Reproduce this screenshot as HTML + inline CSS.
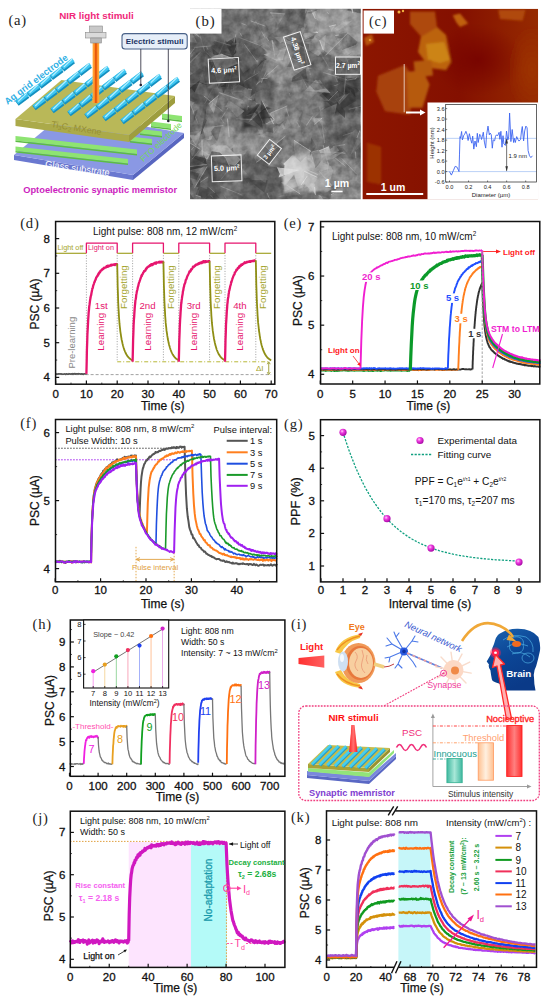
<!DOCTYPE html>
<html><head><meta charset="utf-8"><style>
html,body{margin:0;padding:0;background:#fff;width:550px;height:1004px;overflow:hidden}
svg{display:block}

</style></head><body>
<svg width="550" height="1004" viewBox="0 0 550 1004">
<defs>
<radialGradient id="ball" cx="0.38" cy="0.35" r="0.7"><stop offset="0" stop-color="#ffd0ff"/><stop offset="0.35" stop-color="#f040e0"/><stop offset="1" stop-color="#a000a0"/></radialGradient>
<linearGradient id="beam" x1="0" x2="1"><stop offset="0" stop-color="#ffb040"/><stop offset="0.5" stop-color="#ff7010"/><stop offset="1" stop-color="#ffb040"/></linearGradient>
<linearGradient id="redbeam" x1="0" x2="1"><stop offset="0" stop-color="#ff3030"/><stop offset="1" stop-color="#ff6060"/></linearGradient>
<linearGradient id="spike" x1="0" x2="1"><stop offset="0" stop-color="#ff2020"/><stop offset="0.5" stop-color="#ff7070"/><stop offset="1" stop-color="#ff2020"/></linearGradient>
<linearGradient id="teal" x1="0" x2="1"><stop offset="0" stop-color="#40b8a0"/><stop offset="0.5" stop-color="#a8e8d8"/><stop offset="1" stop-color="#40b8a0"/></linearGradient>
<linearGradient id="peach" x1="0" x2="1"><stop offset="0" stop-color="#ffc090"/><stop offset="0.5" stop-color="#fff0e0"/><stop offset="1" stop-color="#ffc090"/></linearGradient>
<linearGradient id="redbar" x1="0" x2="1"><stop offset="0" stop-color="#ff3030"/><stop offset="0.5" stop-color="#ff8080"/><stop offset="1" stop-color="#ff3030"/></linearGradient>
<linearGradient id="afmbg" x1="0" y1="0" x2="1" y2="0"><stop offset="0" stop-color="#8c1600"/><stop offset="0.55" stop-color="#841000"/><stop offset="1" stop-color="#962a00"/></linearGradient>
<radialGradient id="afmdark"><stop offset="0" stop-color="#740400" stop-opacity="0.8"/><stop offset="1" stop-color="#740400" stop-opacity="0"/></radialGradient>
<radialGradient id="afmlight"><stop offset="0" stop-color="#9e3400" stop-opacity="0.9"/><stop offset="1" stop-color="#9e3400" stop-opacity="0"/></radialGradient>
<filter id="noise" x="0" y="0" width="1" height="1" color-interpolation-filters="sRGB"><feTurbulence type="fractalNoise" baseFrequency="0.12" numOctaves="3" seed="4"/><feColorMatrix type="matrix" values="1 0 0 0 0  1 0 0 0 0  1 0 0 0 0  0 0 0 0 1"/></filter>
<linearGradient id="headg" x1="0" y1="0" x2="0.4" y2="1"><stop offset="0" stop-color="#1a64b0"/><stop offset="0.5" stop-color="#0c4696"/><stop offset="1" stop-color="#0a3a88"/></linearGradient>
<filter id="blur1" x="-0.1" y="-0.1" width="1.2" height="1.2"><feGaussianBlur stdDeviation="1.2"/></filter>
</defs>
<rect width="550" height="1004" fill="#fff"/>
<text x="8.4" y="24.8" font-size="14.6" fill="#222" text-anchor="start" font-weight="normal" font-family="'Liberation Serif', serif" letter-spacing="0.8">(a)</text>
<text x="96.5" y="19" font-size="9.8" fill="#f0287a" text-anchor="middle" font-weight="bold" font-family="'Liberation Sans', sans-serif" >NIR light stimuli</text>
<polygon points="14.0,155.0 133.0,175.0 133.0,180.0 14.0,160.0" fill="#6a78d0" />
<polygon points="133.0,175.0 184.0,133.0 184.0,138.0 133.0,180.0" fill="#5866c0" />
<polygon points="14.0,155.0 65.0,113.0 184.0,133.0 133.0,175.0" fill="#8a98e4" />
<text x="0" y="0" font-size="9.4" fill="#ffffff" text-anchor="middle" font-weight="normal" font-family="'Liberation Sans', sans-serif" transform="translate(77,171.5) rotate(8)">Glass substrate</text>
<polygon points="15.5,136.0 137.0,149.5 137.0,154.0 15.5,140.5" fill="#8ee472" />
<polygon points="15.5,140.5 137.0,154.0 137.0,155.5 15.5,142.0" fill="#5cbc44" />
<polygon points="15.5,146.5 128.0,159.0 128.0,163.5 15.5,151.0" fill="#8ee472" />
<polygon points="15.5,151.0 128.0,163.5 128.0,165.0 15.5,152.5" fill="#5cbc44" />
<polygon points="130.0,136.5 152.0,139.1 152.0,143.6 130.0,141.0" fill="#8ee472" />
<polygon points="130.0,141.0 152.0,143.6 152.0,145.1 130.0,142.5" fill="#5cbc44" />
<polygon points="140.0,129.0 162.0,131.6 162.0,136.1 140.0,133.5" fill="#8ee472" />
<polygon points="140.0,133.5 162.0,136.1 162.0,137.6 140.0,135.0" fill="#5cbc44" />
<polygon points="151.0,121.5 171.0,123.9 171.0,128.4 151.0,126.0" fill="#8ee472" />
<polygon points="151.0,126.0 171.0,128.4 171.0,129.9 151.0,127.5" fill="#5cbc44" />
<polygon points="162.0,113.5 182.0,115.9 182.0,120.4 162.0,118.0" fill="#8ee472" />
<polygon points="162.0,118.0 182.0,120.4 182.0,121.9 162.0,119.5" fill="#5cbc44" />
<polygon points="15.5,119.0 129.0,135.0 129.0,142.0 15.5,126.0" fill="#abaa4a" />
<polygon points="129.0,135.0 175.0,96.0 175.0,103.0 129.0,142.0" fill="#9e9d3e" />
<polygon points="15.5,119.0 61.5,80.0 175.0,96.0 129.0,135.0" fill="#b9b858" />
<text x="0" y="0" font-size="8.8" fill="#968f34" text-anchor="middle" font-weight="normal" font-family="'Liberation Sans', sans-serif" transform="translate(76,131) rotate(9)">Ti<tspan font-size="6" dy="1.5">3</tspan><tspan dy="-1.5">C</tspan><tspan font-size="6" dy="1.5">2</tspan><tspan dy="-1.5"> MXene</tspan></text>
<text x="0" y="0" font-size="8.4" fill="#74d858" text-anchor="middle" font-weight="normal" font-family="'Liberation Sans', sans-serif" transform="translate(163,144) rotate(-43)">FTO electrode</text>
<line x1="17.0" y1="103.6" x2="27.7" y2="95.5" stroke="#1590c0" stroke-width="5.6" stroke-linecap="butt"/>
<line x1="17.0" y1="102.3" x2="27.7" y2="94.2" stroke="#3ec6f2" stroke-width="4.032" stroke-linecap="butt"/>
<line x1="18.2" y1="101.5" x2="26.5" y2="93.4" stroke="#b4f0ff" stroke-width="1.232" stroke-linecap="butt"/>
<line x1="28.4" y1="95.0" x2="39.1" y2="86.9" stroke="#1590c0" stroke-width="5.6" stroke-linecap="butt"/>
<line x1="28.4" y1="93.7" x2="39.1" y2="85.6" stroke="#3ec6f2" stroke-width="4.032" stroke-linecap="butt"/>
<line x1="29.6" y1="92.9" x2="37.9" y2="84.8" stroke="#b4f0ff" stroke-width="1.232" stroke-linecap="butt"/>
<line x1="39.8" y1="86.4" x2="50.5" y2="78.3" stroke="#1590c0" stroke-width="5.6" stroke-linecap="butt"/>
<line x1="39.8" y1="85.1" x2="50.5" y2="77.0" stroke="#3ec6f2" stroke-width="4.032" stroke-linecap="butt"/>
<line x1="41.0" y1="84.3" x2="49.3" y2="76.2" stroke="#b4f0ff" stroke-width="1.232" stroke-linecap="butt"/>
<line x1="51.2" y1="77.8" x2="61.9" y2="69.7" stroke="#1590c0" stroke-width="5.6" stroke-linecap="butt"/>
<line x1="51.2" y1="76.5" x2="61.9" y2="68.4" stroke="#3ec6f2" stroke-width="4.032" stroke-linecap="butt"/>
<line x1="52.4" y1="75.7" x2="60.7" y2="67.6" stroke="#b4f0ff" stroke-width="1.232" stroke-linecap="butt"/>
<line x1="62.6" y1="69.2" x2="73.3" y2="61.1" stroke="#1590c0" stroke-width="5.6" stroke-linecap="butt"/>
<line x1="62.6" y1="67.9" x2="73.3" y2="59.8" stroke="#3ec6f2" stroke-width="4.032" stroke-linecap="butt"/>
<line x1="63.8" y1="67.1" x2="72.1" y2="59.0" stroke="#b4f0ff" stroke-width="1.232" stroke-linecap="butt"/>
<line x1="34.0" y1="108.1" x2="44.7" y2="100.0" stroke="#1590c0" stroke-width="5.6" stroke-linecap="butt"/>
<line x1="34.0" y1="106.8" x2="44.7" y2="98.7" stroke="#3ec6f2" stroke-width="4.032" stroke-linecap="butt"/>
<line x1="35.2" y1="106.0" x2="43.5" y2="97.9" stroke="#b4f0ff" stroke-width="1.232" stroke-linecap="butt"/>
<line x1="45.4" y1="99.5" x2="56.1" y2="91.4" stroke="#1590c0" stroke-width="5.6" stroke-linecap="butt"/>
<line x1="45.4" y1="98.2" x2="56.1" y2="90.1" stroke="#3ec6f2" stroke-width="4.032" stroke-linecap="butt"/>
<line x1="46.6" y1="97.4" x2="54.9" y2="89.3" stroke="#b4f0ff" stroke-width="1.232" stroke-linecap="butt"/>
<line x1="56.8" y1="90.9" x2="67.5" y2="82.8" stroke="#1590c0" stroke-width="5.6" stroke-linecap="butt"/>
<line x1="56.8" y1="89.6" x2="67.5" y2="81.5" stroke="#3ec6f2" stroke-width="4.032" stroke-linecap="butt"/>
<line x1="58.0" y1="88.8" x2="66.3" y2="80.7" stroke="#b4f0ff" stroke-width="1.232" stroke-linecap="butt"/>
<line x1="68.2" y1="82.3" x2="78.9" y2="74.2" stroke="#1590c0" stroke-width="5.6" stroke-linecap="butt"/>
<line x1="68.2" y1="81.0" x2="78.9" y2="72.9" stroke="#3ec6f2" stroke-width="4.032" stroke-linecap="butt"/>
<line x1="69.4" y1="80.2" x2="77.7" y2="72.1" stroke="#b4f0ff" stroke-width="1.232" stroke-linecap="butt"/>
<line x1="79.6" y1="73.7" x2="90.3" y2="65.6" stroke="#1590c0" stroke-width="5.6" stroke-linecap="butt"/>
<line x1="79.6" y1="72.4" x2="90.3" y2="64.3" stroke="#3ec6f2" stroke-width="4.032" stroke-linecap="butt"/>
<line x1="80.8" y1="71.6" x2="89.1" y2="63.5" stroke="#b4f0ff" stroke-width="1.232" stroke-linecap="butt"/>
<line x1="52.0" y1="111.1" x2="62.7" y2="103.0" stroke="#1590c0" stroke-width="5.6" stroke-linecap="butt"/>
<line x1="52.0" y1="109.8" x2="62.7" y2="101.7" stroke="#3ec6f2" stroke-width="4.032" stroke-linecap="butt"/>
<line x1="53.2" y1="109.0" x2="61.5" y2="100.9" stroke="#b4f0ff" stroke-width="1.232" stroke-linecap="butt"/>
<line x1="63.4" y1="102.5" x2="74.1" y2="94.4" stroke="#1590c0" stroke-width="5.6" stroke-linecap="butt"/>
<line x1="63.4" y1="101.2" x2="74.1" y2="93.1" stroke="#3ec6f2" stroke-width="4.032" stroke-linecap="butt"/>
<line x1="64.6" y1="100.4" x2="72.9" y2="92.3" stroke="#b4f0ff" stroke-width="1.232" stroke-linecap="butt"/>
<line x1="74.8" y1="93.9" x2="85.5" y2="85.8" stroke="#1590c0" stroke-width="5.6" stroke-linecap="butt"/>
<line x1="74.8" y1="92.6" x2="85.5" y2="84.5" stroke="#3ec6f2" stroke-width="4.032" stroke-linecap="butt"/>
<line x1="76.0" y1="91.8" x2="84.3" y2="83.7" stroke="#b4f0ff" stroke-width="1.232" stroke-linecap="butt"/>
<line x1="86.2" y1="85.3" x2="96.9" y2="77.2" stroke="#1590c0" stroke-width="5.6" stroke-linecap="butt"/>
<line x1="86.2" y1="84.0" x2="96.9" y2="75.9" stroke="#3ec6f2" stroke-width="4.032" stroke-linecap="butt"/>
<line x1="87.4" y1="83.2" x2="95.7" y2="75.1" stroke="#b4f0ff" stroke-width="1.232" stroke-linecap="butt"/>
<line x1="97.6" y1="76.7" x2="108.3" y2="68.6" stroke="#1590c0" stroke-width="5.6" stroke-linecap="butt"/>
<line x1="97.6" y1="75.4" x2="108.3" y2="67.3" stroke="#3ec6f2" stroke-width="4.032" stroke-linecap="butt"/>
<line x1="98.8" y1="74.6" x2="107.1" y2="66.5" stroke="#b4f0ff" stroke-width="1.232" stroke-linecap="butt"/>
<line x1="69.0" y1="114.1" x2="79.7" y2="106.0" stroke="#1590c0" stroke-width="5.6" stroke-linecap="butt"/>
<line x1="69.0" y1="112.8" x2="79.7" y2="104.7" stroke="#3ec6f2" stroke-width="4.032" stroke-linecap="butt"/>
<line x1="70.2" y1="112.0" x2="78.5" y2="103.9" stroke="#b4f0ff" stroke-width="1.232" stroke-linecap="butt"/>
<line x1="80.4" y1="105.5" x2="91.1" y2="97.4" stroke="#1590c0" stroke-width="5.6" stroke-linecap="butt"/>
<line x1="80.4" y1="104.2" x2="91.1" y2="96.1" stroke="#3ec6f2" stroke-width="4.032" stroke-linecap="butt"/>
<line x1="81.6" y1="103.4" x2="89.9" y2="95.3" stroke="#b4f0ff" stroke-width="1.232" stroke-linecap="butt"/>
<line x1="91.8" y1="96.9" x2="102.5" y2="88.8" stroke="#1590c0" stroke-width="5.6" stroke-linecap="butt"/>
<line x1="91.8" y1="95.6" x2="102.5" y2="87.5" stroke="#3ec6f2" stroke-width="4.032" stroke-linecap="butt"/>
<line x1="93.0" y1="94.8" x2="101.3" y2="86.7" stroke="#b4f0ff" stroke-width="1.232" stroke-linecap="butt"/>
<line x1="103.2" y1="88.3" x2="113.9" y2="80.2" stroke="#1590c0" stroke-width="5.6" stroke-linecap="butt"/>
<line x1="103.2" y1="87.0" x2="113.9" y2="78.9" stroke="#3ec6f2" stroke-width="4.032" stroke-linecap="butt"/>
<line x1="104.4" y1="86.2" x2="112.7" y2="78.1" stroke="#b4f0ff" stroke-width="1.232" stroke-linecap="butt"/>
<line x1="114.6" y1="79.7" x2="125.3" y2="71.6" stroke="#1590c0" stroke-width="5.6" stroke-linecap="butt"/>
<line x1="114.6" y1="78.4" x2="125.3" y2="70.3" stroke="#3ec6f2" stroke-width="4.032" stroke-linecap="butt"/>
<line x1="115.8" y1="77.6" x2="124.1" y2="69.5" stroke="#b4f0ff" stroke-width="1.232" stroke-linecap="butt"/>
<line x1="86.0" y1="116.6" x2="96.7" y2="108.5" stroke="#1590c0" stroke-width="5.6" stroke-linecap="butt"/>
<line x1="86.0" y1="115.3" x2="96.7" y2="107.2" stroke="#3ec6f2" stroke-width="4.032" stroke-linecap="butt"/>
<line x1="87.2" y1="114.5" x2="95.5" y2="106.4" stroke="#b4f0ff" stroke-width="1.232" stroke-linecap="butt"/>
<line x1="97.4" y1="108.0" x2="108.1" y2="99.9" stroke="#1590c0" stroke-width="5.6" stroke-linecap="butt"/>
<line x1="97.4" y1="106.7" x2="108.1" y2="98.6" stroke="#3ec6f2" stroke-width="4.032" stroke-linecap="butt"/>
<line x1="98.6" y1="105.9" x2="106.9" y2="97.8" stroke="#b4f0ff" stroke-width="1.232" stroke-linecap="butt"/>
<line x1="108.8" y1="99.4" x2="119.5" y2="91.3" stroke="#1590c0" stroke-width="5.6" stroke-linecap="butt"/>
<line x1="108.8" y1="98.1" x2="119.5" y2="90.0" stroke="#3ec6f2" stroke-width="4.032" stroke-linecap="butt"/>
<line x1="110.0" y1="97.3" x2="118.3" y2="89.2" stroke="#b4f0ff" stroke-width="1.232" stroke-linecap="butt"/>
<line x1="120.2" y1="90.8" x2="130.9" y2="82.7" stroke="#1590c0" stroke-width="5.6" stroke-linecap="butt"/>
<line x1="120.2" y1="89.5" x2="130.9" y2="81.4" stroke="#3ec6f2" stroke-width="4.032" stroke-linecap="butt"/>
<line x1="121.4" y1="88.7" x2="129.7" y2="80.6" stroke="#b4f0ff" stroke-width="1.232" stroke-linecap="butt"/>
<line x1="131.6" y1="82.2" x2="142.3" y2="74.1" stroke="#1590c0" stroke-width="5.6" stroke-linecap="butt"/>
<line x1="131.6" y1="80.9" x2="142.3" y2="72.8" stroke="#3ec6f2" stroke-width="4.032" stroke-linecap="butt"/>
<line x1="132.8" y1="80.1" x2="141.1" y2="72.0" stroke="#b4f0ff" stroke-width="1.232" stroke-linecap="butt"/>
<line x1="104.0" y1="119.1" x2="114.7" y2="111.0" stroke="#1590c0" stroke-width="5.6" stroke-linecap="butt"/>
<line x1="104.0" y1="117.8" x2="114.7" y2="109.7" stroke="#3ec6f2" stroke-width="4.032" stroke-linecap="butt"/>
<line x1="105.2" y1="117.0" x2="113.5" y2="108.9" stroke="#b4f0ff" stroke-width="1.232" stroke-linecap="butt"/>
<line x1="115.4" y1="110.5" x2="126.1" y2="102.4" stroke="#1590c0" stroke-width="5.6" stroke-linecap="butt"/>
<line x1="115.4" y1="109.2" x2="126.1" y2="101.1" stroke="#3ec6f2" stroke-width="4.032" stroke-linecap="butt"/>
<line x1="116.6" y1="108.4" x2="124.9" y2="100.3" stroke="#b4f0ff" stroke-width="1.232" stroke-linecap="butt"/>
<line x1="126.8" y1="101.9" x2="137.5" y2="93.8" stroke="#1590c0" stroke-width="5.6" stroke-linecap="butt"/>
<line x1="126.8" y1="100.6" x2="137.5" y2="92.5" stroke="#3ec6f2" stroke-width="4.032" stroke-linecap="butt"/>
<line x1="128.0" y1="99.8" x2="136.3" y2="91.7" stroke="#b4f0ff" stroke-width="1.232" stroke-linecap="butt"/>
<line x1="138.2" y1="93.3" x2="148.9" y2="85.2" stroke="#1590c0" stroke-width="5.6" stroke-linecap="butt"/>
<line x1="138.2" y1="92.0" x2="148.9" y2="83.9" stroke="#3ec6f2" stroke-width="4.032" stroke-linecap="butt"/>
<line x1="139.4" y1="91.2" x2="147.7" y2="83.1" stroke="#b4f0ff" stroke-width="1.232" stroke-linecap="butt"/>
<line x1="149.6" y1="84.7" x2="160.3" y2="76.6" stroke="#1590c0" stroke-width="5.6" stroke-linecap="butt"/>
<line x1="149.6" y1="83.4" x2="160.3" y2="75.3" stroke="#3ec6f2" stroke-width="4.032" stroke-linecap="butt"/>
<line x1="150.8" y1="82.6" x2="159.1" y2="74.5" stroke="#b4f0ff" stroke-width="1.232" stroke-linecap="butt"/>
<line x1="122.0" y1="122.1" x2="132.7" y2="114.0" stroke="#1590c0" stroke-width="5.6" stroke-linecap="butt"/>
<line x1="122.0" y1="120.8" x2="132.7" y2="112.7" stroke="#3ec6f2" stroke-width="4.032" stroke-linecap="butt"/>
<line x1="123.2" y1="120.0" x2="131.5" y2="111.9" stroke="#b4f0ff" stroke-width="1.232" stroke-linecap="butt"/>
<line x1="133.4" y1="113.5" x2="144.1" y2="105.4" stroke="#1590c0" stroke-width="5.6" stroke-linecap="butt"/>
<line x1="133.4" y1="112.2" x2="144.1" y2="104.1" stroke="#3ec6f2" stroke-width="4.032" stroke-linecap="butt"/>
<line x1="134.6" y1="111.4" x2="142.9" y2="103.3" stroke="#b4f0ff" stroke-width="1.232" stroke-linecap="butt"/>
<line x1="144.8" y1="104.9" x2="155.5" y2="96.8" stroke="#1590c0" stroke-width="5.6" stroke-linecap="butt"/>
<line x1="144.8" y1="103.6" x2="155.5" y2="95.5" stroke="#3ec6f2" stroke-width="4.032" stroke-linecap="butt"/>
<line x1="146.0" y1="102.8" x2="154.3" y2="94.7" stroke="#b4f0ff" stroke-width="1.232" stroke-linecap="butt"/>
<line x1="156.2" y1="96.3" x2="166.9" y2="88.2" stroke="#1590c0" stroke-width="5.6" stroke-linecap="butt"/>
<line x1="156.2" y1="95.0" x2="166.9" y2="86.9" stroke="#3ec6f2" stroke-width="4.032" stroke-linecap="butt"/>
<line x1="157.4" y1="94.2" x2="165.7" y2="86.1" stroke="#b4f0ff" stroke-width="1.232" stroke-linecap="butt"/>
<line x1="167.6" y1="87.7" x2="178.3" y2="79.6" stroke="#1590c0" stroke-width="5.6" stroke-linecap="butt"/>
<line x1="167.6" y1="86.4" x2="178.3" y2="78.3" stroke="#3ec6f2" stroke-width="4.032" stroke-linecap="butt"/>
<line x1="168.8" y1="85.6" x2="177.1" y2="77.5" stroke="#b4f0ff" stroke-width="1.232" stroke-linecap="butt"/>
<rect x="92.6" y="43" width="6.6" height="60" fill="url(#beam)" stroke="none" stroke-width="1" />
<line x1="95.9" y1="43" x2="95.9" y2="103" stroke="#e0500a" stroke-width="1.4" />
<rect x="89.5" y="26" width="13" height="6.5" fill="#c8c8c8" stroke="#8a8a8a" stroke-width="0.6"/>
<rect x="85.5" y="32.5" width="20.5" height="5.5" fill="#dadada" stroke="#8a8a8a" stroke-width="0.6"/>
<rect x="90.7" y="38" width="10.7" height="5" fill="#b8b8b8" stroke="#8a8a8a" stroke-width="0.6"/>
<rect x="122" y="33.6" width="65.2" height="15.4" fill="#e6eef8" stroke="#4a6288" stroke-width="1.1" rx="3"/>
<text x="154.6" y="44.2" font-size="8.1" fill="#1a3464" text-anchor="middle" font-weight="bold" font-family="'Liberation Sans', sans-serif" >Electric stimuli</text>
<line x1="140.8" y1="49" x2="140.8" y2="85" stroke="#223" stroke-width="0.8" />
<line x1="168.3" y1="49" x2="168.3" y2="121" stroke="#223" stroke-width="0.8" />
<circle cx="140.8" cy="85" r="1.3" fill="#223"/><circle cx="168.3" cy="121" r="1.3" fill="#223"/>
<text x="0" y="0" font-size="9.3" fill="#2fb0e4" text-anchor="middle" font-weight="bold" font-family="'Liberation Sans', sans-serif" transform="translate(38,82) rotate(-37)">Ag grid electrode</text>
<text x="100.2" y="192.6" font-size="9.3" fill="#cc1ebe" text-anchor="middle" font-weight="bold" font-family="'Liberation Sans', sans-serif" >Optoelectronic synaptic memristor</text>
<clipPath id="cb"><rect x="190" y="8.7" width="170.8" height="190.60000000000002"/></clipPath>
<g clip-path="url(#cb)">
<rect x="190" y="8.7" width="170.8" height="190.60000000000002" fill="#6c6c6c" stroke="none" stroke-width="1" />
<g filter="url(#blur1)">
<polygon points="190.0,8.0 363.0,8.0 363.0,20.6 284.4,36.3 221.5,33.2 190.0,26.9" fill="#6e6e6e" />
<polygon points="190.0,26.9 221.5,33.2 218.3,102.4 190.0,102.4" fill="#5f5f5f" />
<polygon points="218.3,26.9 265.5,20.6 293.8,26.9 284.4,52.0 265.5,45.7 237.2,39.5" fill="#707070" />
<polygon points="265.5,36.3 290.7,33.2 293.8,80.3 281.2,86.6 265.5,70.9" fill="#8c8c8c" />
<polygon points="303.2,8.0 363.0,8.0 363.0,55.2 334.7,58.3 312.7,45.7" fill="#959595" />
<polygon points="208.9,55.2 240.3,52.0 265.5,61.5 268.6,89.8 237.2,92.9 208.9,86.6" fill="#4b4b4b" />
<polygon points="237.2,39.5 265.5,45.7 268.6,89.8 252.9,80.3" fill="#5a5a5a" />
<polygon points="190.0,64.6 208.9,61.5 212.0,102.4 190.0,105.5" fill="#555555" />
<polygon points="319.0,77.2 359.9,77.2 363.0,111.8 325.3,115.0 315.8,99.2" fill="#4b4b4b" />
<polygon points="274.9,86.6 322.1,83.5 325.3,140.1 284.4,143.3 271.8,121.2" fill="#7d7d7d" />
<polygon points="240.3,108.7 265.5,105.5 265.5,127.5 243.5,127.5" fill="#3c3c3c" />
<polygon points="196.3,127.5 234.0,124.4 237.2,155.8 199.4,155.8" fill="#9b9b9b" />
<polygon points="234.0,133.8 271.8,130.7 271.8,152.7 237.2,155.8" fill="#8c8c8c" />
<polygon points="278.1,155.8 331.6,152.7 334.7,190.4 284.4,193.6" fill="#aaaaaa" />
<polygon points="281.2,159.0 306.4,155.8 309.5,184.2 284.4,184.2" fill="#cccccc" />
<polygon points="190.0,159.0 215.2,155.8 218.3,199.9 190.0,199.9" fill="#555555" />
<polygon points="243.5,155.8 281.2,159.0 284.4,199.9 243.5,199.9" fill="#5f5f5f" />
<polygon points="334.7,127.5 363.0,124.4 363.0,159.0 337.8,155.8" fill="#5a5a5a" />
<polygon points="328.4,159.0 363.0,159.0 363.0,199.9 331.6,199.9" fill="#828282" />
<polygon points="208.9,96.1 237.2,96.1 243.5,127.5 215.2,127.5" fill="#737373" />
<polygon points="293.8,55.2 334.7,55.2 337.8,80.3 297.0,83.5" fill="#6e6e6e" />
</g>
<polygon points="335.7,168.8 338.9,167.9 324.9,173.0 321.9,171.2" fill="rgb(128,128,128)" opacity="0.62"/>
<polygon points="213.3,118.9 198.4,124.4 189.6,102.4 203.9,105.8 210.3,107.3" fill="rgb(112,112,112)" opacity="0.69"/>
<line x1="198.4" y1="124.4" x2="189.6" y2="102.4" stroke="rgb(182,182,182)" stroke-width="1.0" opacity="0.45"/>
<polygon points="330.2,69.2 319.8,50.2 316.9,50.1" fill="rgb(141,141,141)" opacity="0.78"/>
<polygon points="230.0,166.5 215.0,155.0 218.7,144.9" fill="rgb(151,151,151)" opacity="0.73"/>
<line x1="218.7" y1="144.9" x2="230.0" y2="166.5" stroke="rgb(221,221,221)" stroke-width="1.0" opacity="0.45"/>
<polygon points="324.6,143.1 311.5,110.1 319.7,106.5" fill="rgb(98,98,98)" opacity="0.59"/>
<line x1="319.7" y1="106.5" x2="324.6" y2="143.1" stroke="rgb(168,168,168)" stroke-width="1.0" opacity="0.45"/>
<polygon points="265.3,143.5 256.1,147.4 269.4,120.3 276.5,129.5" fill="rgb(149,149,149)" opacity="0.64"/>
<line x1="276.5" y1="129.5" x2="265.3" y2="143.5" stroke="rgb(219,219,219)" stroke-width="1.0" opacity="0.45"/>
<polygon points="348.2,59.7 343.0,65.3 337.6,63.6 347.2,57.4" fill="rgb(84,84,84)" opacity="0.71"/>
<line x1="343.0" y1="65.3" x2="337.6" y2="63.6" stroke="rgb(154,154,154)" stroke-width="1.0" opacity="0.45"/>
<polygon points="313.8,145.3 313.8,147.3 311.2,148.2 311.2,149.7" fill="rgb(142,142,142)" opacity="0.58"/>
<polygon points="240.9,178.0 237.0,168.5 232.7,165.0 245.3,153.9" fill="rgb(108,108,108)" opacity="0.66"/>
<polygon points="285.7,129.6 280.1,126.6 269.2,113.5 276.2,110.0" fill="rgb(165,165,165)" opacity="0.75"/>
<line x1="280.1" y1="126.6" x2="269.2" y2="113.5" stroke="rgb(235,235,235)" stroke-width="1.0" opacity="0.45"/>
<polygon points="303.0,53.7 303.1,51.0 307.3,46.4" fill="rgb(107,107,107)" opacity="0.52"/>
<line x1="303.0" y1="53.7" x2="303.1" y2="51.0" stroke="rgb(177,177,177)" stroke-width="1.0" opacity="0.45"/>
<polygon points="209.0,191.3 209.9,193.4 203.4,200.0 197.6,195.5" fill="rgb(81,81,81)" opacity="0.72"/>
<line x1="209.9" y1="193.4" x2="203.4" y2="200.0" stroke="rgb(151,151,151)" stroke-width="1.0" opacity="0.45"/>
<polygon points="288.9,116.5 285.6,106.7 303.5,97.3 308.7,101.9" fill="rgb(116,116,116)" opacity="0.64"/>
<line x1="288.9" y1="116.5" x2="285.6" y2="106.7" stroke="rgb(186,186,186)" stroke-width="1.0" opacity="0.45"/>
<polygon points="192.6,37.8 183.8,40.1 185.2,38.3 191.2,27.3 197.5,33.7" fill="rgb(100,100,100)" opacity="0.51"/>
<line x1="197.5" y1="33.7" x2="192.6" y2="37.8" stroke="rgb(170,170,170)" stroke-width="1.0" opacity="0.45"/>
<polygon points="311.2,151.7 311.7,149.4 315.8,136.5" fill="rgb(108,108,108)" opacity="0.65"/>
<polygon points="292.8,171.4 276.8,165.1 289.3,158.4 293.1,158.3 295.0,162.5" fill="rgb(205,205,205)" opacity="0.80"/>
<polygon points="312.8,45.1 312.7,46.8 310.1,47.1 304.4,49.7" fill="rgb(127,127,127)" opacity="0.46"/>
<polygon points="222.0,63.0 217.3,53.5 221.5,52.9 233.8,55.7" fill="rgb(86,86,86)" opacity="0.54"/>
<line x1="221.5" y1="52.9" x2="233.8" y2="55.7" stroke="rgb(156,156,156)" stroke-width="1.0" opacity="0.45"/>
<polygon points="278.0,25.3 270.2,12.8 284.9,13.9" fill="rgb(135,135,135)" opacity="0.65"/>
<line x1="270.2" y1="12.8" x2="284.9" y2="13.9" stroke="rgb(205,205,205)" stroke-width="1.0" opacity="0.45"/>
<polygon points="320.2,113.3 312.3,119.3 323.9,107.6" fill="rgb(116,116,116)" opacity="0.54"/>
<line x1="312.3" y1="119.3" x2="323.9" y2="107.6" stroke="rgb(186,186,186)" stroke-width="1.0" opacity="0.45"/>
<polygon points="336.3,201.4 321.5,207.0 318.7,195.5" fill="rgb(123,123,123)" opacity="0.76"/>
<line x1="318.7" y1="195.5" x2="336.3" y2="201.4" stroke="rgb(193,193,193)" stroke-width="1.0" opacity="0.45"/>
<polygon points="239.4,138.2 228.0,152.3 208.5,145.8 211.7,132.5 225.7,122.6" fill="rgb(132,132,132)" opacity="0.51"/>
<polygon points="335.3,9.5 332.2,10.5 329.9,8.5 326.5,5.6 333.0,-2.0" fill="rgb(103,103,103)" opacity="0.61"/>
<line x1="333.0" y1="-2.0" x2="335.3" y2="9.5" stroke="rgb(173,173,173)" stroke-width="1.0" opacity="0.45"/>
<polygon points="179.5,134.2 180.8,131.2 200.9,130.1" fill="rgb(81,81,81)" opacity="0.58"/>
<line x1="179.5" y1="134.2" x2="180.8" y2="131.2" stroke="rgb(151,151,151)" stroke-width="1.0" opacity="0.45"/>
<polygon points="221.7,106.3 228.0,103.4 232.3,103.8" fill="rgb(100,100,100)" opacity="0.60"/>
<polygon points="199.1,46.0 174.4,40.4 178.1,42.0 190.2,31.6" fill="rgb(109,109,109)" opacity="0.50"/>
<polygon points="221.5,118.1 219.6,112.7 226.4,106.5 228.2,107.5" fill="rgb(107,107,107)" opacity="0.53"/>
<line x1="228.2" y1="107.5" x2="221.5" y2="118.1" stroke="rgb(177,177,177)" stroke-width="1.0" opacity="0.45"/>
<polygon points="299.6,127.1 297.1,122.3 303.9,108.9" fill="rgb(105,105,105)" opacity="0.58"/>
<line x1="299.6" y1="127.1" x2="297.1" y2="122.3" stroke="rgb(175,175,175)" stroke-width="1.0" opacity="0.45"/>
<polygon points="292.1,85.7 291.5,84.7 291.7,84.8 300.1,82.0" fill="rgb(102,102,102)" opacity="0.50"/>
<polygon points="264.9,103.1 257.4,105.0 258.3,104.2 256.2,103.5" fill="rgb(114,114,114)" opacity="0.45"/>
<line x1="258.3" y1="104.2" x2="256.2" y2="103.5" stroke="rgb(184,184,184)" stroke-width="1.0" opacity="0.45"/>
<polygon points="283.7,175.0 255.7,162.7 262.5,161.3 267.3,152.8 284.5,165.0" fill="rgb(86,86,86)" opacity="0.78"/>
<polygon points="206.0,54.6 204.4,47.9 206.0,48.7" fill="rgb(63,63,63)" opacity="0.50"/>
<polygon points="277.2,128.8 266.1,127.6 265.7,124.0 275.3,119.6" fill="rgb(124,124,124)" opacity="0.78"/>
<line x1="265.7" y1="124.0" x2="275.3" y2="119.6" stroke="rgb(194,194,194)" stroke-width="1.0" opacity="0.45"/>
<polygon points="274.1,138.4 272.8,138.9 271.0,141.6 265.5,141.1 261.2,134.3" fill="rgb(147,147,147)" opacity="0.76"/>
<line x1="271.0" y1="141.6" x2="265.5" y2="141.1" stroke="rgb(217,217,217)" stroke-width="1.0" opacity="0.45"/>
<polygon points="318.9,20.8 315.1,18.6 311.1,9.4 313.8,9.8" fill="rgb(195,195,195)" opacity="0.50"/>
<line x1="315.1" y1="18.6" x2="311.1" y2="9.4" stroke="rgb(245,245,245)" stroke-width="1.0" opacity="0.45"/>
<polygon points="317.4,164.3 315.5,162.9 311.4,158.0 313.0,156.3 322.2,153.8" fill="rgb(190,190,190)" opacity="0.48"/>
<polygon points="314.5,124.7 313.1,119.1 309.8,118.7 322.5,117.6" fill="rgb(158,158,158)" opacity="0.70"/>
<line x1="322.5" y1="117.6" x2="314.5" y2="124.7" stroke="rgb(228,228,228)" stroke-width="1.0" opacity="0.45"/>
<polygon points="270.8,53.3 260.7,46.8 263.6,44.2 265.7,45.0 272.4,42.8" fill="rgb(126,126,126)" opacity="0.57"/>
<polygon points="362.7,99.7 364.3,105.4 348.7,109.4 333.5,96.5 342.1,96.6" fill="rgb(81,81,81)" opacity="0.63"/>
<line x1="364.3" y1="105.4" x2="348.7" y2="109.4" stroke="rgb(151,151,151)" stroke-width="1.0" opacity="0.45"/>
<polygon points="256.5,162.4 254.2,157.9 264.9,135.3 270.1,135.9 278.8,145.8" fill="rgb(132,132,132)" opacity="0.72"/>
<line x1="278.8" y1="145.8" x2="256.5" y2="162.4" stroke="rgb(202,202,202)" stroke-width="1.0" opacity="0.45"/>
<polygon points="236.1,118.8 252.3,119.4 263.7,129.7" fill="rgb(100,100,100)" opacity="0.47"/>
<line x1="236.1" y1="118.8" x2="252.3" y2="119.4" stroke="rgb(170,170,170)" stroke-width="1.0" opacity="0.45"/>
<polygon points="279.2,47.3 285.8,39.9 294.1,42.9" fill="rgb(148,148,148)" opacity="0.72"/>
<line x1="285.8" y1="39.9" x2="294.1" y2="42.9" stroke="rgb(218,218,218)" stroke-width="1.0" opacity="0.45"/>
<polygon points="311.1,74.9 280.0,79.9 280.6,67.8 282.1,59.0 301.9,45.1" fill="rgb(151,151,151)" opacity="0.46"/>
<polygon points="189.8,213.3 175.9,205.2 169.4,187.6" fill="rgb(125,125,125)" opacity="0.71"/>
<line x1="169.4" y1="187.6" x2="189.8" y2="213.3" stroke="rgb(195,195,195)" stroke-width="1.0" opacity="0.45"/>
<polygon points="310.6,41.5 310.9,43.8 292.3,48.2" fill="rgb(143,143,143)" opacity="0.74"/>
<polygon points="215.4,17.5 207.4,22.2 200.0,22.8 196.1,13.7 200.5,8.3" fill="rgb(118,118,118)" opacity="0.50"/>
<line x1="196.1" y1="13.7" x2="200.5" y2="8.3" stroke="rgb(188,188,188)" stroke-width="1.0" opacity="0.45"/>
<polygon points="264.2,193.2 264.2,192.5 248.5,180.1 267.8,180.1" fill="rgb(61,61,61)" opacity="0.53"/>
<polygon points="364.6,142.8 349.5,156.3 343.7,148.8 337.6,146.4 355.9,128.6" fill="rgb(106,106,106)" opacity="0.77"/>
<polygon points="274.4,30.1 272.3,30.8 269.3,32.0 264.8,21.2 276.6,16.5" fill="rgb(130,130,130)" opacity="0.56"/>
<polygon points="239.9,113.5 231.3,112.1 230.9,86.0 233.6,87.7 236.1,80.2" fill="rgb(103,103,103)" opacity="0.75"/>
<line x1="230.9" y1="86.0" x2="233.6" y2="87.7" stroke="rgb(173,173,173)" stroke-width="1.0" opacity="0.45"/>
<polygon points="224.7,112.2 212.7,108.4 213.6,108.7 221.2,105.5 228.1,111.0" fill="rgb(118,118,118)" opacity="0.78"/>
<polygon points="199.9,68.3 186.4,78.0 172.3,77.4 178.9,48.1 192.8,53.6" fill="rgb(131,131,131)" opacity="0.64"/>
<polygon points="313.3,163.5 305.0,158.0 310.4,158.0 310.3,157.1" fill="rgb(186,186,186)" opacity="0.69"/>
<polygon points="236.9,66.2 225.6,43.0 236.0,36.4" fill="rgb(41,41,41)" opacity="0.69"/>
<polygon points="216.8,60.2 222.2,50.6 228.1,51.0" fill="rgb(63,63,63)" opacity="0.52"/>
<line x1="222.2" y1="50.6" x2="228.1" y2="51.0" stroke="rgb(133,133,133)" stroke-width="1.0" opacity="0.45"/>
<polygon points="204.6,103.9 207.6,86.4 212.8,88.7" fill="rgb(79,79,79)" opacity="0.50"/>
<line x1="212.8" y1="88.7" x2="204.6" y2="103.9" stroke="rgb(149,149,149)" stroke-width="1.0" opacity="0.45"/>
<polygon points="344.8,29.9 340.4,23.0 342.4,24.2 344.1,27.5" fill="rgb(167,167,167)" opacity="0.60"/>
<polygon points="345.1,111.0 345.0,118.0 319.4,95.2 326.5,90.4" fill="rgb(54,54,54)" opacity="0.73"/>
<polygon points="338.7,63.0 331.7,63.4 353.0,52.0" fill="rgb(111,111,111)" opacity="0.78"/>
<line x1="338.7" y1="63.0" x2="331.7" y2="63.4" stroke="rgb(181,181,181)" stroke-width="1.0" opacity="0.45"/>
<polygon points="243.3,53.3 235.8,56.0 239.9,38.0" fill="rgb(87,87,87)" opacity="0.48"/>
<line x1="243.3" y1="53.3" x2="235.8" y2="56.0" stroke="rgb(157,157,157)" stroke-width="1.0" opacity="0.45"/>
<polygon points="203.2,162.0 196.0,163.5 202.9,153.7 205.8,157.1" fill="rgb(106,106,106)" opacity="0.71"/>
<line x1="205.8" y1="157.1" x2="203.2" y2="162.0" stroke="rgb(176,176,176)" stroke-width="1.0" opacity="0.45"/>
<polygon points="279.1,127.7 281.3,117.7 281.4,118.2" fill="rgb(141,141,141)" opacity="0.45"/>
<line x1="281.3" y1="117.7" x2="281.4" y2="118.2" stroke="rgb(211,211,211)" stroke-width="1.0" opacity="0.45"/>
<polygon points="307.1,7.5 299.9,15.1 288.1,4.4 295.0,-10.0 309.1,-2.1" fill="rgb(130,130,130)" opacity="0.76"/>
<polygon points="182.0,64.1 173.7,57.9 193.0,48.5 194.5,48.5" fill="rgb(129,129,129)" opacity="0.51"/>
<line x1="194.5" y1="48.5" x2="182.0" y2="64.1" stroke="rgb(199,199,199)" stroke-width="1.0" opacity="0.45"/>
<polygon points="187.4,94.8 184.6,94.6 185.5,86.8 188.6,84.2 216.9,82.6" fill="rgb(80,80,80)" opacity="0.70"/>
<line x1="188.6" y1="84.2" x2="216.9" y2="82.6" stroke="rgb(150,150,150)" stroke-width="1.0" opacity="0.45"/>
<polygon points="324.8,205.3 326.3,205.2 320.3,195.6 339.1,185.8" fill="rgb(96,96,96)" opacity="0.71"/>
<line x1="326.3" y1="205.2" x2="320.3" y2="195.6" stroke="rgb(166,166,166)" stroke-width="1.0" opacity="0.45"/>
<polygon points="217.2,165.1 208.2,149.0 205.8,145.3 209.6,142.9 226.6,149.4" fill="rgb(178,178,178)" opacity="0.67"/>
<line x1="205.8" y1="145.3" x2="209.6" y2="142.9" stroke="rgb(245,245,245)" stroke-width="1.0" opacity="0.45"/>
<polygon points="191.1,62.4 192.6,60.2 194.1,52.0" fill="rgb(66,66,66)" opacity="0.79"/>
<line x1="194.1" y1="52.0" x2="191.1" y2="62.4" stroke="rgb(136,136,136)" stroke-width="1.0" opacity="0.45"/>
<polygon points="187.3,180.1 182.8,163.4 193.9,155.5 212.3,159.7" fill="rgb(53,53,53)" opacity="0.68"/>
<line x1="212.3" y1="159.7" x2="187.3" y2="180.1" stroke="rgb(123,123,123)" stroke-width="1.0" opacity="0.45"/>
<polygon points="290.2,96.3 289.6,93.1 288.6,91.8 288.3,85.6 295.3,83.5" fill="rgb(114,114,114)" opacity="0.59"/>
<line x1="290.2" y1="96.3" x2="289.6" y2="93.1" stroke="rgb(184,184,184)" stroke-width="1.0" opacity="0.45"/>
<polygon points="337.8,82.0 331.6,82.5 332.1,75.9 334.0,73.7" fill="rgb(102,102,102)" opacity="0.70"/>
<line x1="334.0" y1="73.7" x2="337.8" y2="82.0" stroke="rgb(172,172,172)" stroke-width="1.0" opacity="0.45"/>
<polygon points="256.3,163.3 239.5,164.6 236.3,158.3" fill="rgb(84,84,84)" opacity="0.52"/>
<line x1="239.5" y1="164.6" x2="236.3" y2="158.3" stroke="rgb(154,154,154)" stroke-width="1.0" opacity="0.45"/>
<polygon points="242.8,187.2 241.7,194.8 220.3,186.1 223.9,181.4" fill="rgb(98,98,98)" opacity="0.63"/>
<line x1="241.7" y1="194.8" x2="220.3" y2="186.1" stroke="rgb(168,168,168)" stroke-width="1.0" opacity="0.45"/>
<polygon points="263.4,69.7 265.8,66.3 267.4,61.4" fill="rgb(98,98,98)" opacity="0.64"/>
<polygon points="236.0,87.0 220.4,87.1 227.6,82.1 234.7,86.7 234.0,86.6" fill="rgb(34,34,34)" opacity="0.54"/>
<line x1="234.7" y1="86.7" x2="234.0" y2="86.6" stroke="rgb(104,104,104)" stroke-width="1.0" opacity="0.45"/>
<polygon points="213.6,54.8 209.7,45.2 232.2,43.9 238.7,43.6" fill="rgb(79,79,79)" opacity="0.51"/>
<line x1="232.2" y1="43.9" x2="238.7" y2="43.6" stroke="rgb(149,149,149)" stroke-width="1.0" opacity="0.45"/>
<polygon points="247.9,97.6 234.9,88.4 253.9,74.2 255.0,69.4 268.4,85.0" fill="rgb(83,83,83)" opacity="0.77"/>
<line x1="253.9" y1="74.2" x2="255.0" y2="69.4" stroke="rgb(153,153,153)" stroke-width="1.0" opacity="0.45"/>
<polygon points="353.7,169.0 354.1,170.7 347.4,171.1 357.4,163.1" fill="rgb(115,115,115)" opacity="0.57"/>
<polygon points="274.3,138.1 256.2,134.1 260.6,133.6 273.0,126.1" fill="rgb(91,91,91)" opacity="0.73"/>
<line x1="273.0" y1="126.1" x2="274.3" y2="138.1" stroke="rgb(161,161,161)" stroke-width="1.0" opacity="0.45"/>
<polygon points="306.9,102.2 318.9,90.9 329.4,100.7" fill="rgb(106,106,106)" opacity="0.54"/>
<polygon points="319.2,30.8 316.3,31.8 313.0,30.8 316.2,20.6 318.2,21.9" fill="rgb(133,133,133)" opacity="0.71"/>
<polygon points="256.3,119.7 256.7,112.4 256.4,112.7 257.0,112.0" fill="rgb(62,62,62)" opacity="0.47"/>
<line x1="256.4" y1="112.7" x2="257.0" y2="112.0" stroke="rgb(132,132,132)" stroke-width="1.0" opacity="0.45"/>
<polygon points="372.0,16.3 346.4,10.4 349.6,-0.3 372.6,3.1" fill="rgb(83,83,83)" opacity="0.79"/>
<line x1="372.0" y1="16.3" x2="346.4" y2="10.4" stroke="rgb(153,153,153)" stroke-width="1.0" opacity="0.45"/>
<polygon points="267.9,150.6 257.6,129.2 285.5,136.0" fill="rgb(143,143,143)" opacity="0.62"/>
<line x1="285.5" y1="136.0" x2="267.9" y2="150.6" stroke="rgb(213,213,213)" stroke-width="1.0" opacity="0.45"/>
<polygon points="280.5,161.6 274.3,164.5 262.4,151.5 265.3,146.1" fill="rgb(114,114,114)" opacity="0.63"/>
<line x1="265.3" y1="146.1" x2="280.5" y2="161.6" stroke="rgb(184,184,184)" stroke-width="1.0" opacity="0.45"/>
<polygon points="207.2,20.4 204.7,19.4 199.7,10.4 199.5,10.4 212.2,12.6" fill="rgb(110,110,110)" opacity="0.67"/>
<line x1="212.2" y1="12.6" x2="207.2" y2="20.4" stroke="rgb(180,180,180)" stroke-width="1.0" opacity="0.45"/>
<polygon points="265.4,183.0 252.3,174.4 267.9,175.7" fill="rgb(104,104,104)" opacity="0.64"/>
<polygon points="206.1,20.2 206.8,9.4 213.7,3.3" fill="rgb(101,101,101)" opacity="0.76"/>
<line x1="206.8" y1="9.4" x2="213.7" y2="3.3" stroke="rgb(171,171,171)" stroke-width="1.0" opacity="0.45"/>
<polygon points="226.2,59.2 212.8,58.6 205.4,51.2 224.2,42.6" fill="rgb(80,80,80)" opacity="0.47"/>
<line x1="212.8" y1="58.6" x2="205.4" y2="51.2" stroke="rgb(150,150,150)" stroke-width="1.0" opacity="0.45"/>
<polygon points="321.0,18.5 317.5,14.9 328.8,13.0" fill="rgb(156,156,156)" opacity="0.77"/>
<polygon points="259.2,61.2 257.2,65.5 250.7,56.8 258.6,58.3" fill="rgb(107,107,107)" opacity="0.70"/>
<polygon points="194.7,66.1 190.4,61.3 192.7,61.8 189.9,58.8 196.8,50.9" fill="rgb(99,99,99)" opacity="0.75"/>
<polygon points="217.1,141.8 210.7,131.7 224.8,114.9" fill="rgb(98,98,98)" opacity="0.57"/>
<polygon points="355.9,69.0 352.5,72.2 346.0,57.6" fill="rgb(105,105,105)" opacity="0.57"/>
<line x1="352.5" y1="72.2" x2="346.0" y2="57.6" stroke="rgb(175,175,175)" stroke-width="1.0" opacity="0.45"/>
<polygon points="330.6,93.1 305.0,90.4 315.4,79.7 319.4,79.8 322.8,84.7" fill="rgb(165,165,165)" opacity="0.71"/>
<line x1="319.4" y1="79.8" x2="322.8" y2="84.7" stroke="rgb(235,235,235)" stroke-width="1.0" opacity="0.45"/>
<polygon points="220.3,55.1 213.4,55.8 212.3,48.3" fill="rgb(51,51,51)" opacity="0.64"/>
<line x1="220.3" y1="55.1" x2="213.4" y2="55.8" stroke="rgb(121,121,121)" stroke-width="1.0" opacity="0.45"/>
<polygon points="200.1,62.1 223.0,68.8 220.8,78.2" fill="rgb(98,98,98)" opacity="0.53"/>
<polygon points="357.6,41.9 355.2,45.5 342.6,50.2 334.3,35.4 346.7,32.5" fill="rgb(106,106,106)" opacity="0.75"/>
<line x1="355.2" y1="45.5" x2="342.6" y2="50.2" stroke="rgb(176,176,176)" stroke-width="1.0" opacity="0.45"/>
<polygon points="354.4,157.8 345.5,158.2 345.2,155.0 355.6,154.5" fill="rgb(97,97,97)" opacity="0.62"/>
<polygon points="364.6,177.4 363.1,180.6 357.9,182.0 356.8,178.4 359.6,171.2" fill="rgb(110,110,110)" opacity="0.51"/>
<polygon points="189.2,122.8 194.3,119.1 196.2,121.0 198.7,118.1 199.6,126.6" fill="rgb(98,98,98)" opacity="0.59"/>
<polygon points="199.7,77.5 194.9,75.2 182.2,64.8 206.0,45.3 207.8,49.6" fill="rgb(82,82,82)" opacity="0.64"/>
<line x1="206.0" y1="45.3" x2="207.8" y2="49.6" stroke="rgb(152,152,152)" stroke-width="1.0" opacity="0.45"/>
<polygon points="256.0,102.0 245.2,95.7 245.7,89.1 244.4,87.4 249.9,83.3" fill="rgb(67,67,67)" opacity="0.56"/>
<line x1="245.7" y1="89.1" x2="244.4" y2="87.4" stroke="rgb(137,137,137)" stroke-width="1.0" opacity="0.45"/>
<polygon points="217.8,153.3 211.4,161.0 206.9,163.1 201.1,145.4 214.2,140.5" fill="rgb(177,177,177)" opacity="0.48"/>
<polygon points="194.8,102.4 191.0,106.3 169.8,93.3" fill="rgb(139,139,139)" opacity="0.57"/>
<polygon points="244.4,63.3 239.9,71.8 230.2,57.2 237.7,51.7" fill="rgb(72,72,72)" opacity="0.56"/>
<polygon points="222.3,87.5 221.8,87.7 223.5,93.3 226.7,86.3" fill="rgb(65,65,65)" opacity="0.66"/>
<polygon points="236.6,148.6 231.1,140.8 236.8,136.4 238.9,138.6" fill="rgb(145,145,145)" opacity="0.64"/>
<polygon points="207.0,120.0 200.5,135.8 205.8,107.8" fill="rgb(73,73,73)" opacity="0.77"/>
<line x1="205.8" y1="107.8" x2="207.0" y2="120.0" stroke="rgb(143,143,143)" stroke-width="1.0" opacity="0.45"/>
<polygon points="193.9,122.3 193.5,121.3 194.5,111.4 197.7,109.6" fill="rgb(76,76,76)" opacity="0.70"/>
<polygon points="208.6,95.9 194.0,93.3 202.4,72.9" fill="rgb(108,108,108)" opacity="0.55"/>
<polygon points="282.7,46.6 262.5,43.9 259.5,37.5 272.2,26.8 278.1,28.6" fill="rgb(127,127,127)" opacity="0.74"/>
<polygon points="195.4,165.8 176.7,147.3 186.2,140.7" fill="rgb(68,68,68)" opacity="0.56"/>
<polygon points="308.0,89.1 300.7,74.8 307.6,70.9 309.7,72.1" fill="rgb(106,106,106)" opacity="0.64"/>
<line x1="308.0" y1="89.1" x2="300.7" y2="74.8" stroke="rgb(176,176,176)" stroke-width="1.0" opacity="0.45"/>
<polygon points="345.5,99.6 344.0,89.3 345.7,83.9 358.5,88.9 359.4,90.8" fill="rgb(54,54,54)" opacity="0.45"/>
<line x1="358.5" y1="88.9" x2="359.4" y2="90.8" stroke="rgb(124,124,124)" stroke-width="1.0" opacity="0.45"/>
<polygon points="352.4,132.5 342.7,135.6 338.3,135.5 351.6,126.8" fill="rgb(82,82,82)" opacity="0.53"/>
<line x1="352.4" y1="132.5" x2="342.7" y2="135.6" stroke="rgb(152,152,152)" stroke-width="1.0" opacity="0.45"/>
<polygon points="355.9,57.2 350.7,58.9 343.7,62.9 328.5,49.3" fill="rgb(139,139,139)" opacity="0.65"/>
<polygon points="207.2,136.1 196.3,145.9 192.5,139.9 188.5,134.9" fill="rgb(159,159,159)" opacity="0.60"/>
<line x1="196.3" y1="145.9" x2="192.5" y2="139.9" stroke="rgb(229,229,229)" stroke-width="1.0" opacity="0.45"/>
<polygon points="199.4,81.9 202.4,83.9 207.4,84.7" fill="rgb(57,57,57)" opacity="0.79"/>
<polygon points="359.0,77.5 343.7,78.6 340.3,65.5 357.3,71.1" fill="rgb(124,124,124)" opacity="0.78"/>
<polygon points="279.6,167.7 267.6,166.1 283.9,139.5 296.5,150.8" fill="rgb(120,120,120)" opacity="0.78"/>
<polygon points="309.7,45.1 313.2,42.3 317.8,36.3" fill="rgb(151,151,151)" opacity="0.64"/>
<polygon points="355.9,158.5 344.1,158.1 342.8,156.3 353.8,147.1 355.4,151.6" fill="rgb(103,103,103)" opacity="0.75"/>
<line x1="355.4" y1="151.6" x2="355.9" y2="158.5" stroke="rgb(173,173,173)" stroke-width="1.0" opacity="0.45"/>
<polygon points="233.4,157.1 225.0,150.8 225.9,147.6 230.0,149.2 233.0,147.4" fill="rgb(87,87,87)" opacity="0.53"/>
<polygon points="246.4,115.7 257.8,103.7 271.5,108.4" fill="rgb(34,34,34)" opacity="0.46"/>
<line x1="271.5" y1="108.4" x2="246.4" y2="115.7" stroke="rgb(104,104,104)" stroke-width="1.0" opacity="0.45"/>
<polygon points="281.8,63.2 263.5,54.4 286.3,48.6" fill="rgb(182,182,182)" opacity="0.66"/>
<polygon points="355.7,101.1 333.1,114.2 339.2,77.9 355.0,90.7" fill="rgb(57,57,57)" opacity="0.80"/>
<polygon points="347.1,46.7 338.5,51.1 315.3,37.2 338.9,29.8 344.1,29.7" fill="rgb(129,129,129)" opacity="0.61"/>
<polygon points="222.9,111.4 203.7,95.8 205.5,90.7 206.9,87.6 214.2,82.0" fill="rgb(100,100,100)" opacity="0.57"/>
<line x1="222.9" y1="111.4" x2="203.7" y2="95.8" stroke="rgb(170,170,170)" stroke-width="1.0" opacity="0.45"/>
<polygon points="239.1,167.6 237.2,165.0 238.8,158.1" fill="rgb(94,94,94)" opacity="0.57"/>
<line x1="239.1" y1="167.6" x2="237.2" y2="165.0" stroke="rgb(164,164,164)" stroke-width="1.0" opacity="0.45"/>
<polygon points="280.3,37.0 275.3,38.8 277.0,21.0" fill="rgb(139,139,139)" opacity="0.53"/>
<polygon points="206.7,164.4 184.1,167.4 181.5,152.0" fill="rgb(105,105,105)" opacity="0.47"/>
<line x1="206.7" y1="164.4" x2="184.1" y2="167.4" stroke="rgb(175,175,175)" stroke-width="1.0" opacity="0.45"/>
<polygon points="215.0,192.8 219.6,197.8 194.0,197.5 197.6,177.3" fill="rgb(67,67,67)" opacity="0.66"/>
<line x1="197.6" y1="177.3" x2="215.0" y2="192.8" stroke="rgb(137,137,137)" stroke-width="1.0" opacity="0.45"/>
<polygon points="305.0,37.9 302.9,35.5 303.9,33.2 316.3,31.8 318.0,32.6" fill="rgb(218,218,218)" opacity="0.77"/>
<line x1="316.3" y1="31.8" x2="318.0" y2="32.6" stroke="rgb(245,245,245)" stroke-width="1.0" opacity="0.45"/>
<polygon points="194.6,180.4 189.4,185.3 186.8,176.0 186.6,172.7 193.7,175.5" fill="rgb(91,91,91)" opacity="0.66"/>
<polygon points="215.0,74.5 216.4,63.3 227.2,64.1" fill="rgb(98,98,98)" opacity="0.65"/>
<line x1="215.0" y1="74.5" x2="216.4" y2="63.3" stroke="rgb(168,168,168)" stroke-width="1.0" opacity="0.45"/>
<polygon points="277.4,53.5 269.1,54.5 263.0,47.9" fill="rgb(156,156,156)" opacity="0.47"/>
<polygon points="227.8,202.4 228.7,202.9 223.8,194.6" fill="rgb(77,77,77)" opacity="0.65"/>
<line x1="228.7" y1="202.9" x2="223.8" y2="194.6" stroke="rgb(147,147,147)" stroke-width="1.0" opacity="0.45"/>
<polygon points="340.2,83.2 336.4,85.4 333.1,85.9" fill="rgb(167,167,167)" opacity="0.71"/>
<polygon points="303.2,49.1 296.7,52.9 289.3,33.6 300.8,30.3 317.4,32.9" fill="rgb(122,122,122)" opacity="0.68"/>
<polygon points="291.6,44.4 277.5,49.9 270.3,37.4 266.6,36.6" fill="rgb(107,107,107)" opacity="0.73"/>
<line x1="266.6" y1="36.6" x2="291.6" y2="44.4" stroke="rgb(177,177,177)" stroke-width="1.0" opacity="0.45"/>
<polygon points="323.8,160.9 335.2,158.0 346.4,167.0" fill="rgb(124,124,124)" opacity="0.68"/>
<line x1="335.2" y1="158.0" x2="346.4" y2="167.0" stroke="rgb(194,194,194)" stroke-width="1.0" opacity="0.45"/>
<polygon points="285.9,85.0 271.8,83.2 269.3,81.7" fill="rgb(108,108,108)" opacity="0.70"/>
<polygon points="273.2,206.9 267.0,193.0 273.6,191.0" fill="rgb(112,112,112)" opacity="0.63"/>
<line x1="273.2" y1="206.9" x2="267.0" y2="193.0" stroke="rgb(182,182,182)" stroke-width="1.0" opacity="0.45"/>
<polygon points="311.8,175.1 335.5,168.3 338.5,167.2 337.6,165.5" fill="rgb(110,110,110)" opacity="0.70"/>
<polygon points="283.5,176.1 283.9,175.6 284.8,175.6 279.7,168.8" fill="rgb(79,79,79)" opacity="0.60"/>
<line x1="283.9" y1="175.6" x2="284.8" y2="175.6" stroke="rgb(149,149,149)" stroke-width="1.0" opacity="0.45"/>
<polygon points="287.1,38.0 274.0,45.7 264.0,38.7 289.3,21.4 289.5,26.0" fill="rgb(110,110,110)" opacity="0.63"/>
<polygon points="277.1,197.1 304.9,186.8 303.4,184.7 305.8,194.2" fill="rgb(129,129,129)" opacity="0.52"/>
<polygon points="192.0,159.2 202.5,128.8 206.6,141.4" fill="rgb(78,78,78)" opacity="0.65"/>
<line x1="206.6" y1="141.4" x2="192.0" y2="159.2" stroke="rgb(148,148,148)" stroke-width="1.0" opacity="0.45"/>
<polygon points="230.8,70.9 227.9,70.6 218.5,87.0 207.6,50.2 228.0,63.4" fill="rgb(108,108,108)" opacity="0.66"/>
<line x1="230.8" y1="70.9" x2="227.9" y2="70.6" stroke="rgb(178,178,178)" stroke-width="1.0" opacity="0.45"/>
<polygon points="265.3,38.0 241.4,46.1 253.4,20.7 255.4,20.8" fill="rgb(99,99,99)" opacity="0.46"/>
<line x1="255.4" y1="20.8" x2="265.3" y2="38.0" stroke="rgb(169,169,169)" stroke-width="1.0" opacity="0.45"/>
<polygon points="229.2,137.1 227.3,121.2 227.4,118.5" fill="rgb(140,140,140)" opacity="0.49"/>
<line x1="227.4" y1="118.5" x2="229.2" y2="137.1" stroke="rgb(210,210,210)" stroke-width="1.0" opacity="0.45"/>
<polygon points="204.5,51.1 183.2,34.9 196.1,22.3" fill="rgb(81,81,81)" opacity="0.47"/>
<line x1="196.1" y1="22.3" x2="204.5" y2="51.1" stroke="rgb(151,151,151)" stroke-width="1.0" opacity="0.45"/>
<polygon points="194.3,188.2 188.5,171.3 192.4,169.5 207.2,166.5" fill="rgb(126,126,126)" opacity="0.60"/>
<line x1="207.2" y1="166.5" x2="194.3" y2="188.2" stroke="rgb(196,196,196)" stroke-width="1.0" opacity="0.45"/>
<polygon points="315.7,56.9 323.8,52.3 324.0,50.7 331.6,55.9 330.4,57.7" fill="rgb(85,85,85)" opacity="0.47"/>
<polygon points="356.7,77.4 355.1,79.5 343.8,80.7" fill="rgb(136,136,136)" opacity="0.79"/>
<line x1="356.7" y1="77.4" x2="355.1" y2="79.5" stroke="rgb(206,206,206)" stroke-width="1.0" opacity="0.45"/>
<polygon points="300.2,208.0 304.1,183.9 309.7,189.0" fill="rgb(121,121,121)" opacity="0.49"/>
<polygon points="272.0,49.7 264.5,44.5 263.6,39.3" fill="rgb(146,146,146)" opacity="0.65"/>
<polygon points="252.7,207.3 243.7,217.7 237.1,195.1 255.3,199.8" fill="rgb(92,92,92)" opacity="0.72"/>
<line x1="255.3" y1="199.8" x2="252.7" y2="207.3" stroke="rgb(162,162,162)" stroke-width="1.0" opacity="0.45"/>
<polygon points="230.9,76.8 222.4,72.2 220.6,63.8 235.2,54.3" fill="rgb(53,53,53)" opacity="0.74"/>
<line x1="235.2" y1="54.3" x2="230.9" y2="76.8" stroke="rgb(123,123,123)" stroke-width="1.0" opacity="0.45"/>
<polygon points="215.4,18.2 209.3,19.7 215.4,4.8" fill="rgb(99,99,99)" opacity="0.62"/>
<polygon points="205.3,152.5 198.0,144.4 203.8,138.5 213.2,135.3" fill="rgb(178,178,178)" opacity="0.73"/>
<polygon points="369.7,140.1 356.9,138.0 359.8,130.5" fill="rgb(137,137,137)" opacity="0.72"/>
<line x1="356.9" y1="138.0" x2="359.8" y2="130.5" stroke="rgb(207,207,207)" stroke-width="1.0" opacity="0.45"/>
<polygon points="196.5,199.5 194.1,198.9 191.3,193.7 199.8,189.0" fill="rgb(107,107,107)" opacity="0.58"/>
<line x1="196.5" y1="199.5" x2="194.1" y2="198.9" stroke="rgb(177,177,177)" stroke-width="1.0" opacity="0.45"/>
<polygon points="289.1,57.1 302.5,62.9 301.2,62.6" fill="rgb(130,130,130)" opacity="0.60"/>
<line x1="301.2" y1="62.6" x2="289.1" y2="57.1" stroke="rgb(200,200,200)" stroke-width="1.0" opacity="0.45"/>
<polygon points="336.3,203.1 330.0,200.8 331.0,194.8 334.2,192.9" fill="rgb(133,133,133)" opacity="0.69"/>
<line x1="331.0" y1="194.8" x2="334.2" y2="192.9" stroke="rgb(203,203,203)" stroke-width="1.0" opacity="0.45"/>
<polygon points="235.9,34.4 234.1,42.8 216.9,25.3" fill="rgb(115,115,115)" opacity="0.46"/>
<line x1="235.9" y1="34.4" x2="234.1" y2="42.8" stroke="rgb(185,185,185)" stroke-width="1.0" opacity="0.45"/>
<polygon points="242.7,12.9 242.5,18.0 242.4,6.0" fill="rgb(135,135,135)" opacity="0.50"/>
<polygon points="347.1,79.7 341.6,80.7 327.2,73.7 322.8,72.3" fill="rgb(114,114,114)" opacity="0.75"/>
<line x1="322.8" y1="72.3" x2="347.1" y2="79.7" stroke="rgb(184,184,184)" stroke-width="1.0" opacity="0.45"/>
<polygon points="190.5,101.5 180.3,103.3 176.9,103.4 182.1,89.0 188.2,87.3" fill="rgb(107,107,107)" opacity="0.58"/>
<polygon points="193.7,147.1 191.5,149.9 184.5,137.4 187.1,140.7 189.4,139.3" fill="rgb(117,117,117)" opacity="0.76"/>
<line x1="193.7" y1="147.1" x2="191.5" y2="149.9" stroke="rgb(187,187,187)" stroke-width="1.0" opacity="0.45"/>
<polygon points="199.5,37.4 179.5,27.0 182.4,18.0 191.1,7.7 191.2,15.6" fill="rgb(118,118,118)" opacity="0.61"/>
<polygon points="211.9,106.5 200.3,112.0 213.0,99.7 212.8,101.5" fill="rgb(112,112,112)" opacity="0.59"/>
<line x1="212.8" y1="101.5" x2="211.9" y2="106.5" stroke="rgb(182,182,182)" stroke-width="1.0" opacity="0.45"/>
<polygon points="212.4,157.2 188.4,141.9 207.6,130.6" fill="rgb(138,138,138)" opacity="0.61"/>
<line x1="212.4" y1="157.2" x2="188.4" y2="141.9" stroke="rgb(208,208,208)" stroke-width="1.0" opacity="0.45"/>
<polygon points="344.2,94.1 338.8,90.7 334.8,86.8 347.2,59.0" fill="rgb(86,86,86)" opacity="0.48"/>
<line x1="347.2" y1="59.0" x2="344.2" y2="94.1" stroke="rgb(156,156,156)" stroke-width="1.0" opacity="0.45"/>
<polygon points="256.5,84.6 265.5,58.7 279.0,64.5" fill="rgb(126,126,126)" opacity="0.68"/>
<line x1="279.0" y1="64.5" x2="256.5" y2="84.6" stroke="rgb(196,196,196)" stroke-width="1.0" opacity="0.45"/>
<polygon points="257.6,183.3 249.0,185.9 236.3,167.5 234.3,168.3" fill="rgb(80,80,80)" opacity="0.74"/>
<polygon points="212.0,30.5 206.3,33.5 204.1,31.5 211.0,23.1" fill="rgb(104,104,104)" opacity="0.60"/>
<polygon points="335.2,35.5 338.7,35.2 340.1,27.9 344.6,30.3" fill="rgb(154,154,154)" opacity="0.60"/>
<line x1="335.2" y1="35.5" x2="338.7" y2="35.2" stroke="rgb(224,224,224)" stroke-width="1.0" opacity="0.45"/>
<polygon points="317.5,11.4 306.2,9.9 310.6,-5.1" fill="rgb(121,121,121)" opacity="0.78"/>
<polygon points="350.1,9.2 341.4,9.4 345.0,-0.8 349.1,1.9" fill="rgb(104,104,104)" opacity="0.61"/>
<line x1="341.4" y1="9.4" x2="345.0" y2="-0.8" stroke="rgb(174,174,174)" stroke-width="1.0" opacity="0.45"/>
<polygon points="199.7,37.0 182.0,22.5 188.7,21.8 192.7,16.3 196.7,17.7" fill="rgb(106,106,106)" opacity="0.55"/>
<line x1="199.7" y1="37.0" x2="182.0" y2="22.5" stroke="rgb(176,176,176)" stroke-width="1.0" opacity="0.45"/>
<polygon points="248.2,191.9 239.2,193.3 248.9,181.2 250.1,184.4" fill="rgb(93,93,93)" opacity="0.68"/>
<polygon points="352.7,182.9 326.4,185.7 327.2,171.4 328.5,163.5 356.5,167.3" fill="rgb(135,135,135)" opacity="0.46"/>
<line x1="327.2" y1="171.4" x2="328.5" y2="163.5" stroke="rgb(205,205,205)" stroke-width="1.0" opacity="0.45"/>
<polygon points="279.8,51.8 277.4,55.3 274.9,56.9 272.1,40.1" fill="rgb(143,143,143)" opacity="0.75"/>
<line x1="274.9" y1="56.9" x2="272.1" y2="40.1" stroke="rgb(213,213,213)" stroke-width="1.0" opacity="0.45"/>
<polygon points="302.2,35.5 299.7,22.2 306.8,24.1" fill="rgb(152,152,152)" opacity="0.56"/>
<polygon points="345.6,153.3 328.7,151.9 328.5,151.9 330.4,144.9 332.8,142.7" fill="rgb(95,95,95)" opacity="0.58"/>
<line x1="345.6" y1="153.3" x2="328.7" y2="151.9" stroke="rgb(165,165,165)" stroke-width="1.0" opacity="0.45"/>
<polygon points="202.9,199.6 207.6,193.7 210.2,195.3 210.7,195.2 213.0,197.9" fill="rgb(71,71,71)" opacity="0.67"/>
<line x1="210.7" y1="195.2" x2="213.0" y2="197.9" stroke="rgb(141,141,141)" stroke-width="1.0" opacity="0.45"/>
<polygon points="355.6,97.3 346.6,86.2 353.6,89.0" fill="rgb(42,42,42)" opacity="0.51"/>
<polygon points="250.1,147.6 244.8,154.1 235.3,155.0" fill="rgb(152,152,152)" opacity="0.65"/>
<polygon points="318.9,8.8 311.4,13.6 305.2,13.3" fill="rgb(94,94,94)" opacity="0.62"/>
<polygon points="204.6,71.2 189.8,62.7 199.9,52.6 206.5,54.5" fill="rgb(109,109,109)" opacity="0.56"/>
<line x1="189.8" y1="62.7" x2="199.9" y2="52.6" stroke="rgb(179,179,179)" stroke-width="1.0" opacity="0.45"/>
<polygon points="307.6,42.9 301.9,43.0 296.2,42.2" fill="rgb(88,88,88)" opacity="0.76"/>
<line x1="307.6" y1="42.9" x2="301.9" y2="43.0" stroke="rgb(158,158,158)" stroke-width="1.0" opacity="0.45"/>
<polygon points="261.4,82.6 255.8,78.3 258.6,71.0 266.3,71.6" fill="rgb(106,106,106)" opacity="0.80"/>
<line x1="266.3" y1="71.6" x2="261.4" y2="82.6" stroke="rgb(176,176,176)" stroke-width="1.0" opacity="0.45"/>
<polygon points="348.3,20.8 319.4,20.7 314.6,17.2 325.4,1.9 347.9,13.2" fill="rgb(157,157,157)" opacity="0.72"/>
<polygon points="316.3,146.5 310.5,154.6 309.8,156.7 311.2,137.6" fill="rgb(87,87,87)" opacity="0.72"/>
<polygon points="288.5,72.9 280.3,73.7 276.9,60.6 287.6,59.7" fill="rgb(134,134,134)" opacity="0.76"/>
<polygon points="255.2,48.7 251.3,42.0 266.5,37.2 268.8,41.3" fill="rgb(138,138,138)" opacity="0.50"/>
<line x1="266.5" y1="37.2" x2="268.8" y2="41.3" stroke="rgb(208,208,208)" stroke-width="1.0" opacity="0.45"/>
<polygon points="213.7,113.5 208.5,103.9 218.6,95.2" fill="rgb(173,173,173)" opacity="0.47"/>
<line x1="208.5" y1="103.9" x2="218.6" y2="95.2" stroke="rgb(243,243,243)" stroke-width="1.0" opacity="0.45"/>
<polygon points="344.9,144.6 332.8,146.6 335.4,146.1 333.4,145.5 343.0,139.3" fill="rgb(103,103,103)" opacity="0.54"/>
<line x1="344.9" y1="144.6" x2="332.8" y2="146.6" stroke="rgb(173,173,173)" stroke-width="1.0" opacity="0.45"/>
<polygon points="250.3,177.4 227.6,180.5 238.6,164.2" fill="rgb(115,115,115)" opacity="0.71"/>
<polygon points="248.7,106.2 249.1,107.1 247.0,106.9" fill="rgb(139,139,139)" opacity="0.64"/>
<line x1="247.0" y1="106.9" x2="248.7" y2="106.2" stroke="rgb(209,209,209)" stroke-width="1.0" opacity="0.45"/>
<polygon points="338.7,80.1 338.3,79.1 337.2,76.7 337.7,73.8 336.3,70.6" fill="rgb(118,118,118)" opacity="0.68"/>
<polygon points="351.2,23.8 339.0,22.3 347.0,17.8 352.5,17.9 354.7,22.3" fill="rgb(143,143,143)" opacity="0.69"/>
<polygon points="318.6,56.3 304.2,47.5 305.2,42.7 333.4,34.3" fill="rgb(145,145,145)" opacity="0.63"/>
<polygon points="315.4,194.9 308.8,182.9 315.1,184.2 314.6,187.0" fill="rgb(183,183,183)" opacity="0.80"/>
<line x1="314.6" y1="187.0" x2="315.4" y2="194.9" stroke="rgb(245,245,245)" stroke-width="1.0" opacity="0.45"/>
<polygon points="356.8,177.0 356.4,173.9 341.7,158.3" fill="rgb(116,116,116)" opacity="0.61"/>
<line x1="356.4" y1="173.9" x2="341.7" y2="158.3" stroke="rgb(186,186,186)" stroke-width="1.0" opacity="0.45"/>
<polygon points="331.5,31.1 329.1,26.3 335.9,24.8" fill="rgb(183,183,183)" opacity="0.57"/>
<line x1="329.1" y1="26.3" x2="335.9" y2="24.8" stroke="rgb(245,245,245)" stroke-width="1.0" opacity="0.45"/>
<polygon points="350.3,200.8 346.0,185.3 355.7,189.0 359.2,191.4 357.3,192.8" fill="rgb(134,134,134)" opacity="0.75"/>
<polygon points="328.3,130.4 322.6,134.2 320.2,134.3" fill="rgb(132,132,132)" opacity="0.49"/>
<polygon points="329.0,171.5 328.0,178.9 307.5,170.0" fill="rgb(155,155,155)" opacity="0.79"/>
<line x1="328.0" y1="178.9" x2="307.5" y2="170.0" stroke="rgb(225,225,225)" stroke-width="1.0" opacity="0.45"/>
<polygon points="268.0,105.5 248.0,122.8 262.2,100.5" fill="rgb(134,134,134)" opacity="0.55"/>
<polygon points="186.4,107.9 174.9,98.9 180.4,89.7" fill="rgb(113,113,113)" opacity="0.66"/>
<line x1="186.4" y1="107.9" x2="174.9" y2="98.9" stroke="rgb(183,183,183)" stroke-width="1.0" opacity="0.45"/>
<polygon points="196.1,153.4 207.5,139.5 211.0,139.2 216.7,142.8" fill="rgb(129,129,129)" opacity="0.79"/>
<line x1="207.5" y1="139.5" x2="211.0" y2="139.2" stroke="rgb(199,199,199)" stroke-width="1.0" opacity="0.45"/>
<polygon points="314.4,34.6 313.6,38.6 304.2,40.0 301.3,40.9" fill="rgb(93,93,93)" opacity="0.75"/>
<line x1="301.3" y1="40.9" x2="314.4" y2="34.6" stroke="rgb(163,163,163)" stroke-width="1.0" opacity="0.45"/>
<polygon points="307.1,86.8 306.7,79.9 301.8,85.0 303.0,76.6" fill="rgb(111,111,111)" opacity="0.71"/>
<polygon points="218.4,182.4 228.1,170.7 228.7,171.2" fill="rgb(95,95,95)" opacity="0.48"/>
<line x1="218.4" y1="182.4" x2="228.1" y2="170.7" stroke="rgb(165,165,165)" stroke-width="1.0" opacity="0.45"/>
<polygon points="197.1,179.9 187.7,176.9 188.4,170.4 199.7,173.8" fill="rgb(66,66,66)" opacity="0.62"/>
<line x1="199.7" y1="173.8" x2="197.1" y2="179.9" stroke="rgb(136,136,136)" stroke-width="1.0" opacity="0.45"/>
<polygon points="259.2,38.8 257.4,42.1 251.4,39.4 250.0,37.8 255.4,25.1" fill="rgb(119,119,119)" opacity="0.77"/>
<polygon points="364.2,63.2 363.0,67.2 358.5,60.2 355.6,54.7" fill="rgb(151,151,151)" opacity="0.67"/>
<line x1="364.2" y1="63.2" x2="363.0" y2="67.2" stroke="rgb(221,221,221)" stroke-width="1.0" opacity="0.45"/>
<polygon points="306.5,61.7 307.2,69.8 293.0,48.9 298.6,50.5 303.4,42.8" fill="rgb(99,99,99)" opacity="0.79"/>
<line x1="303.4" y1="42.8" x2="306.5" y2="61.7" stroke="rgb(169,169,169)" stroke-width="1.0" opacity="0.45"/>
<polygon points="242.2,113.1 233.6,114.1 230.0,112.1" fill="rgb(73,73,73)" opacity="0.52"/>
<polygon points="322.9,27.6 325.9,14.5 330.4,19.7" fill="rgb(158,158,158)" opacity="0.57"/>
<polygon points="314.3,102.1 313.4,103.6 307.1,102.6 308.1,95.2" fill="rgb(122,122,122)" opacity="0.55"/>
<polygon points="274.1,125.0 264.9,106.5 263.3,103.2" fill="rgb(167,167,167)" opacity="0.50"/>
<line x1="263.3" y1="103.2" x2="274.1" y2="125.0" stroke="rgb(237,237,237)" stroke-width="1.0" opacity="0.45"/>
<polygon points="324.5,87.0 322.8,88.8 309.4,69.7 325.5,62.2" fill="rgb(108,108,108)" opacity="0.64"/>
<polygon points="212.2,68.1 210.3,69.3 214.2,61.5" fill="rgb(45,45,45)" opacity="0.70"/>
<line x1="214.2" y1="61.5" x2="212.2" y2="68.1" stroke="rgb(115,115,115)" stroke-width="1.0" opacity="0.45"/>
<polygon points="197.4,42.9 168.8,40.4 169.3,35.6 194.2,30.9 191.3,31.5" fill="rgb(133,133,133)" opacity="0.79"/>
<line x1="169.3" y1="35.6" x2="194.2" y2="30.9" stroke="rgb(203,203,203)" stroke-width="1.0" opacity="0.45"/>
<polygon points="337.5,86.8 314.8,90.6 305.0,80.6" fill="rgb(78,78,78)" opacity="0.48"/>
<polygon points="223.8,123.3 221.3,121.9 220.2,117.4" fill="rgb(91,91,91)" opacity="0.49"/>
<line x1="220.2" y1="117.4" x2="223.8" y2="123.3" stroke="rgb(161,161,161)" stroke-width="1.0" opacity="0.45"/>
<polygon points="328.1,164.5 322.8,162.6 317.6,144.3 323.1,144.8" fill="rgb(123,123,123)" opacity="0.46"/>
<line x1="323.1" y1="144.8" x2="328.1" y2="164.5" stroke="rgb(193,193,193)" stroke-width="1.0" opacity="0.45"/>
<polygon points="245.4,88.4 237.6,90.4 227.8,88.2 234.7,59.7" fill="rgb(62,62,62)" opacity="0.66"/>
<line x1="227.8" y1="88.2" x2="234.7" y2="59.7" stroke="rgb(132,132,132)" stroke-width="1.0" opacity="0.45"/>
<polygon points="278.6,59.5 263.0,57.2 273.8,50.7" fill="rgb(143,143,143)" opacity="0.48"/>
<polygon points="251.5,62.5 238.4,37.2 260.3,45.6" fill="rgb(97,97,97)" opacity="0.62"/>
<line x1="238.4" y1="37.2" x2="260.3" y2="45.6" stroke="rgb(167,167,167)" stroke-width="1.0" opacity="0.45"/>
<polygon points="242.9,100.6 240.7,105.8 239.0,109.4 219.3,92.6" fill="rgb(125,125,125)" opacity="0.68"/>
<line x1="219.3" y1="92.6" x2="242.9" y2="100.6" stroke="rgb(195,195,195)" stroke-width="1.0" opacity="0.45"/>
<polygon points="220.2,61.8 211.6,68.1 208.6,62.1" fill="rgb(34,34,34)" opacity="0.47"/>
<line x1="220.2" y1="61.8" x2="211.6" y2="68.1" stroke="rgb(104,104,104)" stroke-width="1.0" opacity="0.45"/>
<polygon points="297.4,84.5 296.3,84.4 292.5,79.9 300.5,76.3" fill="rgb(110,110,110)" opacity="0.58"/>
<line x1="292.5" y1="79.9" x2="300.5" y2="76.3" stroke="rgb(180,180,180)" stroke-width="1.0" opacity="0.45"/>
<polygon points="338.8,99.3 336.3,104.2 328.7,100.5 338.0,90.9 339.3,95.7" fill="rgb(84,84,84)" opacity="0.52"/>
<line x1="328.7" y1="100.5" x2="338.0" y2="90.9" stroke="rgb(154,154,154)" stroke-width="1.0" opacity="0.45"/>
<polygon points="238.6,62.3 232.9,68.3 226.8,72.1 211.2,72.1 225.5,39.8" fill="rgb(53,53,53)" opacity="0.50"/>
<line x1="211.2" y1="72.1" x2="225.5" y2="39.8" stroke="rgb(123,123,123)" stroke-width="1.0" opacity="0.45"/>
<polygon points="247.7,22.1 246.8,25.3 241.3,23.2 245.2,10.8" fill="rgb(102,102,102)" opacity="0.71"/>
<line x1="246.8" y1="25.3" x2="241.3" y2="23.2" stroke="rgb(172,172,172)" stroke-width="1.0" opacity="0.45"/>
<polygon points="239.4,114.7 233.4,114.5 226.9,112.9 241.9,102.9 240.5,104.7" fill="rgb(120,120,120)" opacity="0.50"/>
<polygon points="331.1,188.6 327.3,187.2 351.9,179.7 352.4,177.5" fill="rgb(114,114,114)" opacity="0.48"/>
<polygon points="272.0,199.8 270.4,200.7 254.6,198.5 254.0,195.7 275.5,199.2" fill="rgb(90,90,90)" opacity="0.59"/>
<polygon points="207.2,88.1 215.6,81.8 216.4,82.8 218.5,88.4 219.4,89.5" fill="rgb(114,114,114)" opacity="0.55"/>
<polygon points="326.8,132.6 321.9,123.5 321.2,121.0 317.8,119.7" fill="rgb(139,139,139)" opacity="0.74"/>
<line x1="321.2" y1="121.0" x2="317.8" y2="119.7" stroke="rgb(209,209,209)" stroke-width="1.0" opacity="0.45"/>
<polygon points="324.1,50.3 323.2,50.1 319.6,40.3 326.1,34.4" fill="rgb(184,184,184)" opacity="0.74"/>
<line x1="323.2" y1="50.1" x2="319.6" y2="40.3" stroke="rgb(245,245,245)" stroke-width="1.0" opacity="0.45"/>
<polygon points="300.3,194.1 285.8,184.4 294.1,174.7" fill="rgb(151,151,151)" opacity="0.72"/>
<line x1="300.3" y1="194.1" x2="285.8" y2="184.4" stroke="rgb(221,221,221)" stroke-width="1.0" opacity="0.45"/>
<polygon points="348.1,31.6 349.2,31.2 345.6,28.9 347.9,27.4 361.7,24.7" fill="rgb(160,160,160)" opacity="0.47"/>
<polygon points="279.5,138.9 274.5,135.5 274.2,109.6 270.4,113.2 287.2,105.9" fill="rgb(133,133,133)" opacity="0.76"/>
<line x1="270.4" y1="113.2" x2="287.2" y2="105.9" stroke="rgb(203,203,203)" stroke-width="1.0" opacity="0.45"/>
<polygon points="254.2,100.1 252.1,99.9 247.9,99.1 256.2,92.3 255.6,91.2" fill="rgb(134,134,134)" opacity="0.65"/>
<line x1="252.1" y1="99.9" x2="247.9" y2="99.1" stroke="rgb(204,204,204)" stroke-width="1.0" opacity="0.45"/>
<polygon points="227.0,83.5 216.1,77.7 218.5,69.5" fill="rgb(99,99,99)" opacity="0.45"/>
<polygon points="255.0,63.6 258.2,60.8 255.3,60.9 260.1,56.2 268.4,56.1" fill="rgb(105,105,105)" opacity="0.53"/>
<line x1="258.2" y1="60.8" x2="255.3" y2="60.9" stroke="rgb(175,175,175)" stroke-width="1.0" opacity="0.45"/>
<polygon points="339.5,104.5 335.2,98.9 349.7,92.9" fill="rgb(102,102,102)" opacity="0.77"/>
<polygon points="313.2,153.2 329.0,146.6 330.8,153.3" fill="rgb(202,202,202)" opacity="0.63"/>
<line x1="313.2" y1="153.2" x2="329.0" y2="146.6" stroke="rgb(245,245,245)" stroke-width="1.0" opacity="0.45"/>
<polygon points="223.3,125.5 211.3,127.0 208.1,122.6 211.0,120.8 223.4,120.9" fill="rgb(115,115,115)" opacity="0.49"/>
<line x1="223.3" y1="125.5" x2="211.3" y2="127.0" stroke="rgb(185,185,185)" stroke-width="1.0" opacity="0.45"/>
<polygon points="329.9,19.7 328.4,20.5 327.4,12.3 328.5,13.9 331.6,18.1" fill="rgb(150,150,150)" opacity="0.55"/>
<line x1="327.4" y1="12.3" x2="328.5" y2="13.9" stroke="rgb(220,220,220)" stroke-width="1.0" opacity="0.45"/>
<polygon points="347.0,2.6 351.9,6.7 352.9,13.1" fill="rgb(190,190,190)" opacity="0.58"/>
<line x1="351.9" y1="6.7" x2="352.9" y2="13.1" stroke="rgb(245,245,245)" stroke-width="1.0" opacity="0.45"/>
<polygon points="209.7,186.8 201.3,186.8 199.9,182.5 201.7,176.0 202.1,175.0" fill="rgb(90,90,90)" opacity="0.69"/>
<polygon points="331.9,159.4 328.8,155.9 344.4,151.4" fill="rgb(151,151,151)" opacity="0.74"/>
<polygon points="344.6,41.2 342.8,38.7 337.2,39.2 347.5,35.2" fill="rgb(121,121,121)" opacity="0.46"/>
<line x1="342.8" y1="38.7" x2="337.2" y2="39.2" stroke="rgb(191,191,191)" stroke-width="1.0" opacity="0.45"/>
<polygon points="192.4,89.2 172.8,72.8 177.1,72.1" fill="rgb(87,87,87)" opacity="0.68"/>
<polygon points="247.4,110.6 229.9,91.0 238.2,84.3 248.0,88.9 251.9,89.5" fill="rgb(125,125,125)" opacity="0.55"/>
<line x1="248.0" y1="88.9" x2="251.9" y2="89.5" stroke="rgb(195,195,195)" stroke-width="1.0" opacity="0.45"/>
<polygon points="312.1,68.8 305.9,69.4 298.1,63.7" fill="rgb(152,152,152)" opacity="0.55"/>
<polygon points="194.7,92.6 191.6,88.5 188.1,89.1 200.3,80.1" fill="rgb(44,44,44)" opacity="0.63"/>
<polygon points="333.4,120.9 313.9,116.0 307.3,116.0 337.1,103.5" fill="rgb(117,117,117)" opacity="0.65"/>
<polygon points="256.8,40.4 249.5,33.4 250.6,20.8 265.5,26.2" fill="rgb(118,118,118)" opacity="0.64"/>
<line x1="250.6" y1="20.8" x2="265.5" y2="26.2" stroke="rgb(188,188,188)" stroke-width="1.0" opacity="0.45"/>
<polygon points="262.6,134.6 263.4,125.3 276.3,123.8 279.7,126.6 284.9,120.3" fill="rgb(105,105,105)" opacity="0.78"/>
<polygon points="213.2,148.4 210.0,152.2 202.3,155.7 201.9,139.5 205.6,139.7" fill="rgb(155,155,155)" opacity="0.70"/>
<line x1="202.3" y1="155.7" x2="201.9" y2="139.5" stroke="rgb(225,225,225)" stroke-width="1.0" opacity="0.45"/>
<polygon points="337.9,31.0 334.8,28.6 336.6,26.7 343.8,22.0 352.7,20.6" fill="rgb(182,182,182)" opacity="0.48"/>
<polygon points="232.4,94.3 232.8,84.0 234.2,85.3" fill="rgb(77,77,77)" opacity="0.80"/>
<line x1="234.2" y1="85.3" x2="232.4" y2="94.3" stroke="rgb(147,147,147)" stroke-width="1.0" opacity="0.45"/>
<polygon points="207.2,189.4 199.6,186.3 200.3,182.2 208.1,176.9" fill="rgb(103,103,103)" opacity="0.61"/>
<line x1="200.3" y1="182.2" x2="208.1" y2="176.9" stroke="rgb(173,173,173)" stroke-width="1.0" opacity="0.45"/>
<polygon points="217.7,71.9 211.1,57.0 220.7,53.9 241.8,62.1" fill="rgb(147,147,147)" opacity="0.79"/>
<line x1="220.7" y1="53.9" x2="241.8" y2="62.1" stroke="rgb(217,217,217)" stroke-width="1.0" opacity="0.45"/>
<polygon points="310.9,151.3 300.3,162.1 295.7,157.5 294.0,149.6 294.0,140.3" fill="rgb(162,162,162)" opacity="0.46"/>
<line x1="294.0" y1="140.3" x2="310.9" y2="151.3" stroke="rgb(232,232,232)" stroke-width="1.0" opacity="0.45"/>
<polygon points="280.4,43.2 274.0,37.3 291.0,35.7" fill="rgb(152,152,152)" opacity="0.75"/>
<polygon points="322.9,159.1 315.5,168.2 311.5,152.3 318.6,150.1" fill="rgb(120,120,120)" opacity="0.76"/>
<line x1="311.5" y1="152.3" x2="318.6" y2="150.1" stroke="rgb(190,190,190)" stroke-width="1.0" opacity="0.45"/>
<polygon points="320.2,161.9 321.2,154.9 334.0,146.4 336.4,146.4 339.3,150.4" fill="rgb(164,164,164)" opacity="0.54"/>
<polygon points="205.8,18.2 198.7,5.6 210.5,2.8" fill="rgb(114,114,114)" opacity="0.66"/>
<line x1="205.8" y1="18.2" x2="198.7" y2="5.6" stroke="rgb(184,184,184)" stroke-width="1.0" opacity="0.45"/>
<polygon points="244.5,110.9 237.0,117.5 229.0,107.8 225.1,106.7 228.9,100.3" fill="rgb(144,144,144)" opacity="0.71"/>
<polygon points="302.2,28.1 297.0,28.6 308.1,8.3" fill="rgb(94,94,94)" opacity="0.66"/>
<polygon points="240.3,159.2 234.9,165.5 205.5,159.0 217.3,145.6 226.3,145.3" fill="rgb(179,179,179)" opacity="0.79"/>
<line x1="240.3" y1="159.2" x2="234.9" y2="165.5" stroke="rgb(245,245,245)" stroke-width="1.0" opacity="0.45"/>
<polygon points="337.8,67.0 333.6,70.5 328.4,69.2 327.9,61.5 334.6,63.5" fill="rgb(117,117,117)" opacity="0.79"/>
<line x1="333.6" y1="70.5" x2="328.4" y2="69.2" stroke="rgb(187,187,187)" stroke-width="1.0" opacity="0.45"/>
<polygon points="263.8,125.0 254.6,111.4 258.0,111.5" fill="rgb(47,47,47)" opacity="0.55"/>
<line x1="258.0" y1="111.5" x2="263.8" y2="125.0" stroke="rgb(117,117,117)" stroke-width="1.0" opacity="0.45"/>
<polygon points="291.5,61.7 292.0,67.3 287.0,67.1 294.0,54.0" fill="rgb(105,105,105)" opacity="0.67"/>
<polygon points="309.8,133.1 307.9,126.8 306.3,125.6 312.4,116.5 313.6,116.4" fill="rgb(130,130,130)" opacity="0.51"/>
<line x1="306.3" y1="125.6" x2="312.4" y2="116.5" stroke="rgb(200,200,200)" stroke-width="1.0" opacity="0.45"/>
<polygon points="376.0,113.1 367.1,119.9 353.1,113.0 356.4,106.8" fill="rgb(121,121,121)" opacity="0.56"/>
<polygon points="367.2,70.5 352.3,68.2 349.8,65.2 349.8,61.2 357.6,55.1" fill="rgb(106,106,106)" opacity="0.78"/>
<polygon points="303.8,27.3 286.4,20.2 288.9,16.3 301.1,-3.2 306.2,-1.9" fill="rgb(95,95,95)" opacity="0.64"/>
<polygon points="208.9,120.5 200.3,116.9 203.2,107.6" fill="rgb(94,94,94)" opacity="0.67"/>
<polygon points="261.2,78.6 267.4,78.4 289.0,65.1" fill="rgb(130,130,130)" opacity="0.79"/>
<line x1="261.2" y1="78.6" x2="267.4" y2="78.4" stroke="rgb(200,200,200)" stroke-width="1.0" opacity="0.45"/>
<polygon points="308.4,50.5 285.0,37.1 287.2,40.7 309.2,44.1" fill="rgb(95,95,95)" opacity="0.73"/>
<line x1="308.4" y1="50.5" x2="285.0" y2="37.1" stroke="rgb(165,165,165)" stroke-width="1.0" opacity="0.45"/>
<polygon points="341.4,50.6 316.4,37.7 323.3,34.6 318.8,30.2 326.1,24.9" fill="rgb(154,154,154)" opacity="0.45"/>
<polygon points="247.2,112.0 241.1,103.8 246.4,103.7 247.1,106.3" fill="rgb(80,80,80)" opacity="0.51"/>
<polygon points="343.1,38.4 338.5,47.7 325.4,55.4 347.6,33.1" fill="rgb(137,137,137)" opacity="0.75"/>
<line x1="325.4" y1="55.4" x2="347.6" y2="33.1" stroke="rgb(207,207,207)" stroke-width="1.0" opacity="0.45"/>
<polygon points="230.7,45.5 221.1,50.5 212.7,42.3 214.6,40.6" fill="rgb(72,72,72)" opacity="0.48"/>
<line x1="214.6" y1="40.6" x2="230.7" y2="45.5" stroke="rgb(142,142,142)" stroke-width="1.0" opacity="0.45"/>
<polygon points="299.4,170.1 279.0,177.3 280.0,174.3 276.8,167.2" fill="rgb(225,225,225)" opacity="0.76"/>
<line x1="279.0" y1="177.3" x2="280.0" y2="174.3" stroke="rgb(245,245,245)" stroke-width="1.0" opacity="0.45"/>
<polygon points="271.3,118.1 260.5,118.8 260.9,99.9" fill="rgb(39,39,39)" opacity="0.50"/>
<polygon points="345.7,13.1 345.7,-0.6 349.4,-0.2 351.7,2.4" fill="rgb(141,141,141)" opacity="0.71"/>
<line x1="345.7" y1="-0.6" x2="349.4" y2="-0.2" stroke="rgb(211,211,211)" stroke-width="1.0" opacity="0.45"/>
<polygon points="246.2,87.9 242.3,91.1 234.1,91.2 226.1,92.3 226.1,80.1" fill="rgb(87,87,87)" opacity="0.49"/>
<line x1="242.3" y1="91.1" x2="234.1" y2="91.2" stroke="rgb(157,157,157)" stroke-width="1.0" opacity="0.45"/>
<polygon points="339.3,101.1 333.6,102.4 345.7,92.3 345.2,94.1" fill="rgb(82,82,82)" opacity="0.80"/>
<line x1="345.2" y1="94.1" x2="339.3" y2="101.1" stroke="rgb(152,152,152)" stroke-width="1.0" opacity="0.45"/>
<polygon points="350.3,155.2 360.1,130.7 365.0,137.1" fill="rgb(124,124,124)" opacity="0.66"/>
<polygon points="307.0,78.2 291.6,82.0 292.5,77.3 305.7,67.9" fill="rgb(75,75,75)" opacity="0.67"/>
<polygon points="201.1,196.9 198.8,206.4 181.6,181.4 198.5,187.2 195.4,195.1" fill="rgb(125,125,125)" opacity="0.53"/>
<line x1="195.4" y1="195.1" x2="201.1" y2="196.9" stroke="rgb(195,195,195)" stroke-width="1.0" opacity="0.45"/>
<polygon points="191.2,19.0 206.3,15.4 210.1,17.6 216.6,20.3" fill="rgb(128,128,128)" opacity="0.59"/>
<polygon points="302.3,131.8 301.1,133.5 300.2,120.9 306.5,125.8" fill="rgb(107,107,107)" opacity="0.57"/>
<polygon points="228.2,165.1 205.6,163.2 211.7,151.2 219.8,152.4 225.7,158.4" fill="rgb(86,86,86)" opacity="0.73"/>
<polygon points="265.1,135.6 263.5,129.5 261.8,123.3 264.5,124.1 266.3,121.0" fill="rgb(100,100,100)" opacity="0.79"/>
<polygon points="257.6,62.3 243.2,73.1 233.3,55.8 244.3,44.2" fill="rgb(99,99,99)" opacity="0.74"/>
<line x1="244.3" y1="44.2" x2="257.6" y2="62.3" stroke="rgb(169,169,169)" stroke-width="1.0" opacity="0.45"/>
<polygon points="240.2,77.3 222.0,80.2 219.4,70.0 220.8,65.7" fill="rgb(92,92,92)" opacity="0.50"/>
<line x1="219.4" y1="70.0" x2="220.8" y2="65.7" stroke="rgb(162,162,162)" stroke-width="1.0" opacity="0.45"/>
<polygon points="312.3,185.7 304.5,187.8 304.2,171.3 318.1,177.7" fill="rgb(181,181,181)" opacity="0.59"/>
<line x1="304.2" y1="171.3" x2="318.1" y2="177.7" stroke="rgb(245,245,245)" stroke-width="1.0" opacity="0.45"/>
<polygon points="349.6,93.2 350.3,95.0 351.0,88.3" fill="rgb(78,78,78)" opacity="0.75"/>
<polygon points="233.6,53.9 239.8,32.7 242.1,36.6" fill="rgb(114,114,114)" opacity="0.55"/>
<line x1="239.8" y1="32.7" x2="242.1" y2="36.6" stroke="rgb(184,184,184)" stroke-width="1.0" opacity="0.45"/>
<polygon points="352.6,13.7 351.4,15.4 348.8,17.7" fill="rgb(153,153,153)" opacity="0.64"/>
<polygon points="290.9,125.4 286.8,128.7 288.0,128.9 282.7,129.2 287.9,118.2" fill="rgb(145,145,145)" opacity="0.70"/>
<polygon points="301.0,185.1 284.7,191.6 283.8,183.9 280.7,182.7 307.4,175.8" fill="rgb(193,193,193)" opacity="0.48"/>
<line x1="307.4" y1="175.8" x2="301.0" y2="185.1" stroke="rgb(245,245,245)" stroke-width="1.0" opacity="0.45"/>
<polygon points="249.8,88.5 248.9,87.9 244.1,81.3 258.2,73.0 258.6,80.7" fill="rgb(70,70,70)" opacity="0.46"/>
<line x1="244.1" y1="81.3" x2="258.2" y2="73.0" stroke="rgb(140,140,140)" stroke-width="1.0" opacity="0.45"/>
<polygon points="211.5,45.9 193.8,47.5 192.8,43.7 194.3,43.2 200.2,38.7" fill="rgb(98,98,98)" opacity="0.49"/>
<line x1="211.5" y1="45.9" x2="193.8" y2="47.5" stroke="rgb(168,168,168)" stroke-width="1.0" opacity="0.45"/>
<polygon points="194.6,136.0 190.2,127.6 192.4,125.6 200.5,124.1 203.2,128.7" fill="rgb(96,96,96)" opacity="0.48"/>
<polygon points="261.2,60.7 256.3,68.6 266.0,58.3 266.7,59.5" fill="rgb(61,61,61)" opacity="0.79"/>
<line x1="266.0" y1="58.3" x2="266.7" y2="59.5" stroke="rgb(131,131,131)" stroke-width="1.0" opacity="0.45"/>
<polygon points="331.9,185.6 330.7,189.0 316.6,178.3 319.0,171.1" fill="rgb(161,161,161)" opacity="0.75"/>
<line x1="319.0" y1="171.1" x2="331.9" y2="185.6" stroke="rgb(231,231,231)" stroke-width="1.0" opacity="0.45"/>
<polygon points="327.2,188.0 318.1,180.8 320.1,164.1 330.7,166.1 333.3,170.7" fill="rgb(171,171,171)" opacity="0.60"/>
<rect x="190" y="8.7" width="170.8" height="190.60000000000002" fill="#808080" stroke="none" stroke-width="0" filter="url(#noise)" style="mix-blend-mode:overlay" opacity="0.35"/>
</g>
<rect x="190" y="8.7" width="31.5" height="24.9" fill="#fff" stroke="none" stroke-width="1" />
<text x="195.6" y="26" font-size="14.8" fill="#222" text-anchor="start" font-weight="normal" font-family="'Liberation Serif', serif" letter-spacing="0.9">(b)</text>
<g transform="rotate(-3,223.9,70.39999999999999)">
<rect x="208.8" y="58.3" width="30.2" height="24.2" fill="#404040" stroke="#f0f0f0" stroke-width="1.0" fill-opacity="0.25"/>
<text x="223.9" y="72.69999999999999" font-size="7.4" fill="#fff" text-anchor="middle" font-weight="bold" font-family="'Liberation Sans', sans-serif" >4.6 µm<tspan font-size="4.5" dy="-2.8">2</tspan></text>
</g>
<g transform="rotate(72,297.2,50.9)">
<rect x="279.8" y="42.15" width="34.8" height="17.5" fill="#404040" stroke="#f0f0f0" stroke-width="1.0" fill-opacity="0.25"/>
<text x="297.2" y="53.199999999999996" font-size="7.0" fill="#fff" text-anchor="middle" font-weight="bold" font-family="'Liberation Sans', sans-serif" >4.38 µm<tspan font-size="4.5" dy="-2.8">2</tspan></text>
</g>
<g transform="rotate(0,348.0,65.65)">
<rect x="335.5" y="57" width="25" height="17.3" fill="#404040" stroke="#f0f0f0" stroke-width="1.0" fill-opacity="0.25"/>
<text x="348.0" y="67.95" font-size="6.8" fill="#fff" text-anchor="middle" font-weight="bold" font-family="'Liberation Sans', sans-serif" >2.7 µm<tspan font-size="4.5" dy="-2.8">2</tspan></text>
</g>
<g transform="rotate(-2,226.65,168.35)">
<rect x="211.8" y="155.4" width="29.7" height="25.9" fill="#404040" stroke="#f0f0f0" stroke-width="1.0" fill-opacity="0.25"/>
<text x="226.65" y="170.65" font-size="7.4" fill="#fff" text-anchor="middle" font-weight="bold" font-family="'Liberation Sans', sans-serif" >5.0 µm<tspan font-size="4.5" dy="-2.8">2</tspan></text>
</g>
<g transform="rotate(-52,269.4,151.9)">
<rect x="259.4" y="144.4" width="20" height="15" fill="#404040" stroke="#f0f0f0" stroke-width="1.0" fill-opacity="0.25"/>
<text x="269.4" y="154.20000000000002" font-size="6" fill="#fff" text-anchor="middle" font-weight="bold" font-family="'Liberation Sans', sans-serif" >3 µm<tspan font-size="4" dy="-2.5">2</tspan></text>
</g>
<text x="337" y="186.6" font-size="10.6" fill="#fff" text-anchor="middle" font-weight="bold" font-family="'Liberation Sans', sans-serif" >1 µm</text>
<line x1="331.3" y1="191.5" x2="342.6" y2="191.5" stroke="#fff" stroke-width="1.6" />
<clipPath id="cc"><rect x="362.4" y="8.7" width="175.70000000000005" height="190.70000000000002"/></clipPath>
<g clip-path="url(#cc)">
<rect x="362.4" y="8.7" width="175.70000000000005" height="190.70000000000002" fill="url(#afmbg)" stroke="none" stroke-width="1" />
<g filter="url(#blur1)">
<polygon points="367.0,143.0 380.5,147.0 380.5,184.0 367.0,181.6" fill="#bc5818" />
<ellipse cx="478" cy="60" rx="45" ry="35" fill="url(#afmdark)"/>
<ellipse cx="532" cy="70" rx="25" ry="45" fill="url(#afmlight)"/>
<polygon points="410.0,11.6 435.0,11.6 437.0,27.0 421.0,36.5 410.0,24.0" fill="#ae4808" />
<polygon points="421.0,36.5 437.0,27.0 446.0,35.0 451.0,62.0 446.0,70.0 430.0,68.0 418.0,52.0" fill="#bc640e" />
<polygon points="426.0,44.0 444.0,42.0 450.0,60.0 440.0,63.0 428.0,60.0" fill="#cc8416" />
<polygon points="413.6,61.4 431.3,59.7 433.0,75.6 415.4,77.4" fill="#b45a0e" />
<polygon points="378.0,75.7 404.7,65.0 415.4,79.2 410.0,114.8 385.0,111.3 376.3,91.7" fill="#a8420e" />
<polygon points="406.5,72.0 422.5,70.3 429.6,84.5 422.5,107.7 408.3,107.7" fill="#b65a10" />
<polygon points="364.0,38.0 372.0,34.0 374.0,42.0 366.0,46.0" fill="#b85410" />
<polygon points="452.7,15.3 460.0,13.5 468.2,23.5 460.0,27.1 456.4,22.5" fill="#c06010" />
<polygon points="498.2,9.8 525.5,9.8 522.7,20.7 500.0,18.9" fill="#b04a08" />
<polygon points="367.0,143.0 380.5,147.0 380.5,184.0 367.0,181.6" fill="#9c3206" />
</g>
<circle cx="399" cy="12" r="1.5" fill="#f0b040"/><circle cx="403" cy="11" r="1.2" fill="#f0b040"/><circle cx="370" cy="40" r="1.3" fill="#e09030"/>
</g>
<line x1="404.2" y1="64" x2="404.2" y2="112.3" stroke="#f4e8e0" stroke-width="0.8" />
<line x1="406" y1="112.5" x2="421" y2="112.5" stroke="#fff" stroke-width="2.0" />
<path d="M420,109.5 L425.5,112.5 L420,115.5 Z" fill="#fff"/>
<rect x="363.6" y="10.5" width="30.4" height="23.1" fill="#fff" stroke="none" stroke-width="1" />
<text x="368.9" y="25.8" font-size="14.3" fill="#222" text-anchor="start" font-weight="normal" font-family="'Liberation Serif', serif" letter-spacing="0.9">(c)</text>
<line x1="366.3" y1="194" x2="423.2" y2="194" stroke="#fff" stroke-width="1.8" />
<text x="393" y="191" font-size="10.5" fill="#fff" text-anchor="middle" font-weight="bold" font-family="'Liberation Sans', sans-serif" >1 um</text>
<rect x="427.5" y="102.5" width="110.6" height="97" fill="#fff" stroke="none" stroke-width="1" />
<line x1="445.7" y1="138.35" x2="536.4" y2="138.35" stroke="#a8c4f4" stroke-width="0.8" />
<line x1="445.7" y1="171.6" x2="536.4" y2="171.6" stroke="#a8c4f4" stroke-width="0.8" />
<path d="M449.5,171.6 L451.4,175.1 L453.3,170.7 L455.2,166.3 L457.1,167.2 L459.0,171.6 L459.5,154.1 L460.0,136.6 L460.5,138.2 L461.6,131.5 L462.4,140.0 L463.8,135.2 L464.7,134.2 L465.9,131.3 L467.1,134.5 L468.1,140.5 L469.4,133.7 L470.6,139.2 L471.8,143.2 L472.7,136.1 L473.8,149.1 L475.0,141.0 L476.4,146.7 L477.3,133.3 L478.2,142.5 L479.7,134.3 L480.6,135.3 L481.5,139.5 L482.4,136.4 L483.3,132.2 L484.4,142.1 L485.7,148.1 L486.5,135.4 L488.0,126.1 L489.3,134.8 L490.1,133.0 L491.3,134.9 L492.3,148.2 L493.2,139.8 L494.6,140.8 L495.5,136.4 L496.3,135.0 L497.7,135.6 L499.1,132.3 L499.9,139.3 L500.9,131.3 L502.0,147.2 L503.0,135.7 L503.9,144.0 L505.4,145.4 L506.5,131.1 L507.8,140.0 L508.7,137.0 L509.6,113.0 L510.9,141.6 L512.2,129.5 L513.6,142.5 L514.4,138.4 L515.3,142.5 L516.7,136.6 L518.0,139.6 L519.0,141.1 L520.6,139.4 L521.5,130.9 L522.3,126.5 L523.6,140.9 L524.7,130.9 L525.9,126.1 L527.1,127.8 L528.1,150.6 L529.5,155.8 L530.9,157.6 L532.4,155.8" fill="none" stroke="#3c64f0" stroke-width="0.9" stroke-linejoin="round" />
<rect x="445.7" y="104.5" width="90.7" height="77.5" fill="none" stroke="#222" stroke-width="0.7" />
<line x1="445.7" y1="182.1" x2="447.2" y2="182.1" stroke="#222" stroke-width="0.6" />
<text x="444.5" y="184.0" font-size="5.6" fill="#222" text-anchor="end" font-weight="normal" font-family="'Liberation Sans', sans-serif" >-0.6</text>
<line x1="445.7" y1="171.6" x2="447.2" y2="171.6" stroke="#222" stroke-width="0.6" />
<text x="444.5" y="173.5" font-size="5.6" fill="#222" text-anchor="end" font-weight="normal" font-family="'Liberation Sans', sans-serif" >0.0</text>
<line x1="445.7" y1="161.1" x2="447.2" y2="161.1" stroke="#222" stroke-width="0.6" />
<text x="444.5" y="163.0" font-size="5.6" fill="#222" text-anchor="end" font-weight="normal" font-family="'Liberation Sans', sans-serif" >0.6</text>
<line x1="445.7" y1="150.6" x2="447.2" y2="150.6" stroke="#222" stroke-width="0.6" />
<text x="444.5" y="152.5" font-size="5.6" fill="#222" text-anchor="end" font-weight="normal" font-family="'Liberation Sans', sans-serif" >1.2</text>
<line x1="445.7" y1="140.1" x2="447.2" y2="140.1" stroke="#222" stroke-width="0.6" />
<text x="444.5" y="142.0" font-size="5.6" fill="#222" text-anchor="end" font-weight="normal" font-family="'Liberation Sans', sans-serif" >1.8</text>
<line x1="445.7" y1="129.6" x2="447.2" y2="129.6" stroke="#222" stroke-width="0.6" />
<text x="444.5" y="131.5" font-size="5.6" fill="#222" text-anchor="end" font-weight="normal" font-family="'Liberation Sans', sans-serif" >2.4</text>
<line x1="445.7" y1="119.1" x2="447.2" y2="119.1" stroke="#222" stroke-width="0.6" />
<text x="444.5" y="121.0" font-size="5.6" fill="#222" text-anchor="end" font-weight="normal" font-family="'Liberation Sans', sans-serif" >3.0</text>
<line x1="445.7" y1="108.6" x2="447.2" y2="108.6" stroke="#222" stroke-width="0.6" />
<text x="444.5" y="110.5" font-size="5.6" fill="#222" text-anchor="end" font-weight="normal" font-family="'Liberation Sans', sans-serif" >3.6</text>
<line x1="449.5" y1="182" x2="449.5" y2="180.5" stroke="#222" stroke-width="0.6" />
<text x="449.5" y="188.5" font-size="5.6" fill="#222" text-anchor="middle" font-weight="normal" font-family="'Liberation Sans', sans-serif" >0.0</text>
<line x1="468.55" y1="182" x2="468.55" y2="180.5" stroke="#222" stroke-width="0.6" />
<text x="468.55" y="188.5" font-size="5.6" fill="#222" text-anchor="middle" font-weight="normal" font-family="'Liberation Sans', sans-serif" >0.2</text>
<line x1="487.6" y1="182" x2="487.6" y2="180.5" stroke="#222" stroke-width="0.6" />
<text x="487.6" y="188.5" font-size="5.6" fill="#222" text-anchor="middle" font-weight="normal" font-family="'Liberation Sans', sans-serif" >0.4</text>
<line x1="506.65" y1="182" x2="506.65" y2="180.5" stroke="#222" stroke-width="0.6" />
<text x="506.65" y="188.5" font-size="5.6" fill="#222" text-anchor="middle" font-weight="normal" font-family="'Liberation Sans', sans-serif" >0.6</text>
<line x1="525.7" y1="182" x2="525.7" y2="180.5" stroke="#222" stroke-width="0.6" />
<text x="525.7" y="188.5" font-size="5.6" fill="#222" text-anchor="middle" font-weight="normal" font-family="'Liberation Sans', sans-serif" >0.8</text>
<text x="491" y="196.5" font-size="6" fill="#222" text-anchor="middle" font-weight="normal" font-family="'Liberation Sans', sans-serif" >Diameter (µm)</text>
<text x="0" y="0" font-size="6" fill="#222" text-anchor="middle" font-weight="normal" font-family="'Liberation Sans', sans-serif" transform="translate(434,143) rotate(-90)">Height (nm)</text>
<line x1="506.65" y1="139.225" x2="506.65" y2="170.725" stroke="#333" stroke-width="0.7" />
<path d="M505.34999999999997,143.6 L506.65,138.35 L507.95,143.6 Z M505.34999999999997,166.35 L506.65,171.6 L507.95,166.35 Z" fill="#333"/>
<text x="508.555" y="157.85" font-size="6" fill="#222" text-anchor="start" font-weight="normal" font-family="'Liberation Sans', sans-serif" >1.9 nm</text>
<path d="M55.6,253.3 L86.4,253.3" fill="none" stroke="#a3a32a" stroke-width="1.2" stroke-linejoin="round" />
<path d="M86.4,253.3 L86.4,243.2 L117.2,243.2 L117.2,253.3" fill="none" stroke="#e6156e" stroke-width="1.3" stroke-linejoin="round" />
<path d="M132.6,253.3 L132.6,243.2 L163.4,243.2 L163.4,253.3" fill="none" stroke="#e6156e" stroke-width="1.3" stroke-linejoin="round" />
<path d="M178.8,253.3 L178.8,243.2 L209.6,243.2 L209.6,253.3" fill="none" stroke="#e6156e" stroke-width="1.3" stroke-linejoin="round" />
<path d="M225.0,253.3 L225.0,243.2 L255.8,243.2 L255.8,253.3" fill="none" stroke="#e6156e" stroke-width="1.3" stroke-linejoin="round" />
<path d="M117.2,253.3 L132.6,253.3" fill="none" stroke="#a3a32a" stroke-width="1.2" stroke-linejoin="round" />
<path d="M163.4,253.3 L178.8,253.3" fill="none" stroke="#a3a32a" stroke-width="1.2" stroke-linejoin="round" />
<path d="M209.6,253.3 L225.0,253.3" fill="none" stroke="#a3a32a" stroke-width="1.2" stroke-linejoin="round" />
<path d="M255.8,253.3 L271.2,253.3" fill="none" stroke="#a3a32a" stroke-width="1.2" stroke-linejoin="round" />
<line x1="86.4" y1="255.3" x2="86.4" y2="361.78499999999997" stroke="#888" stroke-width="0.8" stroke-dasharray="1,1.6"/>
<line x1="117.2" y1="255.3" x2="117.2" y2="361.78499999999997" stroke="#888" stroke-width="0.8" stroke-dasharray="1,1.6"/>
<line x1="132.6" y1="255.3" x2="132.6" y2="361.78499999999997" stroke="#888" stroke-width="0.8" stroke-dasharray="1,1.6"/>
<line x1="163.4" y1="255.3" x2="163.4" y2="361.78499999999997" stroke="#888" stroke-width="0.8" stroke-dasharray="1,1.6"/>
<line x1="178.8" y1="255.3" x2="178.8" y2="361.78499999999997" stroke="#888" stroke-width="0.8" stroke-dasharray="1,1.6"/>
<line x1="209.6" y1="255.3" x2="209.6" y2="361.78499999999997" stroke="#888" stroke-width="0.8" stroke-dasharray="1,1.6"/>
<line x1="225.0" y1="255.3" x2="225.0" y2="361.78499999999997" stroke="#888" stroke-width="0.8" stroke-dasharray="1,1.6"/>
<line x1="255.8" y1="255.3" x2="255.8" y2="361.78499999999997" stroke="#888" stroke-width="0.8" stroke-dasharray="1,1.6"/>
<line x1="55.6" y1="374.62399999999997" x2="271.2" y2="374.62399999999997" stroke="#888" stroke-width="0.8" stroke-dasharray="3,2"/>
<line x1="117.2" y1="361.78499999999997" x2="268.12" y2="361.78499999999997" stroke="#b8b83a" stroke-width="1.0" stroke-dasharray="4,2,1,2"/>
<path d="M55.6,373.9 L56.0,373.9 L56.4,374.0 L56.8,374.1 L57.2,374.0 L57.5,374.1 L57.9,373.9 L58.3,373.7 L58.7,374.0 L59.1,374.1 L59.5,373.8 L59.9,373.9 L60.3,373.9 L60.7,374.1 L61.1,373.9 L61.4,373.8 L61.8,374.2 L62.2,374.0 L62.6,374.3 L63.0,374.2 L63.4,374.3 L63.8,374.0 L64.2,374.2 L64.6,373.9 L65.0,373.9 L65.3,374.0 L65.7,374.5 L66.1,374.0 L66.5,373.9 L66.9,373.9 L67.3,374.2 L67.7,374.0 L68.1,374.1 L68.5,374.1 L68.9,373.7 L69.2,374.1 L69.6,373.9 L70.0,373.7 L70.4,374.1 L70.8,374.0 L71.2,373.9 L71.6,373.9 L72.0,374.2 L72.4,373.9 L72.8,373.6 L73.1,374.3 L73.5,373.8 L73.9,373.9 L74.3,374.1 L74.7,373.5 L75.1,373.8 L75.5,374.2 L75.9,373.9 L76.3,373.8 L76.7,374.0 L77.0,373.8 L77.4,373.9 L77.8,373.8 L78.2,373.6 L78.6,374.1 L79.0,373.9 L79.4,374.0 L79.8,373.9 L80.2,374.2 L80.6,374.1 L80.9,374.0 L81.3,373.7 L81.7,373.7 L82.1,374.2 L82.5,374.1 L82.9,373.8 L83.3,374.3 L83.7,374.0 L84.1,374.0 L84.5,373.7 L84.8,373.8 L85.2,374.0 L85.6,374.0 L86.0,374.0 L86.4,373.6" fill="none" stroke="#555" stroke-width="1.6" stroke-linejoin="round" />
<path d="M86.4,373.9 L86.7,361.2 L86.9,350.4 L87.2,341.9 L87.4,334.8 L87.7,329.1 L88.0,323.6 L88.2,319.5 L88.5,315.2 L88.7,312.1 L89.0,309.5 L89.2,306.8 L89.5,304.9 L89.8,302.4 L90.0,300.9 L90.3,299.0 L90.5,298.1 L90.8,296.0 L91.1,295.4 L91.3,294.2 L91.6,292.4 L91.8,291.5 L92.1,290.0 L92.4,288.3 L92.6,288.3 L92.9,287.3 L93.1,286.1 L93.4,285.2 L93.6,284.6 L93.9,283.8 L94.2,282.7 L94.4,282.0 L94.7,281.9 L94.9,280.9 L95.2,280.2 L95.5,279.9 L95.7,278.9 L96.0,278.7 L96.2,277.5 L96.5,277.2 L96.8,276.8 L97.0,276.5 L97.3,275.9 L97.5,276.1 L97.8,275.3 L98.0,274.4 L98.3,274.8 L98.6,273.4 L98.8,273.9 L99.1,272.7 L99.3,272.9 L99.6,272.0 L99.9,271.9 L100.1,272.2 L100.4,270.9 L100.6,270.6 L100.9,270.8 L101.2,270.6 L101.4,270.3 L101.7,270.3 L101.9,269.4 L102.2,269.7 L102.4,269.3 L102.7,269.4 L103.0,269.1 L103.2,269.1 L103.5,268.1 L103.7,268.4 L104.0,267.8 L104.3,268.0 L104.5,268.1 L104.8,267.8 L105.0,267.7 L105.3,267.4 L105.6,267.4 L105.8,267.2 L106.1,267.4 L106.3,267.1 L106.6,266.1 L106.8,266.8 L107.1,266.9 L107.4,266.3 L107.6,265.8 L107.9,266.7 L108.1,266.2 L108.4,266.2 L108.7,266.5 L108.9,265.6 L109.2,265.7 L109.4,265.6 L109.7,265.8 L110.0,265.4 L110.2,265.6 L110.5,265.4 L110.7,265.7 L111.0,265.7 L111.2,264.7 L111.5,265.3 L111.8,265.0 L112.0,265.0 L112.3,265.1 L112.5,265.1 L112.8,264.6 L113.1,264.9 L113.3,264.8 L113.6,264.7 L113.8,264.3 L114.1,264.4 L114.4,264.5 L114.6,264.8 L114.9,265.0 L115.1,264.2 L115.4,264.1 L115.6,264.5 L115.9,264.2 L116.2,264.1 L116.4,264.1 L116.7,264.0 L116.9,264.5 L117.2,263.8" fill="none" stroke="#e6156e" stroke-width="2.3" stroke-linejoin="round" />
<path d="M117.2,263.8 L117.5,276.7 L117.7,287.1 L118.0,295.6 L118.2,302.5 L118.5,308.2 L118.8,313.0 L119.0,317.1 L119.3,320.7 L119.5,323.7 L119.8,326.5 L120.1,328.9 L120.3,331.1 L120.6,333.1 L120.9,334.9 L121.1,336.5 L121.4,338.1 L121.6,339.5 L121.9,340.8 L122.2,342.0 L122.4,343.2 L122.7,344.3 L122.9,345.3 L123.2,346.3 L123.5,347.2 L123.7,348.0 L124.0,348.8 L124.2,349.6 L124.5,350.3 L124.8,351.0 L125.0,351.6 L125.3,352.2 L125.6,352.8 L125.8,353.3 L126.1,353.8 L126.3,354.3 L126.6,354.7 L126.9,355.2 L127.1,355.6 L127.4,355.9 L127.6,356.3 L127.9,356.6 L128.2,357.0 L128.4,357.3 L128.7,357.5 L128.9,357.8 L129.2,358.1 L129.5,358.3 L129.7,358.5 L130.0,358.8 L130.3,359.0 L130.5,359.2 L130.8,359.3 L131.0,359.5 L131.3,359.7 L131.6,359.8 L131.8,360.0 L132.1,360.1 L132.3,360.2 L132.6,360.4" fill="none" stroke="#8e8e14" stroke-width="1.8" stroke-linejoin="round" />
<path d="M132.6,361.8 L132.9,349.8 L133.1,340.3 L133.4,332.3 L133.6,325.4 L133.9,320.0 L134.2,316.3 L134.4,312.6 L134.7,308.3 L134.9,306.0 L135.2,303.1 L135.4,300.5 L135.7,299.3 L136.0,297.6 L136.2,295.1 L136.5,293.7 L136.7,292.3 L137.0,290.9 L137.3,290.0 L137.5,289.0 L137.8,287.4 L138.0,286.7 L138.3,285.9 L138.6,284.2 L138.8,283.5 L139.1,282.5 L139.3,282.2 L139.6,281.3 L139.8,280.6 L140.1,279.9 L140.4,278.8 L140.6,278.5 L140.9,277.4 L141.1,276.8 L141.4,275.7 L141.7,276.3 L141.9,274.9 L142.2,274.8 L142.4,274.2 L142.7,274.2 L143.0,273.4 L143.2,272.6 L143.5,272.4 L143.7,271.9 L144.0,271.7 L144.2,270.8 L144.5,270.8 L144.8,271.2 L145.0,270.3 L145.3,270.5 L145.5,270.6 L145.8,269.3 L146.1,268.4 L146.3,268.5 L146.6,268.7 L146.8,268.4 L147.1,267.4 L147.4,267.5 L147.6,267.3 L147.9,267.1 L148.1,266.8 L148.4,266.4 L148.6,266.2 L148.9,266.2 L149.2,266.4 L149.4,265.7 L149.7,265.9 L149.9,265.2 L150.2,265.8 L150.5,265.3 L150.7,265.1 L151.0,265.4 L151.2,264.2 L151.5,264.2 L151.8,264.7 L152.0,264.1 L152.3,264.2 L152.5,265.1 L152.8,264.0 L153.0,264.0 L153.3,263.8 L153.6,264.1 L153.8,263.8 L154.1,263.6 L154.3,263.1 L154.6,263.3 L154.9,263.3 L155.1,262.7 L155.4,263.4 L155.6,263.2 L155.9,263.7 L156.2,262.4 L156.4,262.6 L156.7,262.5 L156.9,262.6 L157.2,262.7 L157.4,262.6 L157.7,262.7 L158.0,262.6 L158.2,262.5 L158.5,262.0 L158.7,262.2 L159.0,262.4 L159.3,262.5 L159.5,262.5 L159.8,261.7 L160.0,262.1 L160.3,262.2 L160.6,262.3 L160.8,262.5 L161.1,262.1 L161.3,261.8 L161.6,262.2 L161.8,262.1 L162.1,262.0 L162.4,261.9 L162.6,262.5 L162.9,262.0 L163.1,262.2 L163.4,261.5" fill="none" stroke="#e6156e" stroke-width="2.3" stroke-linejoin="round" />
<path d="M163.4,261.5 L163.7,274.8 L163.9,285.4 L164.2,294.1 L164.4,301.1 L164.7,307.0 L165.0,311.9 L165.2,316.1 L165.5,319.7 L165.7,322.9 L166.0,325.7 L166.3,328.1 L166.5,330.4 L166.8,332.4 L167.1,334.2 L167.3,335.9 L167.6,337.5 L167.8,339.0 L168.1,340.3 L168.4,341.6 L168.6,342.8 L168.9,343.9 L169.1,344.9 L169.4,345.9 L169.7,346.8 L169.9,347.7 L170.2,348.5 L170.4,349.3 L170.7,350.0 L171.0,350.7 L171.2,351.4 L171.5,352.0 L171.8,352.5 L172.0,353.1 L172.3,353.6 L172.5,354.1 L172.8,354.6 L173.1,355.0 L173.3,355.4 L173.6,355.8 L173.8,356.2 L174.1,356.5 L174.4,356.8 L174.6,357.1 L174.9,357.4 L175.1,357.7 L175.4,358.0 L175.7,358.2 L175.9,358.5 L176.2,358.7 L176.5,358.9 L176.7,359.1 L177.0,359.3 L177.2,359.4 L177.5,359.6 L177.8,359.8 L178.0,359.9 L178.3,360.1 L178.5,360.2 L178.8,360.3" fill="none" stroke="#8e8e14" stroke-width="1.8" stroke-linejoin="round" />
<path d="M178.8,361.8 L179.1,349.8 L179.3,339.8 L179.6,332.5 L179.8,326.0 L180.1,320.2 L180.4,315.6 L180.6,312.0 L180.9,308.1 L181.1,304.6 L181.4,302.8 L181.6,300.5 L181.9,298.7 L182.2,296.3 L182.4,295.2 L182.7,293.6 L182.9,291.3 L183.2,290.7 L183.5,288.8 L183.7,287.5 L184.0,286.8 L184.2,285.6 L184.5,284.1 L184.8,283.9 L185.0,283.2 L185.3,282.6 L185.5,281.3 L185.8,280.0 L186.0,279.4 L186.3,279.3 L186.6,278.6 L186.8,277.8 L187.1,276.9 L187.3,276.4 L187.6,275.7 L187.9,275.1 L188.1,274.8 L188.4,274.1 L188.6,273.5 L188.9,273.1 L189.2,272.5 L189.4,271.5 L189.7,271.6 L189.9,271.3 L190.2,271.5 L190.4,270.4 L190.7,270.8 L191.0,270.3 L191.2,269.2 L191.5,268.9 L191.7,268.9 L192.0,269.1 L192.3,268.3 L192.5,268.2 L192.8,267.4 L193.0,266.6 L193.3,267.0 L193.6,267.1 L193.8,267.0 L194.1,266.4 L194.3,266.3 L194.6,266.4 L194.8,265.7 L195.1,266.0 L195.4,265.0 L195.6,264.8 L195.9,264.7 L196.1,265.0 L196.4,264.5 L196.7,264.6 L196.9,264.5 L197.2,264.4 L197.4,264.6 L197.7,264.5 L198.0,263.6 L198.2,263.8 L198.5,263.5 L198.7,263.2 L199.0,264.0 L199.2,263.6 L199.5,263.1 L199.8,263.0 L200.0,263.1 L200.3,262.5 L200.5,262.7 L200.8,263.2 L201.1,263.0 L201.3,262.3 L201.6,262.3 L201.8,263.1 L202.1,261.9 L202.4,262.1 L202.6,261.8 L202.9,262.3 L203.1,262.2 L203.4,262.4 L203.6,261.1 L203.9,262.0 L204.2,261.3 L204.4,262.1 L204.7,261.7 L204.9,262.3 L205.2,261.8 L205.5,261.3 L205.7,262.0 L206.0,261.2 L206.2,261.4 L206.5,261.9 L206.8,261.6 L207.0,261.6 L207.3,261.4 L207.5,261.6 L207.8,261.6 L208.0,261.4 L208.3,261.6 L208.6,261.7 L208.8,261.2 L209.1,260.9 L209.3,261.7 L209.6,261.2" fill="none" stroke="#e6156e" stroke-width="2.3" stroke-linejoin="round" />
<path d="M209.6,261.2 L209.9,274.5 L210.1,285.1 L210.4,293.8 L210.6,300.9 L210.9,306.8 L211.2,311.7 L211.4,315.9 L211.7,319.6 L211.9,322.7 L212.2,325.5 L212.5,328.0 L212.7,330.2 L213.0,332.3 L213.3,334.1 L213.5,335.8 L213.8,337.4 L214.0,338.9 L214.3,340.2 L214.6,341.5 L214.8,342.7 L215.1,343.8 L215.3,344.9 L215.6,345.8 L215.9,346.8 L216.1,347.6 L216.4,348.5 L216.6,349.2 L216.9,350.0 L217.2,350.7 L217.4,351.3 L217.7,351.9 L218.0,352.5 L218.2,353.1 L218.5,353.6 L218.7,354.1 L219.0,354.5 L219.3,355.0 L219.5,355.4 L219.8,355.8 L220.0,356.1 L220.3,356.5 L220.6,356.8 L220.8,357.1 L221.1,357.4 L221.3,357.7 L221.6,358.0 L221.9,358.2 L222.1,358.4 L222.4,358.7 L222.7,358.9 L222.9,359.1 L223.2,359.3 L223.4,359.4 L223.7,359.6 L224.0,359.8 L224.2,359.9 L224.5,360.1 L224.7,360.2 L225.0,360.3" fill="none" stroke="#8e8e14" stroke-width="1.8" stroke-linejoin="round" />
<path d="M225.0,361.8 L225.3,350.2 L225.5,339.9 L225.8,332.3 L226.0,325.0 L226.3,320.3 L226.6,315.2 L226.8,311.4 L227.1,308.1 L227.3,304.7 L227.6,302.3 L227.8,299.8 L228.1,297.9 L228.4,296.4 L228.6,294.3 L228.9,292.7 L229.1,290.9 L229.4,290.2 L229.7,288.7 L229.9,288.1 L230.2,286.1 L230.4,285.7 L230.7,284.9 L231.0,283.4 L231.2,282.0 L231.5,282.1 L231.7,281.1 L232.0,280.2 L232.2,279.5 L232.5,278.3 L232.8,278.0 L233.0,277.3 L233.3,276.2 L233.5,276.0 L233.8,275.0 L234.1,274.9 L234.3,274.5 L234.6,274.1 L234.8,272.4 L235.1,272.6 L235.4,271.9 L235.6,271.6 L235.9,271.1 L236.1,270.7 L236.4,269.6 L236.6,270.3 L236.9,270.1 L237.2,269.5 L237.4,269.3 L237.7,268.2 L237.9,267.9 L238.2,268.2 L238.5,268.0 L238.7,267.4 L239.0,266.5 L239.2,267.7 L239.5,266.3 L239.8,266.6 L240.0,265.6 L240.3,266.1 L240.5,265.6 L240.8,265.8 L241.0,265.5 L241.3,264.4 L241.6,264.4 L241.8,264.7 L242.1,264.7 L242.3,264.9 L242.6,264.2 L242.9,263.9 L243.1,263.8 L243.4,263.6 L243.6,263.8 L243.9,263.3 L244.2,263.2 L244.4,262.6 L244.7,262.3 L244.9,262.9 L245.2,263.0 L245.4,262.6 L245.7,262.7 L246.0,262.7 L246.2,262.3 L246.5,262.6 L246.7,261.9 L247.0,262.1 L247.3,261.9 L247.5,261.9 L247.8,262.1 L248.0,262.1 L248.3,261.7 L248.6,261.8 L248.8,261.5 L249.1,261.5 L249.3,261.9 L249.6,261.3 L249.8,261.8 L250.1,261.5 L250.4,261.3 L250.6,261.9 L250.9,261.1 L251.1,261.0 L251.4,261.1 L251.7,261.1 L251.9,261.1 L252.2,261.2 L252.4,260.9 L252.7,261.0 L253.0,260.7 L253.2,261.2 L253.5,260.6 L253.7,260.6 L254.0,260.7 L254.2,260.8 L254.5,260.4 L254.8,261.1 L255.0,260.4 L255.3,260.4 L255.5,260.4 L255.8,260.3" fill="none" stroke="#e6156e" stroke-width="2.3" stroke-linejoin="round" />
<path d="M255.8,260.3 L256.1,273.8 L256.3,284.5 L256.6,293.2 L256.8,300.4 L257.1,306.3 L257.4,311.3 L257.6,315.6 L257.9,319.2 L258.1,322.4 L258.4,325.2 L258.7,327.7 L258.9,330.0 L259.2,332.0 L259.5,333.9 L259.7,335.6 L260.0,337.2 L260.2,338.7 L260.5,340.1 L260.8,341.3 L261.0,342.5 L261.3,343.7 L261.5,344.7 L261.8,345.7 L262.1,346.6 L262.3,347.5 L262.6,348.3 L262.8,349.1 L263.1,349.9 L263.4,350.6 L263.6,351.2 L263.9,351.8 L264.2,352.4 L264.4,353.0 L264.7,353.5 L264.9,354.0 L265.2,354.5 L265.5,354.9 L265.7,355.3 L266.0,355.7 L266.2,356.1 L266.5,356.4 L266.8,356.8 L267.0,357.1 L267.3,357.4 L267.5,357.7 L267.8,357.9 L268.1,358.2 L268.3,358.4 L268.6,358.6 L268.9,358.8 L269.1,359.0 L269.4,359.2 L269.6,359.4 L269.9,359.6 L270.2,359.7 L270.4,359.9 L270.7,360.0 L270.9,360.2 L271.2,360.3" fill="none" stroke="#8e8e14" stroke-width="1.8" stroke-linejoin="round" />
<line x1="268.73600000000005" y1="362.82599999999996" x2="268.73600000000005" y2="373.236" stroke="#8e8e14" stroke-width="0.8" />
<path d="M267.23600000000005,364.214 L268.73600000000005,361.78499999999997 L270.23600000000005,364.214 M267.23600000000005,372.19499999999994 L268.73600000000005,374.62399999999997 L270.23600000000005,372.19499999999994" fill="none" stroke="#8e8e14" stroke-width="0.8"/>
<text x="259.80400000000003" y="371.154" font-size="8" fill="#a3a32a" text-anchor="middle" font-weight="normal" font-family="'Liberation Sans', sans-serif" >ΔI</text>
<text x="57.5" y="250" font-size="7.3" fill="#a3a32a" text-anchor="start" font-weight="normal" font-family="'Liberation Sans', sans-serif" >Light off</text>
<text x="88" y="250" font-size="7.3" fill="#e6156e" text-anchor="start" font-weight="normal" font-family="'Liberation Sans', sans-serif" >Light on</text>
<text x="93" y="234.5" font-size="10" fill="#111" text-anchor="start" font-weight="normal" font-family="'Liberation Sans', sans-serif" >Light pulse: 808 nm, 12 mW/cm<tspan font-size="6.3" dy="-3.8">2</tspan></text>
<text x="101.30000000000001" y="308.5" font-size="9.7" fill="#e6156e" text-anchor="middle" font-weight="normal" font-family="'Liberation Sans', sans-serif" >1st</text>
<text x="0" y="0" font-size="9.7" fill="#e6156e" text-anchor="middle" font-weight="normal" font-family="'Liberation Sans', sans-serif" transform="translate(104.30000000000001,331.78999999999996) rotate(-90)">Learning</text>
<text x="0" y="0" font-size="9.7" fill="#a3a32a" text-anchor="middle" font-weight="normal" font-family="'Liberation Sans', sans-serif" transform="translate(127.4,287.15) rotate(-90)">Forgetting</text>
<text x="147.5" y="308.5" font-size="9.7" fill="#e6156e" text-anchor="middle" font-weight="normal" font-family="'Liberation Sans', sans-serif" >2nd</text>
<text x="0" y="0" font-size="9.7" fill="#e6156e" text-anchor="middle" font-weight="normal" font-family="'Liberation Sans', sans-serif" transform="translate(150.5,331.78999999999996) rotate(-90)">Learning</text>
<text x="0" y="0" font-size="9.7" fill="#a3a32a" text-anchor="middle" font-weight="normal" font-family="'Liberation Sans', sans-serif" transform="translate(173.6,287.15) rotate(-90)">Forgetting</text>
<text x="193.7" y="308.5" font-size="9.7" fill="#e6156e" text-anchor="middle" font-weight="normal" font-family="'Liberation Sans', sans-serif" >3rd</text>
<text x="0" y="0" font-size="9.7" fill="#e6156e" text-anchor="middle" font-weight="normal" font-family="'Liberation Sans', sans-serif" transform="translate(196.7,331.78999999999996) rotate(-90)">Learning</text>
<text x="0" y="0" font-size="9.7" fill="#a3a32a" text-anchor="middle" font-weight="normal" font-family="'Liberation Sans', sans-serif" transform="translate(219.8,287.15) rotate(-90)">Forgetting</text>
<text x="239.9" y="308.5" font-size="9.7" fill="#e6156e" text-anchor="middle" font-weight="normal" font-family="'Liberation Sans', sans-serif" >4th</text>
<text x="0" y="0" font-size="9.7" fill="#e6156e" text-anchor="middle" font-weight="normal" font-family="'Liberation Sans', sans-serif" transform="translate(242.9,331.78999999999996) rotate(-90)">Learning</text>
<text x="0" y="0" font-size="9.7" fill="#a3a32a" text-anchor="middle" font-weight="normal" font-family="'Liberation Sans', sans-serif" transform="translate(266.0,287.15) rotate(-90)">Forgetting</text>
<text x="0" y="0" font-size="9.5" fill="#888" text-anchor="middle" font-weight="normal" font-family="'Liberation Sans', sans-serif" transform="translate(74.5,342.7) rotate(-90)">Pre-learning</text>
<rect x="55.6" y="221.5" width="219.20000000000002" height="162.7" fill="none" stroke="#111" stroke-width="1.5" />
<line x1="55.6" y1="384.2" x2="55.6" y2="380.59999999999997" stroke="#111" stroke-width="1.2" />
<text x="55.6" y="398.2" font-size="11.5" fill="#111" text-anchor="middle" font-weight="normal" font-family="'Liberation Sans', sans-serif" stroke="#111" stroke-width="0.3">0</text>
<line x1="86.4" y1="384.2" x2="86.4" y2="380.59999999999997" stroke="#111" stroke-width="1.2" />
<text x="86.4" y="398.2" font-size="11.5" fill="#111" text-anchor="middle" font-weight="normal" font-family="'Liberation Sans', sans-serif" stroke="#111" stroke-width="0.3">10</text>
<line x1="117.2" y1="384.2" x2="117.2" y2="380.59999999999997" stroke="#111" stroke-width="1.2" />
<text x="117.2" y="398.2" font-size="11.5" fill="#111" text-anchor="middle" font-weight="normal" font-family="'Liberation Sans', sans-serif" stroke="#111" stroke-width="0.3">20</text>
<line x1="148.0" y1="384.2" x2="148.0" y2="380.59999999999997" stroke="#111" stroke-width="1.2" />
<text x="148.0" y="398.2" font-size="11.5" fill="#111" text-anchor="middle" font-weight="normal" font-family="'Liberation Sans', sans-serif" stroke="#111" stroke-width="0.3">30</text>
<line x1="178.8" y1="384.2" x2="178.8" y2="380.59999999999997" stroke="#111" stroke-width="1.2" />
<text x="178.8" y="398.2" font-size="11.5" fill="#111" text-anchor="middle" font-weight="normal" font-family="'Liberation Sans', sans-serif" stroke="#111" stroke-width="0.3">40</text>
<line x1="209.6" y1="384.2" x2="209.6" y2="380.59999999999997" stroke="#111" stroke-width="1.2" />
<text x="209.6" y="398.2" font-size="11.5" fill="#111" text-anchor="middle" font-weight="normal" font-family="'Liberation Sans', sans-serif" stroke="#111" stroke-width="0.3">50</text>
<line x1="240.4" y1="384.2" x2="240.4" y2="380.59999999999997" stroke="#111" stroke-width="1.2" />
<text x="240.4" y="398.2" font-size="11.5" fill="#111" text-anchor="middle" font-weight="normal" font-family="'Liberation Sans', sans-serif" stroke="#111" stroke-width="0.3">60</text>
<line x1="271.2" y1="384.2" x2="271.2" y2="380.59999999999997" stroke="#111" stroke-width="1.2" />
<text x="271.2" y="398.2" font-size="11.5" fill="#111" text-anchor="middle" font-weight="normal" font-family="'Liberation Sans', sans-serif" stroke="#111" stroke-width="0.3">70</text>
<line x1="71.0" y1="384.2" x2="71.0" y2="382.59999999999997" stroke="#111" stroke-width="0.8" />
<line x1="101.80000000000001" y1="384.2" x2="101.80000000000001" y2="382.59999999999997" stroke="#111" stroke-width="0.8" />
<line x1="132.6" y1="384.2" x2="132.6" y2="382.59999999999997" stroke="#111" stroke-width="0.8" />
<line x1="163.4" y1="384.2" x2="163.4" y2="382.59999999999997" stroke="#111" stroke-width="0.8" />
<line x1="194.2" y1="384.2" x2="194.2" y2="382.59999999999997" stroke="#111" stroke-width="0.8" />
<line x1="225.0" y1="384.2" x2="225.0" y2="382.59999999999997" stroke="#111" stroke-width="0.8" />
<line x1="255.8" y1="384.2" x2="255.8" y2="382.59999999999997" stroke="#111" stroke-width="0.8" />
<line x1="55.6" y1="377.4" x2="59.2" y2="377.4" stroke="#111" stroke-width="1.2" />
<text x="50" y="381.4" font-size="11.5" fill="#111" text-anchor="end" font-weight="normal" font-family="'Liberation Sans', sans-serif" stroke="#111" stroke-width="0.3">4</text>
<line x1="55.6" y1="342.7" x2="59.2" y2="342.7" stroke="#111" stroke-width="1.2" />
<text x="50" y="346.7" font-size="11.5" fill="#111" text-anchor="end" font-weight="normal" font-family="'Liberation Sans', sans-serif" stroke="#111" stroke-width="0.3">5</text>
<line x1="55.6" y1="308.0" x2="59.2" y2="308.0" stroke="#111" stroke-width="1.2" />
<text x="50" y="312.0" font-size="11.5" fill="#111" text-anchor="end" font-weight="normal" font-family="'Liberation Sans', sans-serif" stroke="#111" stroke-width="0.3">6</text>
<line x1="55.6" y1="273.29999999999995" x2="59.2" y2="273.29999999999995" stroke="#111" stroke-width="1.2" />
<text x="50" y="277.29999999999995" font-size="11.5" fill="#111" text-anchor="end" font-weight="normal" font-family="'Liberation Sans', sans-serif" stroke="#111" stroke-width="0.3">7</text>
<line x1="55.6" y1="238.59999999999997" x2="59.2" y2="238.59999999999997" stroke="#111" stroke-width="1.2" />
<text x="50" y="242.59999999999997" font-size="11.5" fill="#111" text-anchor="end" font-weight="normal" font-family="'Liberation Sans', sans-serif" stroke="#111" stroke-width="0.3">8</text>
<line x1="55.6" y1="360.04999999999995" x2="57.2" y2="360.04999999999995" stroke="#111" stroke-width="0.8" />
<line x1="55.6" y1="325.34999999999997" x2="57.2" y2="325.34999999999997" stroke="#111" stroke-width="0.8" />
<line x1="55.6" y1="290.65" x2="57.2" y2="290.65" stroke="#111" stroke-width="0.8" />
<line x1="55.6" y1="255.94999999999996" x2="57.2" y2="255.94999999999996" stroke="#111" stroke-width="0.8" />
<text x="0" y="0" font-size="12" fill="#111" text-anchor="middle" font-weight="normal" font-family="'Liberation Sans', sans-serif" stroke="#111" stroke-width="0.25" transform="translate(39.3,304) rotate(-90)">PSC (µA)</text>
<text x="162.70000000000002" y="410" font-size="12" fill="#111" text-anchor="middle" font-weight="normal" font-family="'Liberation Sans', sans-serif" stroke="#111" stroke-width="0.25">Time (s)</text>
<text x="20.2" y="228.3" font-size="14.6" fill="#222" text-anchor="start" font-weight="normal" font-family="'Liberation Serif', serif" letter-spacing="0.8">(d)</text>
<path d="M320.3,370.5 L321.4,370.4 L322.5,370.2 L323.6,370.3 L324.7,370.3 L325.8,370.7 L326.9,370.3 L328.0,370.1 L329.1,370.2 L330.2,370.3 L331.3,370.7 L332.4,370.2 L333.5,370.4 L334.6,370.9 L335.7,370.3 L336.8,370.7 L337.9,370.6 L339.0,370.5 L340.1,370.1 L341.2,370.4 L342.3,370.3 L343.4,370.0 L344.5,370.1 L345.5,370.4 L346.6,370.4 L347.7,370.6 L348.8,370.5 L349.9,370.3 L351.0,370.3 L352.1,370.3 L353.2,370.2 L354.3,370.5 L355.4,370.4 L356.5,370.2 L357.6,370.3 L358.7,370.2 L359.8,370.3 L360.9,370.4 L362.0,370.3 L363.1,370.6 L364.2,370.7 L365.3,370.3 L366.4,370.4 L367.5,370.3 L368.6,370.7 L369.7,370.4 L370.8,370.5 L371.9,370.5 L373.0,370.8 L374.1,370.4 L375.2,370.2 L376.3,370.3 L377.4,370.5 L378.5,370.4 L379.6,370.2 L380.7,370.9 L381.8,370.4 L382.9,370.3 L384.0,370.2 L385.1,370.0 L386.2,370.1 L387.3,370.3 L388.4,370.3 L389.5,370.2 L390.6,370.5 L391.7,370.4 L392.8,370.2 L393.8,370.0 L394.9,370.4 L396.0,370.4 L397.1,370.3 L398.2,370.1 L399.3,370.4 L400.4,370.1 L401.5,370.6 L402.6,370.4 L403.7,370.4 L404.8,370.2 L405.9,370.2 L407.0,370.7 L408.1,370.5 L409.2,370.3 L410.3,370.5" fill="none" stroke="#0b9a2a" stroke-width="2.4" stroke-linejoin="round" />
<path d="M320.3,370.2 L321.4,369.7 L322.5,369.8 L323.6,369.8 L324.7,370.0 L325.8,369.7 L326.9,369.9 L328.0,369.7 L329.1,370.1 L330.2,370.0 L331.2,369.8 L332.3,370.0 L333.4,369.7 L334.5,369.8 L335.6,370.1 L336.7,369.9 L337.8,369.9 L338.9,369.7 L340.0,370.0 L341.1,370.0 L342.2,369.6 L343.3,369.4 L344.4,369.5 L345.5,369.9 L346.6,369.8 L347.7,369.6 L348.8,369.9 L349.9,370.1 L351.0,369.9 L352.0,369.8 L353.1,370.0 L354.2,370.2 L355.3,370.2 L356.4,369.7 L357.5,370.0 L358.6,369.9 L359.7,369.8 L360.8,369.8 L361.9,369.9 L363.0,369.8 L364.1,370.1 L365.2,369.9 L366.3,370.1 L367.4,369.7 L368.5,369.9 L369.6,370.0 L370.7,369.9 L371.8,369.9 L372.8,369.7 L373.9,370.2 L375.0,370.1 L376.1,370.0 L377.2,369.4 L378.3,369.7 L379.4,369.9 L380.5,369.7 L381.6,369.5 L382.7,369.9 L383.8,370.0 L384.9,369.6 L386.0,369.8 L387.1,369.7 L388.2,370.0 L389.3,369.5 L390.4,369.5 L391.5,369.8 L392.6,369.7 L393.6,370.3 L394.7,369.8 L395.8,369.9 L396.9,369.8 L398.0,369.7 L399.1,369.9 L400.2,370.2 L401.3,369.8 L402.4,370.0 L403.5,369.9 L404.6,370.0 L405.7,369.9 L406.8,370.3 L407.9,369.6 L409.0,369.8 L410.1,369.7 L411.2,369.5 L412.3,369.9 L413.4,370.2 L414.4,370.1 L415.5,370.1 L416.6,370.0 L417.7,369.9 L418.8,370.3 L419.9,369.8 L421.0,370.2 L422.1,369.8 L423.2,369.9 L424.3,369.9 L425.4,369.9 L426.5,370.0 L427.6,370.0 L428.7,370.2 L429.8,369.9 L430.9,369.5 L432.0,369.5 L433.1,369.6 L434.2,369.7 L435.2,370.0 L436.3,369.6 L437.4,369.9 L438.5,369.9 L439.6,369.9 L440.7,369.9 L441.8,370.0 L442.9,369.9 L444.0,370.1 L445.1,370.0 L446.2,369.4 L447.3,369.9 L448.4,369.9 L449.5,369.8 L450.6,369.7 L451.7,370.1 L452.8,369.9 L453.9,369.7 L455.0,369.8 L456.0,369.9 L457.1,369.6 L458.2,370.0" fill="none" stroke="#ff7f1e" stroke-width="1.8" stroke-linejoin="round" />
<path d="M320.3,369.4 L321.4,369.5 L322.5,369.1 L323.6,369.8 L324.6,369.5 L325.7,369.5 L326.8,369.3 L327.9,369.3 L329.0,369.1 L330.1,369.7 L331.2,369.2 L332.3,369.4 L333.3,369.5 L334.4,369.3 L335.5,369.6 L336.6,369.8 L337.7,369.5 L338.8,369.7 L339.9,369.5 L341.0,369.3 L342.0,369.3 L343.1,369.1 L344.2,369.4 L345.3,369.7 L346.4,369.5 L347.5,369.6 L348.6,369.6 L349.7,369.3 L350.7,369.5 L351.8,369.8 L352.9,369.3 L354.0,369.4 L355.1,369.3 L356.2,369.4 L357.3,369.3 L358.3,369.4 L359.4,369.1 L360.5,369.3 L361.6,369.3 L362.7,369.3 L363.8,369.7 L364.9,369.4 L366.0,369.4 L367.0,369.3 L368.1,369.7 L369.2,369.1 L370.3,369.4 L371.4,369.6 L372.5,369.7 L373.6,369.4 L374.7,369.4 L375.7,369.5 L376.8,369.4 L377.9,369.5 L379.0,369.3 L380.1,369.5 L381.2,369.4 L382.3,369.2 L383.3,368.9 L384.4,369.6 L385.5,369.5 L386.6,369.6 L387.7,369.2 L388.8,369.6 L389.9,369.5 L391.0,369.4 L392.0,369.6 L393.1,369.6 L394.2,369.5 L395.3,369.8 L396.4,369.7 L397.5,369.5 L398.6,369.4 L399.7,369.4 L400.7,369.7 L401.8,369.5 L402.9,369.2 L404.0,369.3 L405.1,369.4 L406.2,369.6 L407.3,369.3 L408.4,369.5 L409.4,369.6 L410.5,369.5 L411.6,369.1 L412.7,369.3 L413.8,369.2 L414.9,369.5 L416.0,369.2 L417.0,369.5 L418.1,369.4 L419.2,368.9 L420.3,369.2 L421.4,369.5 L422.5,369.4 L423.6,369.3 L424.7,369.1 L425.7,369.5 L426.8,369.7 L427.9,369.4 L429.0,369.4 L430.1,369.4 L431.2,369.1 L432.3,369.3 L433.4,369.2 L434.4,369.6 L435.5,369.2 L436.6,369.0 L437.7,369.2 L438.8,369.3 L439.9,369.4 L441.0,369.0 L442.0,369.6 L443.1,369.4 L444.2,369.3 L445.3,369.2 L446.4,369.5 L447.5,369.3 L448.6,369.4 L449.7,369.4 L450.7,369.4 L451.8,369.6 L452.9,369.4 L454.0,369.2 L455.1,369.6 L456.2,369.4 L457.3,369.3 L458.4,369.6 L459.4,369.4 L460.5,369.6 L461.6,369.2 L462.7,368.9 L463.8,369.0 L464.9,369.4 L466.0,369.2 L467.1,369.4 L468.1,369.4 L469.2,369.1 L470.3,369.6 L471.4,369.2 L472.5,369.4" fill="none" stroke="#333333" stroke-width="1.8" stroke-linejoin="round" />
<path d="M320.3,368.1 L321.4,368.4 L322.5,368.5 L323.6,368.3 L324.7,368.3 L325.8,368.4 L326.8,368.3 L327.9,368.5 L329.0,368.8 L330.1,368.2 L331.2,368.3 L332.3,368.4 L333.4,368.4 L334.5,368.2 L335.6,368.5 L336.7,368.5 L337.7,368.4 L338.8,368.2 L339.9,368.7 L341.0,368.2 L342.1,368.5 L343.2,368.6 L344.3,368.2 L345.4,368.4 L346.5,368.7 L347.6,368.5 L348.7,368.2 L349.7,368.2 L350.8,368.5 L351.9,368.3 L353.0,368.3 L354.1,368.5 L355.2,368.3 L356.3,368.4 L357.4,368.5 L358.5,368.5 L359.6,368.4 L360.6,368.4 L361.7,368.5 L362.8,368.5 L363.9,368.2 L365.0,368.4 L366.1,368.2 L367.2,368.2 L368.3,368.3 L369.4,368.0 L370.5,368.6 L371.5,368.2 L372.6,368.5 L373.7,368.0 L374.8,368.1 L375.9,368.8 L377.0,368.6 L378.1,368.3 L379.2,368.2 L380.3,368.3 L381.4,368.4 L382.5,368.3 L383.5,368.3 L384.6,368.4 L385.7,368.2 L386.8,368.8 L387.9,368.3 L389.0,368.6 L390.1,368.2 L391.2,368.4 L392.3,368.6 L393.4,368.3 L394.4,368.6 L395.5,368.6 L396.6,368.7 L397.7,368.4 L398.8,368.3 L399.9,368.2 L401.0,368.4 L402.1,368.2 L403.2,368.4 L404.3,368.4 L405.4,368.3 L406.4,368.2 L407.5,368.5 L408.6,368.5 L409.7,368.4 L410.8,368.4 L411.9,368.6 L413.0,368.2 L414.1,368.5 L415.2,368.3 L416.3,368.6 L417.3,368.3 L418.4,368.3 L419.5,368.5 L420.6,368.0 L421.7,368.3 L422.8,368.1 L423.9,368.2 L425.0,368.5 L426.1,368.5 L427.2,368.3 L428.2,368.4 L429.3,368.4 L430.4,368.5 L431.5,368.8 L432.6,368.4 L433.7,368.8 L434.8,368.3 L435.9,368.5 L437.0,368.5 L438.1,368.4 L439.2,368.4 L440.2,368.7 L441.3,368.7 L442.4,368.6 L443.5,368.8 L444.6,368.6 L445.7,368.1 L446.8,368.6 L447.9,368.3" fill="none" stroke="#1f4fff" stroke-width="1.8" stroke-linejoin="round" />
<path d="M320.3,368.7 L321.4,368.3 L322.5,368.5 L323.6,368.4 L324.8,368.3 L325.9,368.1 L327.0,368.4 L328.1,368.4 L329.2,368.6 L330.3,368.3 L331.5,368.5 L332.6,368.2 L333.7,368.4 L334.8,368.1 L335.9,368.8 L337.0,368.5 L338.1,368.2 L339.3,368.5 L340.4,368.6 L341.5,368.5 L342.6,368.7 L343.7,368.4 L344.8,367.9 L346.0,368.2 L347.1,368.6 L348.2,368.6 L349.3,368.5 L350.4,368.2 L351.5,368.6 L352.6,368.5 L353.8,368.2 L354.9,368.2 L356.0,368.5 L357.1,368.6 L358.2,368.7 L359.3,368.5 L360.5,368.8" fill="none" stroke="#f01fd0" stroke-width="1.8" stroke-linejoin="round" />
<path d="M360.5,368.4 L361.3,340.9 L362.1,321.2 L362.9,307.1 L363.7,297.4 L364.5,290.8 L365.4,285.3 L366.2,281.6 L367.0,279.2 L367.8,277.1 L368.6,275.3 L369.4,274.3 L370.3,272.6 L371.1,272.5 L371.9,271.4 L372.7,270.6 L373.5,269.9 L374.3,269.3 L375.2,268.7 L376.0,268.3 L376.8,267.5 L377.6,267.7 L378.4,266.9 L379.2,266.6 L380.1,266.0 L380.9,265.5 L381.7,265.4 L382.5,264.9 L383.3,264.3 L384.1,264.0 L385.0,263.8 L385.8,263.0 L386.6,262.6 L387.4,263.0 L388.2,262.3 L389.0,261.6 L389.9,261.6 L390.7,261.4 L391.5,261.2 L392.3,261.0 L393.1,260.6 L394.0,260.4 L394.8,259.9 L395.6,259.9 L396.4,259.7 L397.2,259.6 L398.0,259.1 L398.9,259.0 L399.7,258.7 L400.5,258.2 L401.3,258.1 L402.1,257.9 L402.9,257.7 L403.8,257.6 L404.6,257.4 L405.4,257.3 L406.2,256.9 L407.0,257.1 L407.8,256.4 L408.7,256.5 L409.5,256.5 L410.3,256.3 L411.1,256.1 L411.9,255.8 L412.7,255.8 L413.6,255.3 L414.4,255.6 L415.2,255.7 L416.0,255.3 L416.8,255.4 L417.6,254.9 L418.5,254.5 L419.3,254.5 L420.1,254.8 L420.9,254.5 L421.7,253.9 L422.6,254.1 L423.4,254.0 L424.2,253.7 L425.0,253.4 L425.8,253.5 L426.6,253.6 L427.5,253.5 L428.3,253.3 L429.1,253.5 L429.9,253.5 L430.7,253.2 L431.5,253.3 L432.4,253.0 L433.2,252.9 L434.0,252.4 L434.8,253.0 L435.6,252.7 L436.4,252.7 L437.3,252.5 L438.1,252.3 L438.9,252.5 L439.7,252.5 L440.5,252.6 L441.3,252.4 L442.2,252.1 L443.0,252.1 L443.8,252.3 L444.6,252.1 L445.4,251.9 L446.2,251.8 L447.1,252.0 L447.9,251.8 L448.7,252.1 L449.5,251.9 L450.3,251.3 L451.1,252.0 L452.0,251.6 L452.8,251.5 L453.6,251.5 L454.4,251.6 L455.2,251.4 L456.1,251.4 L456.9,251.3 L457.7,251.6 L458.5,251.3 L459.3,251.4 L460.1,251.3 L461.0,251.1 L461.8,251.0 L462.6,250.9 L463.4,251.1 L464.2,250.8 L465.0,250.7 L465.9,250.7 L466.7,250.6 L467.5,250.9 L468.3,250.9 L469.1,250.7 L469.9,251.1 L470.8,250.7 L471.6,250.9 L472.4,250.8 L473.2,251.1 L474.0,250.9 L474.8,250.7 L475.7,250.5 L476.5,250.4 L477.3,250.6 L478.1,250.6 L478.9,250.7 L479.7,250.5 L480.6,250.6 L481.4,250.4 L482.2,250.1" fill="none" stroke="#f01fd0" stroke-width="1.9" stroke-linejoin="round" />
<path d="M410.3,370.4 L410.8,356.1 L411.3,344.0 L411.8,334.3 L412.2,326.1 L412.7,318.8 L413.2,313.4 L413.7,309.0 L414.2,304.6 L414.7,301.1 L415.1,298.5 L415.6,296.1 L416.1,293.9 L416.6,291.9 L417.1,290.1 L417.6,288.5 L418.0,287.2 L418.5,286.0 L419.0,284.8 L419.5,284.0 L420.0,283.4 L420.4,282.3 L420.9,281.4 L421.4,280.7 L421.9,279.7 L422.4,279.2 L422.9,278.7 L423.3,277.6 L423.8,277.1 L424.3,276.6 L424.8,275.8 L425.3,275.2 L425.8,274.8 L426.2,274.9 L426.7,274.0 L427.2,273.4 L427.7,273.1 L428.2,272.4 L428.6,271.7 L429.1,271.6 L429.6,271.3 L430.1,270.2 L430.6,270.3 L431.1,270.0 L431.5,269.4 L432.0,268.9 L432.5,268.8 L433.0,268.1 L433.5,268.0 L434.0,267.8 L434.4,267.2 L434.9,266.8 L435.4,266.7 L435.9,266.2 L436.4,266.0 L436.9,265.1 L437.3,265.5 L437.8,264.8 L438.3,264.8 L438.8,264.6 L439.3,264.1 L439.7,263.8 L440.2,263.5 L440.7,263.5 L441.2,263.4 L441.7,263.2 L442.2,262.7 L442.6,262.5 L443.1,262.1 L443.6,262.1 L444.1,261.8 L444.6,261.5 L445.1,261.5 L445.5,261.7 L446.0,261.4 L446.5,261.3 L447.0,260.5 L447.5,260.8 L447.9,260.2 L448.4,260.2 L448.9,259.8 L449.4,259.8 L449.9,259.9 L450.4,259.7 L450.8,259.5 L451.3,259.4 L451.8,259.4 L452.3,259.1 L452.8,258.7 L453.3,259.2 L453.7,258.7 L454.2,258.8 L454.7,258.5 L455.2,258.2 L455.7,258.3 L456.1,258.0 L456.6,258.4 L457.1,257.7 L457.6,258.0 L458.1,257.6 L458.6,257.6 L459.0,258.1 L459.5,257.6 L460.0,257.3 L460.5,257.0 L461.0,257.1 L461.5,257.1 L461.9,257.3 L462.4,256.7 L462.9,256.5 L463.4,256.8 L463.9,256.8 L464.3,257.0 L464.8,256.4 L465.3,256.0 L465.8,256.3 L466.3,256.1 L466.8,256.2 L467.2,256.4 L467.7,255.9 L468.2,256.4 L468.7,256.1 L469.2,256.0 L469.7,255.8 L470.1,255.8 L470.6,255.8 L471.1,256.0 L471.6,256.0 L472.1,255.7 L472.6,255.8 L473.0,255.9 L473.5,255.8 L474.0,255.6 L474.5,255.8 L475.0,255.7 L475.4,255.7 L475.9,255.3 L476.4,255.2 L476.9,254.9 L477.4,255.5 L477.9,255.3 L478.3,255.0 L478.8,255.2 L479.3,255.2 L479.8,254.7 L480.3,255.1 L480.8,255.2 L481.2,255.2 L481.7,254.9 L482.2,254.9" fill="none" stroke="#0b9a2a" stroke-width="3.2" stroke-linejoin="round" />
<path d="M447.9,368.4 L448.1,361.8 L448.3,355.4 L448.6,349.7 L448.8,344.8 L449.0,339.8 L449.3,335.5 L449.5,332.0 L449.7,328.0 L450.0,324.5 L450.2,321.6 L450.4,319.0 L450.6,316.0 L450.9,313.4 L451.1,310.9 L451.3,309.6 L451.6,306.7 L451.8,305.6 L452.0,303.5 L452.3,301.9 L452.5,300.4 L452.7,299.2 L452.9,298.2 L453.2,296.6 L453.4,295.7 L453.6,295.0 L453.9,292.9 L454.1,292.4 L454.3,291.2 L454.6,290.9 L454.8,289.6 L455.0,288.8 L455.2,288.0 L455.5,287.6 L455.7,287.1 L455.9,286.3 L456.2,286.0 L456.4,285.3 L456.6,284.4 L456.9,284.0 L457.1,283.3 L457.3,282.8 L457.6,281.8 L457.8,281.5 L458.0,281.2 L458.2,280.5 L458.5,280.5 L458.7,279.9 L458.9,279.3 L459.2,279.3 L459.4,278.7 L459.6,278.5 L459.9,277.8 L460.1,277.1 L460.3,277.2 L460.5,276.7 L460.8,276.6 L461.0,276.3 L461.2,275.9 L461.5,275.1 L461.7,274.6 L461.9,274.6 L462.2,274.6 L462.4,274.0 L462.6,273.9 L462.9,273.4 L463.1,273.2 L463.3,272.9 L463.5,272.6 L463.8,272.5 L464.0,272.2 L464.2,272.2 L464.5,271.7 L464.7,271.7 L464.9,271.2 L465.2,271.1 L465.4,270.7 L465.6,270.4 L465.8,270.5 L466.1,270.2 L466.3,270.0 L466.5,269.4 L466.8,269.0 L467.0,269.0 L467.2,269.0 L467.5,268.5 L467.7,268.9 L467.9,268.1 L468.1,268.3 L468.4,268.6 L468.6,267.3 L468.8,267.3 L469.1,267.7 L469.3,267.3 L469.5,267.2 L469.8,267.0 L470.0,267.1 L470.2,266.8 L470.5,266.4 L470.7,266.3 L470.9,266.0 L471.1,266.0 L471.4,265.4 L471.6,265.9 L471.8,265.6 L472.1,265.9 L472.3,265.6 L472.5,264.9 L472.8,265.3 L473.0,264.8 L473.2,264.8 L473.4,264.9 L473.7,264.6 L473.9,264.6 L474.1,264.4 L474.4,264.1 L474.6,264.0 L474.8,264.1 L475.1,264.1 L475.3,263.7 L475.5,263.7 L475.8,263.4 L476.0,262.9 L476.2,263.2 L476.4,263.3 L476.7,263.2 L476.9,263.2 L477.1,263.2 L477.4,263.1 L477.6,262.9 L477.8,262.8 L478.1,262.5 L478.3,262.6 L478.5,262.5 L478.7,262.6 L479.0,262.0 L479.2,262.1 L479.4,261.8 L479.7,261.9 L479.9,261.7 L480.1,262.0 L480.4,261.7 L480.6,261.2 L480.8,261.9 L481.0,261.4 L481.3,261.2 L481.5,261.4 L481.7,261.3 L482.0,261.1 L482.2,261.4" fill="none" stroke="#1f4fff" stroke-width="1.9" stroke-linejoin="round" />
<path d="M458.2,369.9 L458.4,365.2 L458.6,360.6 L458.7,356.3 L458.9,352.2 L459.0,348.4 L459.2,344.8 L459.4,341.8 L459.5,337.9 L459.7,335.1 L459.8,332.4 L460.0,330.0 L460.2,327.4 L460.3,324.9 L460.5,322.7 L460.7,321.0 L460.8,318.5 L461.0,316.2 L461.1,315.3 L461.3,313.0 L461.5,311.5 L461.6,310.1 L461.8,308.3 L461.9,307.5 L462.1,305.9 L462.3,304.3 L462.4,303.5 L462.6,302.4 L462.7,301.2 L462.9,300.2 L463.1,298.8 L463.2,298.4 L463.4,297.1 L463.5,296.6 L463.7,295.4 L463.9,294.7 L464.0,294.5 L464.2,293.2 L464.3,292.7 L464.5,291.9 L464.7,290.8 L464.8,290.7 L465.0,290.1 L465.2,289.0 L465.3,288.6 L465.5,287.8 L465.6,287.5 L465.8,287.2 L466.0,286.6 L466.1,285.8 L466.3,285.4 L466.4,285.1 L466.6,284.6 L466.8,284.2 L466.9,283.9 L467.1,283.0 L467.2,283.0 L467.4,282.8 L467.6,282.3 L467.7,281.7 L467.9,281.3 L468.0,281.1 L468.2,280.9 L468.4,280.4 L468.5,280.4 L468.7,280.0 L468.9,279.3 L469.0,279.2 L469.2,278.8 L469.3,278.3 L469.5,278.1 L469.7,278.0 L469.8,277.3 L470.0,277.3 L470.1,277.2 L470.3,276.8 L470.5,276.6 L470.6,276.6 L470.8,276.2 L470.9,276.0 L471.1,276.1 L471.3,275.5 L471.4,275.3 L471.6,275.1 L471.7,275.1 L471.9,274.6 L472.1,274.4 L472.2,274.1 L472.4,274.2 L472.6,273.6 L472.7,273.8 L472.9,273.4 L473.0,272.9 L473.2,273.1 L473.4,272.9 L473.5,272.4 L473.7,272.5 L473.8,272.3 L474.0,272.1 L474.2,271.7 L474.3,272.2 L474.5,271.8 L474.6,271.7 L474.8,271.5 L475.0,271.3 L475.1,271.2 L475.3,270.8 L475.4,270.9 L475.6,270.5 L475.8,270.3 L475.9,270.4 L476.1,270.1 L476.2,269.7 L476.4,269.8 L476.6,269.8 L476.7,269.6 L476.9,269.6 L477.1,269.3 L477.2,269.0 L477.4,269.3 L477.5,269.0 L477.7,268.6 L477.9,268.8 L478.0,268.6 L478.2,268.7 L478.3,268.6 L478.5,268.4 L478.7,267.8 L478.8,268.2 L479.0,268.1 L479.1,268.0 L479.3,267.8 L479.5,267.5 L479.6,267.5 L479.8,267.1 L479.9,267.3 L480.1,267.0 L480.3,267.2 L480.4,267.0 L480.6,267.3 L480.8,267.0 L480.9,266.9 L481.1,266.8 L481.2,267.1 L481.4,266.4 L481.6,266.6 L481.7,266.5 L481.9,266.4 L482.0,266.3 L482.2,266.1" fill="none" stroke="#ff7f1e" stroke-width="1.9" stroke-linejoin="round" />
<path d="M472.5,369.4 L472.6,367.7 L472.6,365.5 L472.7,363.7 L472.7,362.1 L472.8,360.4 L472.9,358.7 L472.9,356.9 L473.0,355.0 L473.1,353.9 L473.1,351.8 L473.2,350.4 L473.3,349.2 L473.3,347.5 L473.4,346.5 L473.5,345.2 L473.5,343.8 L473.6,342.3 L473.7,341.0 L473.7,339.8 L473.8,338.4 L473.9,337.6 L473.9,336.0 L474.0,335.2 L474.1,333.9 L474.1,332.8 L474.2,331.8 L474.2,330.8 L474.3,329.7 L474.4,328.5 L474.4,327.4 L474.5,326.4 L474.6,325.8 L474.6,324.8 L474.7,324.0 L474.8,322.8 L474.8,322.4 L474.9,321.0 L475.0,320.5 L475.0,319.7 L475.1,318.7 L475.2,317.8 L475.2,317.2 L475.3,316.3 L475.4,315.7 L475.4,314.8 L475.5,314.1 L475.6,313.7 L475.6,312.7 L475.7,312.3 L475.7,311.7 L475.8,311.3 L475.9,310.5 L475.9,309.7 L476.0,309.5 L476.1,308.6 L476.1,308.1 L476.2,307.5 L476.3,307.5 L476.3,306.5 L476.4,305.8 L476.5,305.6 L476.5,304.9 L476.6,304.9 L476.7,303.8 L476.7,303.6 L476.8,302.9 L476.9,302.9 L476.9,302.0 L477.0,301.7 L477.0,301.1 L477.1,301.0 L477.2,300.6 L477.2,299.6 L477.3,299.8 L477.4,299.4 L477.4,298.9 L477.5,298.7 L477.6,297.9 L477.6,297.4 L477.7,297.5 L477.8,297.4 L477.8,296.5 L477.9,296.2 L478.0,295.9 L478.0,295.5 L478.1,295.6 L478.2,295.1 L478.2,295.1 L478.3,294.8 L478.4,294.0 L478.4,294.1 L478.5,293.2 L478.5,293.3 L478.6,293.2 L478.7,292.7 L478.7,292.2 L478.8,292.2 L478.9,292.3 L478.9,291.7 L479.0,291.3 L479.1,291.4 L479.1,291.2 L479.2,290.6 L479.3,290.6 L479.3,290.6 L479.4,290.2 L479.5,290.1 L479.5,289.7 L479.6,289.5 L479.7,289.1 L479.7,289.0 L479.8,289.2 L479.9,288.6 L479.9,288.3 L480.0,288.2 L480.0,287.9 L480.1,288.1 L480.2,288.0 L480.2,287.4 L480.3,287.6 L480.4,287.7 L480.4,286.9 L480.5,287.1 L480.6,286.8 L480.6,286.9 L480.7,286.7 L480.8,286.5 L480.8,286.2 L480.9,285.9 L481.0,286.3 L481.0,285.5 L481.1,285.8 L481.2,285.6 L481.2,285.1 L481.3,285.1 L481.4,285.3 L481.4,284.5 L481.5,284.9 L481.5,284.5 L481.6,284.4 L481.7,284.1 L481.7,284.3 L481.8,283.9 L481.9,284.1 L481.9,283.6 L482.0,283.9 L482.1,283.7 L482.1,283.1 L482.2,283.3" fill="none" stroke="#333333" stroke-width="1.9" stroke-linejoin="round" />
<path d="M482.2,283.4 L482.6,293.7 L483.0,302.8 L483.4,310.3 L483.8,316.1 L484.2,321.5 L484.5,325.4 L484.9,328.9 L485.3,332.1 L485.7,334.7 L486.1,336.7 L486.5,338.6 L486.9,340.3 L487.3,341.5 L487.7,343.1 L488.1,343.9 L488.5,344.8 L488.8,345.7 L489.2,346.3 L489.6,347.3 L490.0,347.6 L490.4,348.3 L490.8,349.0 L491.2,349.6 L491.6,350.0 L492.0,350.3 L492.4,350.9 L492.8,351.1 L493.2,351.4 L493.5,351.8 L493.9,352.1 L494.3,352.7 L494.7,353.2 L495.1,353.2 L495.5,353.6 L495.9,353.8 L496.3,354.3 L496.7,354.4 L497.1,354.7 L497.5,355.0 L497.8,355.3 L498.2,355.6 L498.6,355.9 L499.0,356.2 L499.4,356.3 L499.8,356.8 L500.2,356.7 L500.6,357.2 L501.0,357.3 L501.4,357.6 L501.8,357.9 L502.1,357.8 L502.5,358.3 L502.9,358.7 L503.3,358.8 L503.7,358.9 L504.1,358.8 L504.5,359.2 L504.9,359.3 L505.3,359.8 L505.7,359.8 L506.1,359.9 L506.5,359.9 L506.8,360.4 L507.2,360.4 L507.6,360.6 L508.0,360.9 L508.4,360.9 L508.8,361.1 L509.2,361.6 L509.6,361.3 L510.0,361.4 L510.4,361.7 L510.8,362.0 L511.1,361.7 L511.5,362.0 L511.9,362.0 L512.3,362.1 L512.7,362.5 L513.1,362.4 L513.5,362.7 L513.9,362.8 L514.3,362.9 L514.7,363.0 L515.1,362.9 L515.4,363.2 L515.8,363.3 L516.2,363.4 L516.6,363.4 L517.0,363.7 L517.4,363.7 L517.8,363.8 L518.2,363.9 L518.6,364.0 L519.0,364.1 L519.4,363.8 L519.8,364.0 L520.1,364.2 L520.5,364.3 L520.9,364.1 L521.3,364.4 L521.7,364.6 L522.1,364.6 L522.5,364.7 L522.9,364.6 L523.3,364.8 L523.7,364.6 L524.1,365.1 L524.4,364.9 L524.8,365.2 L525.2,364.9 L525.6,365.3 L526.0,365.3 L526.4,365.2 L526.8,365.2 L527.2,365.6 L527.6,365.5 L528.0,365.7 L528.4,365.6 L528.7,365.7 L529.1,365.7 L529.5,365.8 L529.9,365.8 L530.3,365.9 L530.7,365.8 L531.1,365.7 L531.5,366.2 L531.9,366.0 L532.3,366.1 L532.7,366.0 L533.1,366.3 L533.4,366.2 L533.8,366.4 L534.2,366.1 L534.6,366.3 L535.0,366.3 L535.4,366.3 L535.8,366.4 L536.2,366.6 L536.6,366.4 L537.0,366.4 L537.4,366.5 L537.7,366.4 L538.1,366.4 L538.5,366.8 L538.9,366.7 L539.3,366.4 L539.7,366.5 L540.1,366.8 L540.5,366.9" fill="none" stroke="#333333" stroke-width="2.0" stroke-linejoin="round" />
<path d="M482.2,266.3 L482.6,278.9 L483.0,289.4 L483.4,297.8 L483.8,305.1 L484.2,311.1 L484.5,315.8 L484.9,320.2 L485.3,323.6 L485.7,326.5 L486.1,329.0 L486.5,331.4 L486.9,333.2 L487.3,335.0 L487.7,336.0 L488.1,337.4 L488.5,338.8 L488.8,339.6 L489.2,340.4 L489.6,341.3 L490.0,341.8 L490.4,342.6 L490.8,343.5 L491.2,344.1 L491.6,344.8 L492.0,345.1 L492.4,345.7 L492.8,345.8 L493.2,346.6 L493.5,347.4 L493.9,347.6 L494.3,347.9 L494.7,348.5 L495.1,348.9 L495.5,349.2 L495.9,349.4 L496.3,349.9 L496.7,350.3 L497.1,350.4 L497.5,351.0 L497.8,351.3 L498.2,351.7 L498.6,351.9 L499.0,352.0 L499.4,352.7 L499.8,352.7 L500.2,352.9 L500.6,353.3 L501.0,353.5 L501.4,354.0 L501.8,353.9 L502.1,354.2 L502.5,354.5 L502.9,355.1 L503.3,355.2 L503.7,355.1 L504.1,355.3 L504.5,355.7 L504.9,355.8 L505.3,356.3 L505.7,356.4 L506.1,356.6 L506.5,356.7 L506.8,357.2 L507.2,357.0 L507.6,357.2 L508.0,357.7 L508.4,357.9 L508.8,357.8 L509.2,358.2 L509.6,358.6 L510.0,358.3 L510.4,358.5 L510.8,358.8 L511.1,358.6 L511.5,359.0 L511.9,359.3 L512.3,359.3 L512.7,359.6 L513.1,359.7 L513.5,359.7 L513.9,359.9 L514.3,360.1 L514.7,359.9 L515.1,360.1 L515.4,360.3 L515.8,360.4 L516.2,360.5 L516.6,360.5 L517.0,360.8 L517.4,360.7 L517.8,361.2 L518.2,361.2 L518.6,361.5 L519.0,361.4 L519.4,361.4 L519.8,361.3 L520.1,361.7 L520.5,361.7 L520.9,361.9 L521.3,362.0 L521.7,362.2 L522.1,362.1 L522.5,362.4 L522.9,362.2 L523.3,362.3 L523.7,362.5 L524.1,362.6 L524.4,362.8 L524.8,362.3 L525.2,362.9 L525.6,362.5 L526.0,362.7 L526.4,363.0 L526.8,363.1 L527.2,362.9 L527.6,362.8 L528.0,363.3 L528.4,363.3 L528.7,363.1 L529.1,363.3 L529.5,363.1 L529.9,363.5 L530.3,363.4 L530.7,363.7 L531.1,363.3 L531.5,363.8 L531.9,364.0 L532.3,363.8 L532.7,363.8 L533.1,363.6 L533.4,363.9 L533.8,363.9 L534.2,363.9 L534.6,363.8 L535.0,364.1 L535.4,363.9 L535.8,364.1 L536.2,364.2 L536.6,364.2 L537.0,364.2 L537.4,364.4 L537.7,364.1 L538.1,364.6 L538.5,364.2 L538.9,364.3 L539.3,364.5 L539.7,364.6 L540.1,364.5 L540.5,364.5" fill="none" stroke="#ff7f1e" stroke-width="2.0" stroke-linejoin="round" />
<path d="M482.2,261.2 L482.6,274.3 L483.0,284.9 L483.4,294.1 L483.8,301.3 L484.2,307.8 L484.5,312.6 L484.9,317.0 L485.3,320.8 L485.7,323.6 L486.1,326.3 L486.5,329.1 L486.9,330.6 L487.3,332.5 L487.7,333.6 L488.1,334.7 L488.5,336.3 L488.8,337.3 L489.2,338.2 L489.6,339.0 L490.0,339.7 L490.4,340.4 L490.8,341.4 L491.2,341.6 L491.6,342.6 L492.0,342.9 L492.4,343.3 L492.8,343.9 L493.2,344.6 L493.5,345.1 L493.9,345.5 L494.3,345.8 L494.7,346.1 L495.1,346.9 L495.5,347.0 L495.9,347.4 L496.3,347.7 L496.7,348.1 L497.1,348.3 L497.5,348.8 L497.8,349.1 L498.2,349.5 L498.6,349.6 L499.0,350.5 L499.4,350.3 L499.8,350.8 L500.2,351.1 L500.6,351.5 L501.0,351.9 L501.4,352.0 L501.8,352.3 L502.1,352.4 L502.5,352.9 L502.9,352.8 L503.3,353.2 L503.7,353.5 L504.1,353.8 L504.5,354.0 L504.9,354.3 L505.3,354.4 L505.7,354.6 L506.1,354.8 L506.5,355.2 L506.8,355.2 L507.2,355.5 L507.6,355.6 L508.0,355.5 L508.4,355.9 L508.8,356.2 L509.2,356.6 L509.6,356.7 L510.0,356.9 L510.4,356.7 L510.8,357.1 L511.1,357.1 L511.5,357.4 L511.9,357.5 L512.3,357.4 L512.7,357.9 L513.1,358.0 L513.5,358.2 L513.9,358.1 L514.3,358.5 L514.7,358.6 L515.1,358.8 L515.4,358.9 L515.8,358.8 L516.2,358.6 L516.6,359.2 L517.0,359.0 L517.4,359.3 L517.8,359.6 L518.2,359.6 L518.6,359.7 L519.0,359.8 L519.4,359.5 L519.8,360.2 L520.1,360.0 L520.5,360.1 L520.9,360.3 L521.3,360.3 L521.7,360.3 L522.1,360.5 L522.5,360.5 L522.9,360.5 L523.3,361.0 L523.7,360.6 L524.1,360.5 L524.4,360.8 L524.8,360.9 L525.2,361.3 L525.6,361.2 L526.0,361.4 L526.4,361.4 L526.8,361.2 L527.2,361.6 L527.6,361.5 L528.0,361.9 L528.4,361.7 L528.7,361.7 L529.1,361.9 L529.5,361.9 L529.9,361.6 L530.3,362.1 L530.7,362.1 L531.1,362.2 L531.5,361.9 L531.9,361.8 L532.3,362.1 L532.7,362.3 L533.1,362.4 L533.4,362.2 L533.8,362.5 L534.2,362.2 L534.6,362.3 L535.0,362.5 L535.4,362.5 L535.8,362.5 L536.2,362.4 L536.6,362.8 L537.0,362.5 L537.4,362.8 L537.7,362.9 L538.1,362.8 L538.5,362.9 L538.9,363.0 L539.3,363.2 L539.7,363.1 L540.1,362.8 L540.5,362.7" fill="none" stroke="#1f4fff" stroke-width="2.0" stroke-linejoin="round" />
<path d="M482.2,254.8 L482.6,268.4 L483.0,280.0 L483.4,289.3 L483.8,297.0 L484.2,303.7 L484.5,309.2 L484.9,313.6 L485.3,317.5 L485.7,320.8 L486.1,323.4 L486.5,325.9 L486.9,327.7 L487.3,329.6 L487.7,331.2 L488.1,332.5 L488.5,333.8 L488.8,335.0 L489.2,335.9 L489.6,336.6 L490.0,337.5 L490.4,338.1 L490.8,339.3 L491.2,339.7 L491.6,340.3 L492.0,340.8 L492.4,341.5 L492.8,342.0 L493.2,342.4 L493.5,342.9 L493.9,343.6 L494.3,343.7 L494.7,344.2 L495.1,344.8 L495.5,345.0 L495.9,345.7 L496.3,345.8 L496.7,346.4 L497.1,346.8 L497.5,347.1 L497.8,347.5 L498.2,347.8 L498.6,348.1 L499.0,348.4 L499.4,348.9 L499.8,349.6 L500.2,349.4 L500.6,350.0 L501.0,350.0 L501.4,350.1 L501.8,350.5 L502.1,350.9 L502.5,351.1 L502.9,351.4 L503.3,351.7 L503.7,352.0 L504.1,352.3 L504.5,352.2 L504.9,352.6 L505.3,352.7 L505.7,353.1 L506.1,353.3 L506.5,353.5 L506.8,353.7 L507.2,353.8 L507.6,354.1 L508.0,354.4 L508.4,354.7 L508.8,354.5 L509.2,355.0 L509.6,355.1 L510.0,355.1 L510.4,355.3 L510.8,355.5 L511.1,355.8 L511.5,355.6 L511.9,356.1 L512.3,356.2 L512.7,356.5 L513.1,356.8 L513.5,356.9 L513.9,356.8 L514.3,357.0 L514.7,357.2 L515.1,357.5 L515.4,357.6 L515.8,357.6 L516.2,357.9 L516.6,357.7 L517.0,357.7 L517.4,357.6 L517.8,358.0 L518.2,358.4 L518.6,358.5 L519.0,359.0 L519.4,358.7 L519.8,358.7 L520.1,358.7 L520.5,358.8 L520.9,358.9 L521.3,359.1 L521.7,359.1 L522.1,359.1 L522.5,359.5 L522.9,359.5 L523.3,359.8 L523.7,359.4 L524.1,359.5 L524.4,359.7 L524.8,360.0 L525.2,359.9 L525.6,360.1 L526.0,360.1 L526.4,360.2 L526.8,360.2 L527.2,360.4 L527.6,360.3 L528.0,360.4 L528.4,360.6 L528.7,360.6 L529.1,360.7 L529.5,360.6 L529.9,360.8 L530.3,360.8 L530.7,360.9 L531.1,361.1 L531.5,360.8 L531.9,361.2 L532.3,361.0 L532.7,361.1 L533.1,361.4 L533.4,361.4 L533.8,361.4 L534.2,361.5 L534.6,361.6 L535.0,361.3 L535.4,361.5 L535.8,361.5 L536.2,361.6 L536.6,361.6 L537.0,361.7 L537.4,361.7 L537.7,361.6 L538.1,361.7 L538.5,361.9 L538.9,362.0 L539.3,361.8 L539.7,361.8 L540.1,362.0 L540.5,362.1" fill="none" stroke="#0b9a2a" stroke-width="3.0" stroke-linejoin="round" />
<path d="M482.2,250.4 L482.6,264.2 L483.0,276.2 L483.4,285.8 L483.8,293.8 L484.2,300.9 L484.5,306.0 L484.9,310.8 L485.3,314.5 L485.7,318.1 L486.1,321.0 L486.5,323.3 L486.9,325.4 L487.3,327.3 L487.7,328.8 L488.1,330.4 L488.5,331.5 L488.8,332.5 L489.2,333.3 L489.6,334.4 L490.0,335.3 L490.4,336.0 L490.8,336.7 L491.2,337.3 L491.6,338.0 L492.0,338.8 L492.4,339.3 L492.8,339.9 L493.2,340.4 L493.5,340.9 L493.9,341.5 L494.3,342.2 L494.7,342.4 L495.1,343.1 L495.5,343.2 L495.9,343.6 L496.3,344.3 L496.7,344.3 L497.1,344.7 L497.5,345.1 L497.8,345.3 L498.2,345.6 L498.6,346.4 L499.0,346.4 L499.4,346.8 L499.8,347.2 L500.2,347.4 L500.6,348.0 L501.0,348.2 L501.4,348.6 L501.8,348.9 L502.1,349.0 L502.5,349.5 L502.9,349.7 L503.3,349.8 L503.7,350.1 L504.1,350.3 L504.5,350.9 L504.9,351.0 L505.3,351.2 L505.7,351.3 L506.1,351.6 L506.5,351.6 L506.8,352.0 L507.2,352.2 L507.6,352.4 L508.0,352.5 L508.4,352.9 L508.8,352.8 L509.2,353.1 L509.6,353.4 L510.0,353.6 L510.4,353.7 L510.8,353.8 L511.1,354.0 L511.5,354.2 L511.9,354.3 L512.3,354.6 L512.7,354.6 L513.1,354.9 L513.5,355.4 L513.9,355.0 L514.3,355.3 L514.7,355.7 L515.1,355.7 L515.4,355.9 L515.8,355.6 L516.2,356.0 L516.6,356.4 L517.0,356.2 L517.4,356.5 L517.8,356.3 L518.2,356.8 L518.6,357.1 L519.0,356.9 L519.4,357.0 L519.8,357.2 L520.1,357.5 L520.5,357.2 L520.9,357.2 L521.3,357.8 L521.7,357.4 L522.1,357.8 L522.5,357.4 L522.9,357.8 L523.3,358.0 L523.7,357.9 L524.1,358.1 L524.4,358.3 L524.8,358.2 L525.2,358.5 L525.6,358.7 L526.0,358.2 L526.4,358.7 L526.8,358.8 L527.2,358.7 L527.6,359.1 L528.0,359.1 L528.4,359.0 L528.7,359.1 L529.1,359.1 L529.5,359.0 L529.9,359.3 L530.3,359.2 L530.7,359.2 L531.1,359.5 L531.5,359.4 L531.9,359.6 L532.3,359.4 L532.7,359.5 L533.1,359.7 L533.4,359.9 L533.8,359.7 L534.2,359.9 L534.6,359.7 L535.0,359.9 L535.4,360.1 L535.8,359.8 L536.2,359.9 L536.6,360.2 L537.0,359.9 L537.4,360.2 L537.7,360.2 L538.1,360.2 L538.5,360.4 L538.9,360.4 L539.3,360.4 L539.7,360.2 L540.1,360.2 L540.5,360.5" fill="none" stroke="#f01fd0" stroke-width="2.0" stroke-linejoin="round" />
<rect x="361.7" y="272.4" width="19" height="9.5" fill="#fff" stroke="none" stroke-width="1" />
<text x="371.2" y="280.4" font-size="9.5" fill="#f01fd0" text-anchor="middle" font-weight="bold" font-family="'Liberation Sans', sans-serif" >20 s</text>
<rect x="409.7" y="280.5" width="19" height="9.5" fill="#fff" stroke="none" stroke-width="1" />
<text x="419.2" y="288.5" font-size="9.5" fill="#0b9a2a" text-anchor="middle" font-weight="bold" font-family="'Liberation Sans', sans-serif" >10 s</text>
<rect x="446.0" y="293.4" width="13" height="9.5" fill="#fff" stroke="none" stroke-width="1" />
<text x="452.5" y="301.4" font-size="9.5" fill="#1f4fff" text-anchor="middle" font-weight="bold" font-family="'Liberation Sans', sans-serif" >5 s</text>
<rect x="454.7" y="313.8" width="13" height="9.5" fill="#fff" stroke="none" stroke-width="1" />
<text x="461.2" y="321.8" font-size="9.5" fill="#ff7f1e" text-anchor="middle" font-weight="bold" font-family="'Liberation Sans', sans-serif" >3 s</text>
<rect x="468.3" y="328.8" width="13" height="9.5" fill="#fff" stroke="none" stroke-width="1" />
<text x="474.8" y="336.8" font-size="9.5" fill="#333" text-anchor="middle" font-weight="bold" font-family="'Liberation Sans', sans-serif" >1 s</text>
<line x1="482.20000000000005" y1="251.47500000000002" x2="482.20000000000005" y2="384" stroke="#999" stroke-width="0.9" stroke-dasharray="2.5,1.5"/>
<rect x="320.6" y="221.5" width="219.19999999999993" height="162.5" fill="none" stroke="#111" stroke-width="1.5" />
<line x1="320.3" y1="384" x2="320.3" y2="380.4" stroke="#111" stroke-width="1.2" />
<text x="320.3" y="398.2" font-size="11.5" fill="#111" text-anchor="middle" font-weight="normal" font-family="'Liberation Sans', sans-serif" stroke="#111" stroke-width="0.3">0</text>
<line x1="352.68" y1="384" x2="352.68" y2="380.4" stroke="#111" stroke-width="1.2" />
<text x="352.68" y="398.2" font-size="11.5" fill="#111" text-anchor="middle" font-weight="normal" font-family="'Liberation Sans', sans-serif" stroke="#111" stroke-width="0.3">5</text>
<line x1="385.06" y1="384" x2="385.06" y2="380.4" stroke="#111" stroke-width="1.2" />
<text x="385.06" y="398.2" font-size="11.5" fill="#111" text-anchor="middle" font-weight="normal" font-family="'Liberation Sans', sans-serif" stroke="#111" stroke-width="0.3">10</text>
<line x1="417.44" y1="384" x2="417.44" y2="380.4" stroke="#111" stroke-width="1.2" />
<text x="417.44" y="398.2" font-size="11.5" fill="#111" text-anchor="middle" font-weight="normal" font-family="'Liberation Sans', sans-serif" stroke="#111" stroke-width="0.3">15</text>
<line x1="449.82000000000005" y1="384" x2="449.82000000000005" y2="380.4" stroke="#111" stroke-width="1.2" />
<text x="449.82000000000005" y="398.2" font-size="11.5" fill="#111" text-anchor="middle" font-weight="normal" font-family="'Liberation Sans', sans-serif" stroke="#111" stroke-width="0.3">20</text>
<line x1="482.20000000000005" y1="384" x2="482.20000000000005" y2="380.4" stroke="#111" stroke-width="1.2" />
<text x="482.20000000000005" y="398.2" font-size="11.5" fill="#111" text-anchor="middle" font-weight="normal" font-family="'Liberation Sans', sans-serif" stroke="#111" stroke-width="0.3">25</text>
<line x1="514.58" y1="384" x2="514.58" y2="380.4" stroke="#111" stroke-width="1.2" />
<text x="514.58" y="398.2" font-size="11.5" fill="#111" text-anchor="middle" font-weight="normal" font-family="'Liberation Sans', sans-serif" stroke="#111" stroke-width="0.3">30</text>
<line x1="320.6" y1="374.3" x2="324.20000000000005" y2="374.3" stroke="#111" stroke-width="1.2" />
<text x="314.5" y="378.3" font-size="11.5" fill="#111" text-anchor="end" font-weight="normal" font-family="'Liberation Sans', sans-serif" stroke="#111" stroke-width="0.3">4</text>
<line x1="320.6" y1="325.17" x2="324.20000000000005" y2="325.17" stroke="#111" stroke-width="1.2" />
<text x="314.5" y="329.17" font-size="11.5" fill="#111" text-anchor="end" font-weight="normal" font-family="'Liberation Sans', sans-serif" stroke="#111" stroke-width="0.3">5</text>
<line x1="320.6" y1="276.04" x2="324.20000000000005" y2="276.04" stroke="#111" stroke-width="1.2" />
<text x="314.5" y="280.04" font-size="11.5" fill="#111" text-anchor="end" font-weight="normal" font-family="'Liberation Sans', sans-serif" stroke="#111" stroke-width="0.3">6</text>
<line x1="320.6" y1="226.91" x2="324.20000000000005" y2="226.91" stroke="#111" stroke-width="1.2" />
<text x="314.5" y="230.91" font-size="11.5" fill="#111" text-anchor="end" font-weight="normal" font-family="'Liberation Sans', sans-serif" stroke="#111" stroke-width="0.3">7</text>
<line x1="320.6" y1="349.735" x2="322.20000000000005" y2="349.735" stroke="#111" stroke-width="0.8" />
<line x1="320.6" y1="300.605" x2="322.20000000000005" y2="300.605" stroke="#111" stroke-width="0.8" />
<line x1="320.6" y1="251.47500000000002" x2="322.20000000000005" y2="251.47500000000002" stroke="#111" stroke-width="0.8" />
<text x="0" y="0" font-size="12" fill="#111" text-anchor="middle" font-weight="normal" font-family="'Liberation Sans', sans-serif" stroke="#111" stroke-width="0.25" transform="translate(302.3,300.605) rotate(-90)">PSC (µA)</text>
<text x="428.392" y="410" font-size="12" fill="#111" text-anchor="middle" font-weight="normal" font-family="'Liberation Sans', sans-serif" stroke="#111" stroke-width="0.25">Time (s)</text>
<text x="283.7" y="228.3" font-size="14.6" fill="#222" text-anchor="start" font-weight="normal" font-family="'Liberation Serif', serif" letter-spacing="0.8">(e)</text>
<text x="332" y="239.5" font-size="10" fill="#111" text-anchor="start" font-weight="normal" font-family="'Liberation Sans', sans-serif" >Light pulse: 808 nm, 10 mW/cm<tspan font-size="6.3" dy="-3.8">2</tspan></text>
<text x="503" y="254.5" font-size="8" fill="#ff2020" text-anchor="start" font-weight="bold" font-family="'Liberation Sans', sans-serif" >Light off</text>
<line x1="483.20000000000005" y1="251.5" x2="499" y2="251.5" stroke="#ff2020" stroke-width="0.9" />
<path d="M496,249.5 L501,251.5 L496,253.5 Z" fill="#ff2020"/>
<text x="491" y="332.3" font-size="8.7" fill="#f01fd0" text-anchor="start" font-weight="bold" font-family="'Liberation Sans', sans-serif" >STM to LTM</text>
<line x1="492.7" y1="368" x2="502.5" y2="334" stroke="#f01fd0" stroke-width="1.1" />
<text x="328" y="352.5" font-size="8" fill="#ff2020" text-anchor="start" font-weight="bold" font-family="'Liberation Sans', sans-serif" >Light on</text>
<line x1="353" y1="356" x2="359.5" y2="364.5" stroke="#ff2020" stroke-width="0.8" />
<path d="M357.2,364.5 L360.5,366 L360,362.2 Z" fill="#ff2020"/>
<line x1="55.2" y1="448.24000000000007" x2="182.32" y2="448.24000000000007" stroke="#333" stroke-width="0.9" stroke-dasharray="1.5,1.5"/>
<line x1="55.2" y1="459.80000000000007" x2="177.78" y2="459.80000000000007" stroke="#a020f0" stroke-width="1.0" stroke-dasharray="1.5,1.5"/>
<line x1="136.012" y1="546.84" x2="136.012" y2="581" stroke="#e0a040" stroke-width="0.9" stroke-dasharray="1.5,1.5"/>
<line x1="174.148" y1="546.84" x2="174.148" y2="581" stroke="#e0a040" stroke-width="0.9" stroke-dasharray="1.5,1.5"/>
<line x1="137.012" y1="559.4" x2="173.148" y2="559.4" stroke="#e0a040" stroke-width="0.9" />
<path d="M140.012,557.6 L136.012,559.4 L140.012,561.2 M170.148,557.6 L174.148,559.4 L170.148,561.2" fill="none" stroke="#e0a040" stroke-width="0.9"/>
<text x="155.07999999999998" y="569.5" font-size="7.7" fill="#e0a040" text-anchor="middle" font-weight="normal" font-family="'Liberation Sans', sans-serif" >Pulse interval</text>
<path d="M55.2,561.1 L56.1,561.8 L57.0,561.6 L58.0,561.4 L58.9,561.7 L59.8,560.8 L60.7,561.7 L61.6,562.3 L62.6,561.3 L63.5,562.0 L64.4,561.9 L65.3,563.0 L66.2,561.4 L67.2,561.5 L68.1,561.5 L69.0,561.4 L69.9,561.1 L70.8,561.8 L71.8,561.4 L72.7,562.1 L73.6,561.9 L74.5,561.4 L75.4,561.6 L76.4,562.3 L77.3,561.7 L78.2,561.9 L79.1,562.1 L80.0,561.6 L80.9,562.0 L81.9,562.4 L82.8,562.3 L83.7,561.1 L84.6,562.4 L85.5,561.7 L86.5,561.6 L87.4,561.5 L88.3,562.3 L89.2,561.9 L90.1,561.7 L91.1,561.5 L91.1,562.1 L91.4,542.8 L91.8,527.7 L92.2,517.1 L92.6,509.6 L93.0,504.1 L93.3,499.2 L93.7,495.8 L94.1,492.8 L94.5,491.4 L94.8,489.0 L95.2,487.6 L95.6,486.7 L96.0,484.9 L96.4,483.9 L96.7,483.1 L97.1,481.9 L97.5,481.8 L97.9,480.5 L98.2,479.5 L98.6,478.8 L99.0,477.8 L99.4,478.1 L99.8,477.5 L100.1,476.2 L100.5,475.5 L100.9,474.2 L101.3,474.3 L101.6,474.3 L102.0,473.1 L102.4,473.2 L102.8,473.0 L103.2,470.8 L103.5,471.2 L103.9,470.6 L104.3,470.2 L104.7,469.3 L105.0,469.5 L105.4,468.6 L105.8,469.2 L106.2,468.9 L106.6,467.4 L106.9,467.0 L107.3,467.0 L107.7,466.8 L108.1,466.4 L108.4,466.4 L108.8,465.2 L109.2,465.2 L109.6,465.0 L110.0,464.7 L110.3,464.2 L110.7,464.1 L111.1,463.7 L111.5,464.2 L111.8,463.3 L112.2,462.4 L112.6,463.2 L113.0,462.8 L113.4,462.2 L113.7,461.9 L114.1,461.8 L114.5,462.5 L114.9,461.4 L115.2,461.9 L115.6,461.6 L116.0,460.8 L116.4,461.0 L116.7,460.3 L117.1,459.2 L117.5,460.0 L117.9,459.8 L118.3,460.3 L118.6,460.1 L119.0,460.1 L119.4,459.7 L119.8,459.8 L120.1,459.5 L120.5,459.2 L120.9,459.4 L121.3,459.4 L121.7,459.2 L122.0,458.4 L122.4,458.4 L122.8,457.9 L123.2,457.8 L123.5,458.2 L123.9,457.7 L124.3,458.5 L124.7,456.8 L125.1,457.2 L125.4,457.7 L125.8,458.0 L126.2,457.2 L126.6,458.1 L126.9,457.5 L127.3,456.8 L127.7,457.0 L128.1,457.2 L128.5,456.5 L128.8,457.2 L129.2,456.6 L129.6,456.9 L130.0,457.0 L130.3,456.4 L130.7,456.9 L131.1,455.6 L131.5,456.6 L131.9,455.5 L132.2,456.7 L132.6,455.9 L133.0,456.6 L133.4,456.6 L133.7,455.9 L134.1,455.7 L134.5,456.4 L134.9,455.4 L135.3,456.1 L135.6,455.7 L136.0,455.6 L136.0,455.5 L136.1,459.2 L136.1,460.7 L136.2,463.7 L136.3,466.4 L136.3,469.0 L136.4,471.4 L136.4,473.4 L136.5,474.8 L136.6,477.0 L136.6,479.1 L136.7,480.6 L136.8,481.6 L136.8,483.8 L136.9,485.4 L136.9,486.2 L137.0,487.8 L137.1,489.3 L137.1,490.7 L137.2,492.3 L137.2,493.3 L137.3,494.1 L137.4,495.1 L137.4,495.9 L137.5,496.8 L137.6,497.8 L137.6,498.7 L137.7,499.9 L137.7,501.1 L137.8,501.3 L137.9,502.2 L137.9,502.8 L138.0,503.4 L138.0,504.4 L138.1,505.0 L138.2,505.2 L138.2,505.7 L138.3,506.6 L138.4,506.7 L138.4,507.5 L138.5,508.2 L138.5,508.4 L138.6,508.2 L138.7,509.5 L138.7,509.4 L138.8,509.7 L138.8,510.1 L138.9,511.3 L139.0,510.7 L139.0,511.7 L139.1,512.2 L139.2,512.5 L139.2,512.6 L139.3,513.1 L139.3,513.5 L139.4,513.3 L139.5,514.3 L139.5,514.7 L139.6,514.4 L139.6,514.7 L139.6,514.3 L140.1,500.1 L140.6,489.0 L141.0,482.0 L141.5,476.5 L141.9,473.8 L142.4,470.6 L142.8,468.7 L143.3,467.5 L143.7,465.9 L144.2,464.2 L144.6,463.8 L145.1,463.0 L145.5,461.8 L146.0,461.0 L146.5,460.4 L146.9,460.4 L147.4,459.6 L147.8,458.7 L148.3,458.8 L148.7,458.3 L149.2,457.3 L149.6,456.6 L150.1,457.1 L150.5,457.2 L151.0,456.4 L151.4,455.9 L151.9,455.3 L152.4,454.6 L152.8,454.6 L153.3,454.4 L153.7,453.8 L154.2,453.9 L154.6,453.3 L155.1,453.3 L155.5,451.9 L156.0,452.3 L156.4,452.6 L156.9,452.4 L157.4,452.0 L157.8,452.2 L158.3,451.7 L158.7,451.5 L159.2,450.7 L159.6,451.0 L160.1,450.9 L160.5,451.0 L161.0,450.7 L161.4,450.2 L161.9,450.1 L162.3,449.5 L162.8,450.0 L163.3,449.3 L163.7,449.4 L164.2,449.4 L164.6,449.9 L165.1,449.6 L165.5,448.8 L166.0,448.5 L166.4,448.8 L166.9,448.5 L167.3,448.8 L167.8,448.7 L168.2,448.7 L168.7,448.1 L169.2,448.2 L169.6,448.3 L170.1,448.3 L170.5,447.9 L171.0,447.9 L171.4,448.2 L171.9,447.3 L172.3,447.8 L172.8,447.8 L173.2,447.2 L173.7,447.3 L174.1,447.7 L174.6,447.4 L175.1,447.9 L175.5,447.7 L176.0,448.2 L176.4,447.0 L176.9,448.0 L177.3,447.1 L177.8,447.6 L178.2,447.6 L178.7,447.3 L179.1,447.1 L179.6,446.9 L180.1,446.5 L180.5,447.0 L181.0,446.8 L181.4,447.2 L181.9,446.8 L182.3,446.9 L182.8,447.1 L183.2,447.0 L183.7,446.9 L184.1,446.8 L184.6,446.7 L184.6,447.1 L185.4,476.9 L186.1,495.3 L186.9,508.7 L187.7,516.5 L188.5,521.4 L189.3,527.3 L190.0,529.6 L190.8,531.5 L191.6,534.6 L192.4,534.6 L193.2,538.3 L193.9,538.1 L194.7,539.4 L195.5,540.9 L196.3,542.5 L197.0,543.4 L197.8,545.0 L198.6,545.3 L199.4,547.0 L200.2,547.5 L200.9,547.9 L201.7,549.5 L202.5,550.0 L203.3,550.5 L204.0,551.8 L204.8,551.5 L205.6,552.4 L206.4,553.8 L207.2,553.8 L207.9,554.6 L208.7,555.1 L209.5,555.3 L210.3,556.1 L211.1,555.9 L211.8,557.0 L212.6,556.7 L213.4,557.5 L214.2,557.5 L214.9,558.4 L215.7,558.7 L216.5,559.3 L217.3,558.9 L218.1,559.1 L218.8,558.9 L219.6,559.5 L220.4,560.1 L221.2,560.6 L221.9,560.5 L222.7,560.9 L223.5,560.5 L224.3,560.9 L225.1,561.8 L225.8,562.0 L226.6,561.3 L227.4,561.9 L228.2,562.2 L229.0,561.8 L229.7,562.6 L230.5,562.7 L231.3,562.9 L232.1,563.6 L232.8,562.6 L233.6,563.5 L234.4,563.4 L235.2,563.5 L236.0,563.0 L236.7,563.5 L237.5,563.5 L238.3,564.3 L239.1,563.7 L239.8,564.3 L240.6,563.7 L241.4,563.7 L242.2,563.9 L243.0,563.2 L243.7,563.8 L244.5,563.9 L245.3,564.1 L246.1,564.3 L246.9,563.9 L247.6,563.9 L248.4,564.9 L249.2,564.0 L250.0,564.2 L250.7,564.1 L251.5,564.3 L252.3,565.0 L253.1,565.0 L253.9,563.9 L254.6,564.5 L255.4,565.2 L256.2,564.5 L257.0,564.9 L257.7,565.5 L258.5,565.7 L259.3,565.4 L260.1,564.7 L260.9,564.8 L261.6,564.9 L262.4,564.7 L263.2,564.6 L264.0,565.7 L264.8,565.0 L265.5,565.2 L266.3,565.4 L267.1,565.2 L267.9,565.0 L268.6,565.1 L269.4,565.6 L270.2,565.2 L271.0,564.2 L271.8,565.4 L272.5,565.7 L273.3,564.9 L274.1,564.8 L274.9,564.8 L275.6,565.5 L276.4,564.6 L277.2,565.4" fill="none" stroke="#555555" stroke-width="2.0" stroke-linejoin="round" />
<path d="M55.2,562.3 L56.1,562.0 L57.0,561.8 L58.0,561.5 L58.9,561.5 L59.8,561.8 L60.7,561.4 L61.6,561.8 L62.6,561.4 L63.5,562.4 L64.4,562.4 L65.3,561.5 L66.2,562.4 L67.2,561.9 L68.1,561.8 L69.0,562.0 L69.9,562.0 L70.8,561.2 L71.8,562.8 L72.7,561.4 L73.6,560.9 L74.5,561.8 L75.4,561.8 L76.4,561.5 L77.3,561.1 L78.2,562.3 L79.1,561.8 L80.0,561.9 L80.9,561.6 L81.9,561.7 L82.8,561.5 L83.7,562.0 L84.6,561.8 L85.5,562.1 L86.5,562.1 L87.4,561.9 L88.3,561.9 L89.2,562.3 L90.1,561.2 L91.1,561.9 L91.1,562.4 L91.4,542.0 L91.8,528.6 L92.2,517.6 L92.6,510.1 L93.0,504.1 L93.3,499.7 L93.7,496.5 L94.1,493.6 L94.5,490.5 L94.8,490.5 L95.2,488.0 L95.6,486.5 L96.0,485.9 L96.4,485.0 L96.7,482.6 L97.1,482.7 L97.5,480.9 L97.9,480.7 L98.2,480.2 L98.6,479.3 L99.0,478.5 L99.4,477.6 L99.8,477.3 L100.1,476.8 L100.5,476.2 L100.9,475.1 L101.3,474.7 L101.6,474.9 L102.0,474.2 L102.4,473.3 L102.8,473.2 L103.2,472.6 L103.5,472.3 L103.9,471.6 L104.3,470.9 L104.7,470.2 L105.0,470.2 L105.4,468.9 L105.8,469.4 L106.2,467.6 L106.6,468.1 L106.9,468.0 L107.3,468.0 L107.7,468.6 L108.1,467.2 L108.4,466.7 L108.8,465.7 L109.2,466.7 L109.6,465.0 L110.0,465.6 L110.3,464.9 L110.7,466.0 L111.1,464.6 L111.5,464.5 L111.8,463.9 L112.2,463.8 L112.6,464.1 L113.0,463.0 L113.4,462.9 L113.7,462.7 L114.1,462.3 L114.5,462.0 L114.9,462.3 L115.2,462.6 L115.6,462.4 L116.0,461.1 L116.4,461.2 L116.7,461.3 L117.1,461.3 L117.5,461.0 L117.9,460.8 L118.3,460.8 L118.6,460.8 L119.0,459.4 L119.4,460.1 L119.8,460.3 L120.1,460.4 L120.5,460.0 L120.9,459.3 L121.3,459.2 L121.7,459.4 L122.0,459.2 L122.4,459.2 L122.8,459.4 L123.2,458.3 L123.5,458.6 L123.9,457.6 L124.3,458.9 L124.7,458.5 L125.1,458.0 L125.4,458.4 L125.8,458.7 L126.2,458.5 L126.6,457.9 L126.9,457.8 L127.3,457.8 L127.7,457.3 L128.1,457.2 L128.5,457.4 L128.8,457.5 L129.2,457.5 L129.6,457.1 L130.0,456.9 L130.3,457.2 L130.7,457.0 L131.1,457.2 L131.5,457.6 L131.9,457.4 L132.2,456.6 L132.6,456.7 L133.0,456.1 L133.4,456.7 L133.7,456.3 L134.1,456.1 L134.5,456.2 L134.9,456.8 L135.3,456.6 L135.6,456.4 L136.0,456.8 L136.0,456.2 L136.2,464.1 L136.4,471.6 L136.6,476.7 L136.8,482.7 L136.9,487.1 L137.1,491.1 L137.3,494.6 L137.5,497.2 L137.7,500.0 L137.9,501.7 L138.0,504.1 L138.2,505.9 L138.4,507.8 L138.6,509.7 L138.8,510.5 L139.0,512.0 L139.2,512.4 L139.3,513.8 L139.5,514.1 L139.7,515.3 L139.9,516.0 L140.1,517.0 L140.3,517.7 L140.4,518.2 L140.6,518.7 L140.8,519.9 L141.0,520.0 L141.2,519.9 L141.4,521.3 L141.6,521.9 L141.7,522.5 L141.9,523.3 L142.1,522.9 L142.3,523.7 L142.5,524.1 L142.7,524.0 L142.8,524.2 L143.0,525.8 L143.2,525.5 L143.4,526.1 L143.6,526.5 L143.8,526.9 L144.0,527.4 L144.1,527.3 L144.3,528.0 L144.5,528.4 L144.7,528.5 L144.9,529.0 L145.1,529.5 L145.2,529.8 L145.4,529.7 L145.6,530.5 L145.8,531.0 L146.0,531.6 L146.2,531.7 L146.4,532.3 L146.5,532.2 L146.7,532.5 L146.9,533.5 L146.9,533.5 L147.4,515.1 L147.8,502.7 L148.3,494.3 L148.7,487.3 L149.2,483.5 L149.6,480.3 L150.1,477.8 L150.5,475.4 L151.0,473.5 L151.4,472.1 L151.9,471.3 L152.4,470.7 L152.8,469.7 L153.3,468.9 L153.7,467.9 L154.2,467.7 L154.6,466.4 L155.1,465.6 L155.5,465.2 L156.0,464.4 L156.4,464.3 L156.9,464.0 L157.4,463.2 L157.8,462.1 L158.3,461.6 L158.7,461.7 L159.2,460.7 L159.6,460.8 L160.1,459.8 L160.5,459.7 L161.0,459.7 L161.4,458.9 L161.9,459.1 L162.3,458.8 L162.8,458.6 L163.3,457.8 L163.7,457.6 L164.2,457.3 L164.6,457.1 L165.1,456.3 L165.5,456.6 L166.0,456.5 L166.4,455.6 L166.9,455.3 L167.3,455.5 L167.8,456.0 L168.2,455.4 L168.7,454.8 L169.2,454.8 L169.6,454.1 L170.1,454.9 L170.5,454.1 L171.0,454.4 L171.4,453.6 L171.9,453.9 L172.3,453.4 L172.8,453.8 L173.2,453.9 L173.7,453.7 L174.1,453.4 L174.6,453.5 L175.1,452.6 L175.5,452.4 L176.0,452.7 L176.4,453.1 L176.9,452.7 L177.3,452.8 L177.8,451.9 L178.2,452.3 L178.7,452.1 L179.1,452.3 L179.6,452.8 L180.1,452.3 L180.5,452.4 L181.0,451.8 L181.4,451.8 L181.9,452.1 L182.3,451.9 L182.8,451.2 L183.2,452.0 L183.7,451.9 L184.1,451.6 L184.6,451.7 L185.0,451.6 L185.5,451.2 L186.0,450.8 L186.4,451.9 L186.9,451.3 L187.3,451.2 L187.8,451.2 L188.2,451.3 L188.7,451.3 L189.1,450.8 L189.6,451.3 L190.0,451.1 L190.5,451.0 L190.9,451.0 L191.4,451.0 L191.9,450.6 L191.9,451.0 L192.6,476.7 L193.3,493.8 L194.0,505.6 L194.7,513.4 L195.4,519.0 L196.2,522.6 L196.9,526.0 L197.6,528.6 L198.3,530.0 L199.0,531.6 L199.7,534.0 L200.5,534.0 L201.2,535.9 L201.9,537.1 L202.6,537.7 L203.3,539.1 L204.0,540.3 L204.8,540.1 L205.5,542.3 L206.2,542.7 L206.9,543.1 L207.6,544.7 L208.4,545.0 L209.1,545.5 L209.8,545.3 L210.5,547.3 L211.2,547.5 L211.9,547.8 L212.7,548.6 L213.4,549.6 L214.1,549.5 L214.8,550.1 L215.5,550.4 L216.2,550.5 L217.0,551.0 L217.7,551.7 L218.4,552.1 L219.1,553.0 L219.8,553.0 L220.5,553.2 L221.3,553.7 L222.0,553.8 L222.7,554.5 L223.4,553.8 L224.1,553.8 L224.8,555.1 L225.6,555.0 L226.3,555.5 L227.0,555.1 L227.7,555.7 L228.4,556.0 L229.2,556.3 L229.9,556.4 L230.6,557.0 L231.3,556.5 L232.0,557.2 L232.7,556.9 L233.5,557.2 L234.2,556.9 L234.9,557.5 L235.6,557.2 L236.3,558.1 L237.0,557.6 L237.8,558.1 L238.5,558.0 L239.2,558.2 L239.9,557.9 L240.6,559.2 L241.3,558.4 L242.1,559.2 L242.8,558.2 L243.5,559.5 L244.2,559.2 L244.9,559.6 L245.6,558.3 L246.4,559.5 L247.1,559.0 L247.8,559.4 L248.5,559.9 L249.2,559.4 L250.0,559.0 L250.7,559.4 L251.4,559.0 L252.1,559.6 L252.8,559.5 L253.5,559.7 L254.3,559.4 L255.0,558.8 L255.7,559.5 L256.4,559.6 L257.1,560.0 L257.8,560.1 L258.6,559.2 L259.3,560.3 L260.0,560.2 L260.7,559.9 L261.4,560.1 L262.1,559.1 L262.9,560.9 L263.6,559.8 L264.3,559.7 L265.0,560.5 L265.7,560.3 L266.4,559.9 L267.2,559.4 L267.9,560.4 L268.6,560.7 L269.3,559.7 L270.0,559.5 L270.8,560.3 L271.5,561.1 L272.2,559.6 L272.9,560.3 L273.6,559.7 L274.3,560.2 L275.1,560.4 L275.8,560.4 L276.5,559.6 L277.2,559.7" fill="none" stroke="#ff7f1e" stroke-width="2.0" stroke-linejoin="round" />
<path d="M55.2,562.7 L56.1,562.2 L57.0,561.1 L58.0,561.9 L58.9,562.4 L59.8,561.8 L60.7,561.8 L61.6,561.8 L62.6,562.0 L63.5,561.9 L64.4,562.0 L65.3,561.7 L66.2,562.1 L67.2,561.9 L68.1,561.9 L69.0,561.3 L69.9,561.6 L70.8,561.8 L71.8,561.6 L72.7,561.6 L73.6,561.4 L74.5,561.6 L75.4,561.1 L76.4,561.3 L77.3,561.8 L78.2,562.0 L79.1,561.4 L80.0,561.6 L80.9,561.8 L81.9,562.4 L82.8,562.5 L83.7,561.7 L84.6,561.5 L85.5,561.5 L86.5,562.3 L87.4,561.4 L88.3,562.0 L89.2,561.6 L90.1,561.6 L91.1,562.1 L91.1,562.0 L91.4,544.1 L91.8,530.0 L92.2,520.3 L92.6,511.9 L93.0,506.4 L93.3,501.8 L93.7,498.7 L94.1,496.5 L94.5,494.0 L94.8,492.5 L95.2,490.6 L95.6,489.5 L96.0,488.9 L96.4,487.4 L96.7,486.5 L97.1,485.8 L97.5,484.5 L97.9,483.4 L98.2,483.5 L98.6,482.8 L99.0,482.9 L99.4,481.4 L99.8,480.9 L100.1,481.0 L100.5,479.4 L100.9,478.7 L101.3,478.7 L101.6,478.0 L102.0,477.8 L102.4,476.6 L102.8,477.0 L103.2,476.0 L103.5,474.6 L103.9,475.0 L104.3,474.4 L104.7,474.2 L105.0,474.2 L105.4,473.3 L105.8,472.7 L106.2,472.9 L106.6,472.0 L106.9,471.3 L107.3,471.0 L107.7,471.8 L108.1,471.2 L108.4,471.1 L108.8,469.7 L109.2,469.6 L109.6,469.2 L110.0,469.6 L110.3,469.4 L110.7,468.7 L111.1,468.4 L111.5,468.5 L111.8,467.9 L112.2,467.4 L112.6,467.3 L113.0,467.6 L113.4,467.8 L113.7,466.9 L114.1,466.5 L114.5,466.4 L114.9,466.3 L115.2,466.2 L115.6,465.5 L116.0,465.6 L116.4,465.3 L116.7,465.6 L117.1,465.3 L117.5,464.8 L117.9,465.1 L118.3,465.1 L118.6,464.5 L119.0,463.8 L119.4,464.0 L119.8,463.4 L120.1,463.9 L120.5,463.8 L120.9,464.1 L121.3,463.7 L121.7,462.7 L122.0,463.1 L122.4,462.8 L122.8,462.7 L123.2,462.9 L123.5,462.8 L123.9,462.6 L124.3,462.3 L124.7,462.3 L125.1,462.2 L125.4,462.2 L125.8,462.5 L126.2,462.2 L126.6,462.4 L126.9,461.5 L127.3,462.7 L127.7,461.8 L128.1,460.7 L128.5,461.7 L128.8,462.0 L129.2,461.5 L129.6,460.9 L130.0,461.4 L130.3,461.0 L130.7,461.2 L131.1,461.3 L131.5,459.8 L131.9,461.0 L132.2,461.2 L132.6,461.1 L133.0,460.7 L133.4,460.6 L133.7,460.4 L134.1,460.6 L134.5,461.2 L134.9,460.4 L135.3,460.7 L135.6,460.6 L136.0,461.1 L136.0,460.7 L136.4,474.1 L136.7,484.0 L137.0,492.3 L137.4,497.9 L137.7,502.6 L138.0,506.8 L138.4,509.6 L138.7,512.2 L139.1,513.7 L139.4,516.6 L139.7,517.4 L140.1,519.2 L140.4,520.0 L140.8,520.6 L141.1,522.1 L141.4,522.8 L141.8,524.0 L142.1,523.9 L142.4,525.1 L142.8,525.7 L143.1,527.3 L143.5,528.0 L143.8,527.9 L144.1,529.0 L144.5,529.7 L144.8,530.1 L145.2,531.3 L145.5,531.2 L145.8,532.0 L146.2,532.4 L146.5,533.4 L146.8,533.5 L147.2,534.4 L147.5,534.4 L147.9,534.8 L148.2,535.4 L148.5,536.0 L148.9,536.4 L149.2,538.0 L149.6,537.2 L149.9,538.0 L150.2,538.3 L150.6,538.9 L150.9,539.6 L151.2,539.7 L151.6,539.7 L151.9,539.8 L152.3,540.9 L152.6,541.3 L152.9,540.9 L153.3,542.0 L153.6,541.3 L154.0,542.3 L154.3,543.0 L154.6,542.6 L155.0,542.7 L155.3,544.0 L155.6,543.3 L156.0,544.2 L156.0,543.7 L156.4,524.5 L156.9,511.2 L157.4,500.9 L157.8,494.0 L158.3,488.7 L158.7,485.3 L159.2,482.9 L159.6,481.0 L160.1,479.4 L160.5,477.9 L161.0,476.8 L161.4,475.5 L161.9,475.3 L162.3,473.5 L162.8,472.7 L163.3,471.1 L163.7,470.9 L164.2,470.6 L164.6,469.6 L165.1,469.6 L165.5,468.8 L166.0,468.6 L166.4,466.9 L166.9,466.7 L167.3,466.8 L167.8,465.9 L168.2,465.1 L168.7,464.8 L169.2,464.4 L169.6,464.4 L170.1,463.9 L170.5,463.2 L171.0,462.6 L171.4,462.8 L171.9,462.6 L172.3,461.5 L172.8,461.8 L173.2,460.9 L173.7,460.8 L174.1,460.3 L174.6,459.8 L175.1,459.9 L175.5,459.6 L176.0,459.9 L176.4,459.6 L176.9,458.9 L177.3,458.4 L177.8,458.3 L178.2,457.8 L178.7,458.3 L179.1,458.1 L179.6,457.7 L180.1,457.8 L180.5,457.7 L181.0,457.9 L181.4,457.0 L181.9,457.6 L182.3,456.9 L182.8,457.4 L183.2,456.5 L183.7,457.1 L184.1,456.3 L184.6,457.0 L185.0,456.5 L185.5,455.9 L186.0,456.4 L186.4,456.0 L186.9,456.1 L187.3,456.7 L187.8,455.7 L188.2,455.6 L188.7,456.0 L189.1,455.4 L189.6,455.8 L190.0,455.8 L190.5,455.3 L190.9,455.5 L191.4,454.4 L191.9,455.7 L192.3,454.9 L192.8,454.7 L193.2,455.7 L193.7,455.5 L194.1,454.7 L194.6,455.0 L195.0,454.7 L195.5,454.4 L195.9,454.8 L196.4,455.0 L196.8,455.6 L197.3,454.5 L197.8,454.9 L198.2,454.4 L198.7,454.4 L199.1,454.9 L199.6,453.9 L200.0,454.0 L200.5,454.1 L200.9,454.8 L200.9,454.5 L201.6,476.9 L202.2,492.3 L202.9,503.4 L203.5,510.4 L204.1,516.0 L204.8,520.0 L205.4,523.5 L206.1,525.3 L206.7,527.7 L207.3,530.6 L208.0,531.2 L208.6,532.3 L209.3,533.0 L209.9,534.6 L210.5,535.6 L211.2,536.7 L211.8,537.1 L212.5,538.4 L213.1,539.3 L213.8,540.1 L214.4,540.3 L215.0,541.5 L215.7,542.6 L216.3,542.3 L217.0,543.5 L217.6,543.7 L218.2,544.2 L218.9,544.5 L219.5,545.1 L220.2,546.2 L220.8,546.5 L221.4,547.5 L222.1,546.7 L222.7,547.7 L223.4,547.7 L224.0,548.8 L224.6,549.9 L225.3,548.8 L225.9,549.7 L226.6,550.1 L227.2,550.4 L227.9,550.5 L228.5,550.8 L229.1,552.0 L229.8,551.2 L230.4,552.1 L231.1,552.3 L231.7,551.7 L232.3,552.3 L233.0,553.0 L233.6,553.8 L234.3,553.2 L234.9,553.3 L235.5,553.7 L236.2,554.4 L236.8,554.4 L237.5,554.7 L238.1,554.3 L238.7,554.2 L239.4,554.3 L240.0,555.1 L240.7,554.9 L241.3,554.9 L242.0,555.5 L242.6,555.4 L243.2,554.6 L243.9,555.5 L244.5,555.4 L245.2,556.0 L245.8,555.9 L246.4,556.7 L247.1,556.1 L247.7,555.7 L248.4,555.4 L249.0,555.9 L249.6,556.2 L250.3,556.5 L250.9,556.9 L251.6,556.7 L252.2,556.5 L252.9,557.1 L253.5,556.5 L254.1,557.3 L254.8,557.7 L255.4,557.5 L256.1,557.8 L256.7,557.7 L257.3,556.7 L258.0,557.3 L258.6,557.2 L259.3,556.9 L259.9,556.9 L260.5,557.6 L261.2,556.9 L261.8,557.3 L262.5,557.5 L263.1,557.4 L263.7,558.2 L264.4,558.0 L265.0,557.7 L265.7,557.4 L266.3,557.9 L267.0,557.8 L267.6,557.4 L268.2,557.2 L268.9,557.5 L269.5,557.3 L270.2,558.0 L270.8,558.0 L271.4,557.8 L272.1,558.0 L272.7,558.2 L273.4,557.3 L274.0,558.1 L274.6,558.4 L275.3,557.8 L275.9,557.3 L276.6,558.0 L277.2,557.6" fill="none" stroke="#1f4fe0" stroke-width="1.6" stroke-linejoin="round" />
<path d="M55.2,562.0 L56.1,562.0 L57.0,562.1 L58.0,561.9 L58.9,561.1 L59.8,562.3 L60.7,561.1 L61.6,562.2 L62.6,561.9 L63.5,561.5 L64.4,561.5 L65.3,561.7 L66.2,562.5 L67.2,561.7 L68.1,562.2 L69.0,560.8 L69.9,561.9 L70.8,561.7 L71.8,562.3 L72.7,562.0 L73.6,562.3 L74.5,561.4 L75.4,561.9 L76.4,561.6 L77.3,562.1 L78.2,562.0 L79.1,561.3 L80.0,562.2 L80.9,562.5 L81.9,561.6 L82.8,562.3 L83.7,562.0 L84.6,561.4 L85.5,562.1 L86.5,561.4 L87.4,562.1 L88.3,561.2 L89.2,561.3 L90.1,562.0 L91.1,561.9 L91.1,562.1 L91.4,543.0 L91.8,528.9 L92.2,519.9 L92.6,511.4 L93.0,506.6 L93.3,502.1 L93.7,499.2 L94.1,494.9 L94.5,493.6 L94.8,491.8 L95.2,490.7 L95.6,488.7 L96.0,488.8 L96.4,486.9 L96.7,485.1 L97.1,485.3 L97.5,484.3 L97.9,483.3 L98.2,483.2 L98.6,482.1 L99.0,481.1 L99.4,480.7 L99.8,480.0 L100.1,479.7 L100.5,478.9 L100.9,478.4 L101.3,477.3 L101.6,477.0 L102.0,476.9 L102.4,477.3 L102.8,475.5 L103.2,475.0 L103.5,475.2 L103.9,475.2 L104.3,474.4 L104.7,473.2 L105.0,473.5 L105.4,472.9 L105.8,472.2 L106.2,471.4 L106.6,471.6 L106.9,471.2 L107.3,471.1 L107.7,469.8 L108.1,469.7 L108.4,469.9 L108.8,470.1 L109.2,469.5 L109.6,468.7 L110.0,468.9 L110.3,468.0 L110.7,467.9 L111.1,467.7 L111.5,467.3 L111.8,467.1 L112.2,467.4 L112.6,466.9 L113.0,465.6 L113.4,466.8 L113.7,466.3 L114.1,465.5 L114.5,465.8 L114.9,465.8 L115.2,465.8 L115.6,464.9 L116.0,464.5 L116.4,464.2 L116.7,464.5 L117.1,464.0 L117.5,464.6 L117.9,464.0 L118.3,464.2 L118.6,463.7 L119.0,463.3 L119.4,463.0 L119.8,463.7 L120.1,462.7 L120.5,463.2 L120.9,463.3 L121.3,462.8 L121.7,463.3 L122.0,462.5 L122.4,462.3 L122.8,462.4 L123.2,462.0 L123.5,462.2 L123.9,462.0 L124.3,462.5 L124.7,461.8 L125.1,462.0 L125.4,461.8 L125.8,461.5 L126.2,461.3 L126.6,462.0 L126.9,461.9 L127.3,461.3 L127.7,460.9 L128.1,460.9 L128.5,460.6 L128.8,460.3 L129.2,460.6 L129.6,460.7 L130.0,461.1 L130.3,461.0 L130.7,460.7 L131.1,460.4 L131.5,460.3 L131.9,460.3 L132.2,460.4 L132.6,460.0 L133.0,460.1 L133.4,460.0 L133.7,460.0 L134.1,460.3 L134.5,460.4 L134.9,459.7 L135.3,459.7 L135.6,459.9 L136.0,460.0 L136.0,459.0 L136.5,478.7 L137.0,491.1 L137.5,499.6 L138.0,506.1 L138.5,510.1 L139.0,512.8 L139.5,515.7 L140.0,517.9 L140.5,519.7 L141.0,521.4 L141.5,522.5 L142.0,524.2 L142.5,525.5 L143.0,526.4 L143.5,527.2 L144.0,528.4 L144.5,529.2 L145.0,531.1 L145.5,530.9 L146.0,531.4 L146.5,532.5 L147.0,533.9 L147.5,534.8 L148.0,535.2 L148.5,536.3 L149.0,536.4 L149.5,537.5 L150.0,537.6 L150.5,538.1 L151.0,539.9 L151.5,539.7 L152.0,540.5 L152.5,541.3 L153.0,541.6 L153.5,541.9 L154.0,542.0 L154.5,543.3 L155.0,542.9 L155.5,542.9 L156.0,543.8 L156.5,544.3 L157.0,544.8 L157.5,545.6 L158.0,545.4 L158.5,545.8 L159.0,546.0 L159.5,545.7 L160.0,546.6 L160.5,547.0 L161.0,546.9 L161.5,548.1 L162.0,548.3 L162.5,548.3 L163.0,548.7 L163.5,548.4 L164.0,549.0 L164.5,548.5 L165.0,548.8 L165.5,549.3 L165.5,549.4 L166.0,528.6 L166.4,514.3 L166.9,505.1 L167.3,497.6 L167.8,492.4 L168.2,488.9 L168.7,485.6 L169.2,483.5 L169.6,482.4 L170.1,480.6 L170.5,479.6 L171.0,478.0 L171.4,477.5 L171.9,475.9 L172.3,475.2 L172.8,474.2 L173.2,473.8 L173.7,473.6 L174.1,471.8 L174.6,471.8 L175.1,470.6 L175.5,470.3 L176.0,469.7 L176.4,468.7 L176.9,468.7 L177.3,467.8 L177.8,468.3 L178.2,467.0 L178.7,467.0 L179.1,466.5 L179.6,466.0 L180.1,465.5 L180.5,464.7 L181.0,465.5 L181.4,464.5 L181.9,464.4 L182.3,463.4 L182.8,463.6 L183.2,463.0 L183.7,463.0 L184.1,462.4 L184.6,462.0 L185.0,462.2 L185.5,461.8 L186.0,462.1 L186.4,461.3 L186.9,460.9 L187.3,461.1 L187.8,460.3 L188.2,461.2 L188.7,461.0 L189.1,460.6 L189.6,460.2 L190.0,459.8 L190.5,459.7 L190.9,459.5 L191.4,459.1 L191.9,459.4 L192.3,459.5 L192.8,459.4 L193.2,458.1 L193.7,459.5 L194.1,458.6 L194.6,458.0 L195.0,458.2 L195.5,458.5 L195.9,458.2 L196.4,457.8 L196.8,457.6 L197.3,458.2 L197.8,457.5 L198.2,457.6 L198.7,457.3 L199.1,457.1 L199.6,457.6 L200.0,457.9 L200.5,457.2 L200.9,456.7 L201.4,457.0 L201.8,457.1 L202.3,456.3 L202.8,457.4 L203.2,456.7 L203.7,457.2 L204.1,456.9 L204.6,456.8 L205.0,456.3 L205.5,457.1 L205.9,456.9 L206.4,457.2 L206.8,456.5 L207.3,456.8 L207.7,456.4 L208.2,456.9 L208.7,456.6 L209.1,456.1 L209.6,456.5 L210.0,456.2 L210.5,456.2 L210.5,456.5 L211.0,476.4 L211.6,489.3 L212.2,499.8 L212.7,507.0 L213.3,513.8 L213.8,517.9 L214.4,521.4 L215.0,523.5 L215.5,524.8 L216.1,526.8 L216.6,528.5 L217.2,529.8 L217.8,530.7 L218.3,532.2 L218.9,532.9 L219.4,533.9 L220.0,535.7 L220.6,535.8 L221.1,535.8 L221.7,537.3 L222.2,537.9 L222.8,538.7 L223.4,539.3 L223.9,539.3 L224.5,540.5 L225.0,541.4 L225.6,542.8 L226.2,542.3 L226.7,543.4 L227.3,543.8 L227.9,543.2 L228.4,543.7 L229.0,545.3 L229.5,544.6 L230.1,545.1 L230.7,546.1 L231.2,545.8 L231.8,547.2 L232.3,547.4 L232.9,547.8 L233.5,548.0 L234.0,547.5 L234.6,548.8 L235.1,549.0 L235.7,549.2 L236.3,549.0 L236.8,549.5 L237.4,549.3 L237.9,550.2 L238.5,550.7 L239.1,550.6 L239.6,550.6 L240.2,551.2 L240.8,550.9 L241.3,550.5 L241.9,551.7 L242.4,551.6 L243.0,551.3 L243.6,552.3 L244.1,552.5 L244.7,552.8 L245.2,552.4 L245.8,552.5 L246.4,552.9 L246.9,553.0 L247.5,552.6 L248.0,552.9 L248.6,554.0 L249.2,553.5 L249.7,553.6 L250.3,553.5 L250.8,554.0 L251.4,554.3 L252.0,554.3 L252.5,554.9 L253.1,554.3 L253.7,554.6 L254.2,554.3 L254.8,555.0 L255.3,554.8 L255.9,555.1 L256.5,555.3 L257.0,554.6 L257.6,555.2 L258.1,554.9 L258.7,555.6 L259.3,555.1 L259.8,555.9 L260.4,555.5 L260.9,555.6 L261.5,555.2 L262.1,555.4 L262.6,555.6 L263.2,555.3 L263.7,555.6 L264.3,555.5 L264.9,555.4 L265.4,555.8 L266.0,556.0 L266.6,555.7 L267.1,556.1 L267.7,555.8 L268.2,555.5 L268.8,555.7 L269.4,556.2 L269.9,556.6 L270.5,556.2 L271.0,556.2 L271.6,555.7 L272.2,556.4 L272.7,556.3 L273.3,556.0 L273.8,556.5 L274.4,556.4 L275.0,555.7 L275.5,555.8 L276.1,556.2 L276.6,556.3 L277.2,556.9" fill="none" stroke="#1a9a2a" stroke-width="1.6" stroke-linejoin="round" />
<path d="M55.2,561.6 L56.1,561.8 L57.0,561.7 L58.0,562.0 L58.9,561.8 L59.8,561.9 L60.7,561.7 L61.6,561.2 L62.6,561.7 L63.5,562.5 L64.4,562.2 L65.3,562.5 L66.2,562.1 L67.2,561.6 L68.1,561.7 L69.0,562.1 L69.9,561.7 L70.8,562.1 L71.8,562.4 L72.7,562.4 L73.6,562.2 L74.5,561.2 L75.4,562.4 L76.4,561.3 L77.3,561.3 L78.2,561.9 L79.1,561.8 L80.0,562.1 L80.9,561.8 L81.9,561.6 L82.8,561.8 L83.7,561.4 L84.6,561.3 L85.5,561.7 L86.5,561.7 L87.4,561.8 L88.3,561.7 L89.2,562.3 L90.1,561.7 L91.1,561.7 L91.1,562.2 L91.4,542.9 L91.8,530.9 L92.2,521.1 L92.6,513.3 L93.0,508.8 L93.3,504.1 L93.7,501.2 L94.1,498.4 L94.5,496.0 L94.8,494.1 L95.2,492.3 L95.6,491.2 L96.0,490.0 L96.4,489.2 L96.7,488.8 L97.1,487.3 L97.5,487.1 L97.9,486.4 L98.2,484.9 L98.6,484.5 L99.0,484.1 L99.4,483.2 L99.8,482.6 L100.1,482.9 L100.5,481.8 L100.9,481.7 L101.3,480.6 L101.6,480.4 L102.0,479.1 L102.4,479.0 L102.8,479.0 L103.2,478.2 L103.5,478.3 L103.9,477.3 L104.3,476.7 L104.7,476.4 L105.0,476.9 L105.4,475.8 L105.8,475.1 L106.2,474.8 L106.6,474.1 L106.9,474.8 L107.3,473.7 L107.7,473.8 L108.1,473.2 L108.4,472.8 L108.8,472.3 L109.2,472.6 L109.6,472.0 L110.0,472.2 L110.3,472.1 L110.7,471.0 L111.1,471.0 L111.5,471.4 L111.8,470.8 L112.2,470.2 L112.6,469.4 L113.0,469.3 L113.4,469.2 L113.7,470.1 L114.1,469.2 L114.5,468.7 L114.9,468.6 L115.2,468.4 L115.6,468.4 L116.0,467.5 L116.4,467.4 L116.7,467.9 L117.1,468.1 L117.5,466.7 L117.9,467.6 L118.3,466.7 L118.6,466.3 L119.0,467.3 L119.4,466.6 L119.8,466.8 L120.1,466.3 L120.5,466.2 L120.9,465.4 L121.3,465.9 L121.7,466.0 L122.0,465.4 L122.4,465.9 L122.8,465.8 L123.2,464.6 L123.5,465.8 L123.9,465.5 L124.3,465.2 L124.7,465.6 L125.1,465.9 L125.4,464.5 L125.8,465.2 L126.2,465.0 L126.6,464.9 L126.9,465.0 L127.3,465.0 L127.7,464.4 L128.1,463.4 L128.5,464.0 L128.8,463.9 L129.2,464.8 L129.6,464.1 L130.0,464.5 L130.3,463.7 L130.7,464.0 L131.1,463.8 L131.5,463.8 L131.9,464.0 L132.2,464.3 L132.6,463.4 L133.0,464.2 L133.4,464.0 L133.7,463.6 L134.1,463.7 L134.5,463.3 L134.9,462.9 L135.3,463.2 L135.6,463.2 L136.0,463.2 L136.0,462.9 L136.7,485.9 L137.3,498.5 L138.0,507.2 L138.6,512.8 L139.2,516.2 L139.9,519.1 L140.5,521.0 L141.2,522.8 L141.8,525.6 L142.5,526.3 L143.1,527.0 L143.8,528.7 L144.4,529.7 L145.1,531.4 L145.7,533.0 L146.4,533.9 L147.0,534.3 L147.6,535.2 L148.3,536.6 L148.9,537.3 L149.6,538.0 L150.2,539.5 L150.9,539.7 L151.5,539.8 L152.2,540.3 L152.8,541.7 L153.5,541.7 L154.1,543.0 L154.8,543.7 L155.4,544.7 L156.0,544.2 L156.7,545.1 L157.3,544.6 L158.0,545.8 L158.6,546.2 L159.3,547.3 L159.9,546.6 L160.6,547.6 L161.2,547.9 L161.9,548.9 L162.5,548.1 L163.2,548.4 L163.8,549.3 L164.5,549.3 L165.1,549.5 L165.7,549.5 L166.4,550.1 L167.0,549.7 L167.7,550.6 L168.3,550.9 L169.0,551.1 L169.6,552.0 L170.3,551.6 L170.9,551.1 L171.6,551.6 L172.2,552.1 L172.9,551.8 L173.5,552.8 L174.1,552.3 L174.1,552.2 L174.6,531.5 L175.1,517.8 L175.5,507.3 L176.0,500.0 L176.4,495.7 L176.9,491.6 L177.3,489.5 L177.8,487.4 L178.2,484.7 L178.7,483.4 L179.1,482.1 L179.6,481.2 L180.1,480.1 L180.5,478.8 L181.0,477.6 L181.4,477.4 L181.9,477.2 L182.3,475.4 L182.8,475.0 L183.2,474.3 L183.7,473.8 L184.1,472.5 L184.6,472.7 L185.0,471.9 L185.5,472.2 L186.0,471.3 L186.4,470.8 L186.9,470.1 L187.3,469.5 L187.8,469.5 L188.2,468.2 L188.7,468.7 L189.1,468.1 L189.6,467.5 L190.0,467.7 L190.5,466.7 L190.9,466.4 L191.4,466.4 L191.9,465.3 L192.3,465.6 L192.8,465.3 L193.2,465.4 L193.7,465.4 L194.1,464.8 L194.6,464.5 L195.0,464.3 L195.5,463.6 L195.9,464.5 L196.4,463.9 L196.8,463.9 L197.3,462.6 L197.8,463.1 L198.2,462.9 L198.7,462.9 L199.1,462.1 L199.6,462.4 L200.0,462.0 L200.5,462.7 L200.9,461.4 L201.4,461.6 L201.8,461.4 L202.3,461.0 L202.8,461.4 L203.2,461.3 L203.7,460.9 L204.1,460.9 L204.6,461.0 L205.0,460.8 L205.5,460.9 L205.9,460.4 L206.4,460.2 L206.8,460.5 L207.3,459.7 L207.7,460.8 L208.2,460.3 L208.7,459.6 L209.1,460.2 L209.6,460.6 L210.0,459.5 L210.5,459.7 L210.9,460.3 L211.4,459.5 L211.8,460.1 L212.3,460.2 L212.7,459.7 L213.2,459.8 L213.6,459.9 L214.1,459.6 L214.6,459.8 L215.0,459.4 L215.5,459.4 L215.9,459.1 L216.4,459.5 L216.8,459.7 L217.3,459.7 L217.7,459.3 L218.2,458.7 L218.6,458.9 L219.1,459.4 L219.1,458.8 L219.6,476.0 L220.1,487.4 L220.6,497.3 L221.0,504.0 L221.5,509.5 L222.0,514.1 L222.5,517.3 L223.0,520.5 L223.5,522.3 L224.0,523.7 L224.5,524.0 L225.0,526.8 L225.4,528.2 L225.9,529.7 L226.4,529.8 L226.9,531.8 L227.4,532.3 L227.9,532.6 L228.4,534.0 L228.9,533.5 L229.3,534.4 L229.8,535.7 L230.3,536.3 L230.8,537.2 L231.3,537.8 L231.8,537.6 L232.3,538.0 L232.8,538.6 L233.3,539.2 L233.7,540.0 L234.2,540.1 L234.7,541.3 L235.2,541.1 L235.7,540.9 L236.2,541.4 L236.7,542.5 L237.2,542.9 L237.7,542.5 L238.1,542.7 L238.6,544.4 L239.1,544.3 L239.6,544.4 L240.1,544.3 L240.6,545.4 L241.1,545.1 L241.6,545.8 L242.0,545.0 L242.5,546.1 L243.0,546.6 L243.5,546.9 L244.0,546.6 L244.5,547.0 L245.0,547.9 L245.5,547.6 L246.0,548.5 L246.4,548.5 L246.9,548.9 L247.4,549.1 L247.9,549.0 L248.4,549.4 L248.9,548.9 L249.4,549.0 L249.9,549.6 L250.3,550.1 L250.8,549.5 L251.3,550.8 L251.8,550.9 L252.3,550.0 L252.8,550.1 L253.3,550.2 L253.8,550.8 L254.3,551.3 L254.7,551.2 L255.2,550.8 L255.7,551.5 L256.2,551.6 L256.7,552.0 L257.2,552.0 L257.7,551.3 L258.2,551.6 L258.6,552.3 L259.1,552.4 L259.6,552.3 L260.1,551.9 L260.6,552.7 L261.1,552.4 L261.6,553.3 L262.1,553.0 L262.6,552.4 L263.0,552.2 L263.5,553.2 L264.0,553.1 L264.5,552.5 L265.0,553.0 L265.5,553.2 L266.0,552.8 L266.5,553.0 L267.0,552.7 L267.4,552.9 L267.9,553.5 L268.4,553.3 L268.9,553.4 L269.4,554.0 L269.9,553.8 L270.4,553.1 L270.9,554.2 L271.3,553.2 L271.8,553.5 L272.3,553.7 L272.8,553.5 L273.3,553.6 L273.8,553.3 L274.3,554.0 L274.8,554.0 L275.3,554.0 L275.7,553.2 L276.2,553.6 L276.7,554.4 L277.2,554.2" fill="none" stroke="#a020f0" stroke-width="2.0" stroke-linejoin="round" />
<rect x="55.5" y="419.5" width="221.2" height="162.29999999999995" fill="none" stroke="#111" stroke-width="1.5" />
<line x1="55.2" y1="581.8" x2="55.2" y2="578.1999999999999" stroke="#111" stroke-width="1.2" />
<text x="55.2" y="594" font-size="11.5" fill="#111" text-anchor="middle" font-weight="normal" font-family="'Liberation Sans', sans-serif" stroke="#111" stroke-width="0.3">0</text>
<line x1="100.6" y1="581.8" x2="100.6" y2="578.1999999999999" stroke="#111" stroke-width="1.2" />
<text x="100.6" y="594" font-size="11.5" fill="#111" text-anchor="middle" font-weight="normal" font-family="'Liberation Sans', sans-serif" stroke="#111" stroke-width="0.3">10</text>
<line x1="146.0" y1="581.8" x2="146.0" y2="578.1999999999999" stroke="#111" stroke-width="1.2" />
<text x="146.0" y="594" font-size="11.5" fill="#111" text-anchor="middle" font-weight="normal" font-family="'Liberation Sans', sans-serif" stroke="#111" stroke-width="0.3">20</text>
<line x1="191.39999999999998" y1="581.8" x2="191.39999999999998" y2="578.1999999999999" stroke="#111" stroke-width="1.2" />
<text x="191.39999999999998" y="594" font-size="11.5" fill="#111" text-anchor="middle" font-weight="normal" font-family="'Liberation Sans', sans-serif" stroke="#111" stroke-width="0.3">30</text>
<line x1="236.8" y1="581.8" x2="236.8" y2="578.1999999999999" stroke="#111" stroke-width="1.2" />
<text x="236.8" y="594" font-size="11.5" fill="#111" text-anchor="middle" font-weight="normal" font-family="'Liberation Sans', sans-serif" stroke="#111" stroke-width="0.3">40</text>
<line x1="77.9" y1="581.8" x2="77.9" y2="580.1999999999999" stroke="#111" stroke-width="0.8" />
<line x1="123.3" y1="581.8" x2="123.3" y2="580.1999999999999" stroke="#111" stroke-width="0.8" />
<line x1="168.7" y1="581.8" x2="168.7" y2="580.1999999999999" stroke="#111" stroke-width="0.8" />
<line x1="214.10000000000002" y1="581.8" x2="214.10000000000002" y2="580.1999999999999" stroke="#111" stroke-width="0.8" />
<line x1="259.5" y1="581.8" x2="259.5" y2="580.1999999999999" stroke="#111" stroke-width="0.8" />
<line x1="55.5" y1="568.6" x2="59.1" y2="568.6" stroke="#111" stroke-width="1.2" />
<text x="50" y="572.6" font-size="11.5" fill="#111" text-anchor="end" font-weight="normal" font-family="'Liberation Sans', sans-serif" stroke="#111" stroke-width="0.3">4</text>
<line x1="55.5" y1="500.6" x2="59.1" y2="500.6" stroke="#111" stroke-width="1.2" />
<text x="50" y="504.6" font-size="11.5" fill="#111" text-anchor="end" font-weight="normal" font-family="'Liberation Sans', sans-serif" stroke="#111" stroke-width="0.3">5</text>
<line x1="55.5" y1="432.6" x2="59.1" y2="432.6" stroke="#111" stroke-width="1.2" />
<text x="50" y="436.6" font-size="11.5" fill="#111" text-anchor="end" font-weight="normal" font-family="'Liberation Sans', sans-serif" stroke="#111" stroke-width="0.3">6</text>
<line x1="55.5" y1="534.6" x2="57.1" y2="534.6" stroke="#111" stroke-width="0.8" />
<line x1="55.5" y1="466.6" x2="57.1" y2="466.6" stroke="#111" stroke-width="0.8" />
<text x="0" y="0" font-size="12" fill="#111" text-anchor="middle" font-weight="normal" font-family="'Liberation Sans', sans-serif" stroke="#111" stroke-width="0.25" transform="translate(39.3,500.6) rotate(-90)">PSC (µA)</text>
<text x="162.7" y="607.5" font-size="12" fill="#111" text-anchor="middle" font-weight="normal" font-family="'Liberation Sans', sans-serif" stroke="#111" stroke-width="0.25">Time (s)</text>
<text x="20.2" y="428.4" font-size="14.6" fill="#222" text-anchor="start" font-weight="normal" font-family="'Liberation Serif', serif" letter-spacing="0.8">(f)</text>
<text x="65.4" y="431.5" font-size="9.3" fill="#111" text-anchor="start" font-weight="normal" font-family="'Liberation Sans', sans-serif" >Light pulse: 808 nm, 8 mW/cm<tspan font-size="6" dy="-3.5">2</tspan></text>
<text x="65.4" y="443.5" font-size="9.3" fill="#111" text-anchor="start" font-weight="normal" font-family="'Liberation Sans', sans-serif" >Pulse Width: 10 s</text>
<text x="213.6" y="433" font-size="9.3" fill="#111" text-anchor="start" font-weight="normal" font-family="'Liberation Sans', sans-serif" >Pulse interval:</text>
<line x1="226.7" y1="440.8" x2="247.7" y2="440.8" stroke="#555555" stroke-width="2.0" />
<text x="250" y="444.1" font-size="9.3" fill="#111" text-anchor="start" font-weight="normal" font-family="'Liberation Sans', sans-serif" >1 s</text>
<line x1="226.7" y1="452.3" x2="247.7" y2="452.3" stroke="#ff7f1e" stroke-width="2.0" />
<text x="250" y="455.6" font-size="9.3" fill="#111" text-anchor="start" font-weight="normal" font-family="'Liberation Sans', sans-serif" >3 s</text>
<line x1="226.7" y1="463.7" x2="247.7" y2="463.7" stroke="#1f4fe0" stroke-width="2.0" />
<text x="250" y="467.0" font-size="9.3" fill="#111" text-anchor="start" font-weight="normal" font-family="'Liberation Sans', sans-serif" >5 s</text>
<line x1="226.7" y1="474.9" x2="247.7" y2="474.9" stroke="#1a9a2a" stroke-width="2.0" />
<text x="250" y="478.2" font-size="9.3" fill="#111" text-anchor="start" font-weight="normal" font-family="'Liberation Sans', sans-serif" >7 s</text>
<line x1="226.7" y1="485.8" x2="247.7" y2="485.8" stroke="#a020f0" stroke-width="2.0" />
<text x="250" y="489.1" font-size="9.3" fill="#111" text-anchor="start" font-weight="normal" font-family="'Liberation Sans', sans-serif" >9 s</text>
<path d="M343.0,432.3 L344.8,437.9 L346.6,443.3 L348.3,448.4 L350.1,453.3 L351.9,458.0 L353.7,462.5 L355.4,466.9 L357.2,471.0 L359.0,474.9 L360.8,478.7 L362.6,482.3 L364.3,485.8 L366.1,489.1 L367.9,492.2 L369.7,495.3 L371.4,498.2 L373.2,500.9 L375.0,503.6 L376.8,506.1 L378.6,508.6 L380.3,510.9 L382.1,513.1 L383.9,515.3 L385.7,517.3 L387.4,519.2 L389.2,521.1 L391.0,522.9 L392.8,524.6 L394.6,526.3 L396.3,527.8 L398.1,529.3 L399.9,530.8 L401.7,532.1 L403.4,533.4 L405.2,534.7 L407.0,535.9 L408.8,537.1 L410.6,538.2 L412.3,539.2 L414.1,540.2 L415.9,541.2 L417.7,542.1 L419.4,543.0 L421.2,543.9 L423.0,544.7 L424.8,545.4 L426.6,546.2 L428.3,546.9 L430.1,547.6 L431.9,548.2 L433.7,548.9 L435.4,549.5 L437.2,550.0 L439.0,550.6 L440.8,551.1 L442.6,551.6 L444.3,552.1 L446.1,552.5 L447.9,553.0 L449.7,553.4 L451.4,553.8 L453.2,554.2 L455.0,554.5 L456.8,554.9 L458.6,555.2 L460.3,555.6 L462.1,555.9 L463.9,556.2 L465.7,556.4 L467.4,556.7 L469.2,557.0 L471.0,557.2 L472.8,557.5 L474.6,557.7 L476.3,557.9 L478.1,558.1 L479.9,558.3 L481.7,558.5 L483.4,558.7 L485.2,558.9 L487.0,559.0 L488.8,559.2 L490.6,559.3 L492.3,559.5 L494.1,559.6 L495.9,559.8 L497.7,559.9 L499.4,560.0 L501.2,560.1 L503.0,560.2 L504.8,560.3 L506.6,560.4 L508.3,560.5 L510.1,560.6 L511.9,560.7 L513.7,560.8 L515.4,560.9 L517.2,561.0 L519.0,561.1" fill="none" stroke="#10a080" stroke-width="1.3" stroke-linejoin="round" stroke-dasharray="2.2,1.4"/>
<circle cx="343.0" cy="432.3" r="3.6" fill="url(#ball)"/>
<circle cx="387.0" cy="518.7" r="3.6" fill="url(#ball)"/>
<circle cx="431.0" cy="548.1" r="3.6" fill="url(#ball)"/>
<circle cx="519.0" cy="562.1" r="3.6" fill="url(#ball)"/>
<rect x="320.5" y="419.7" width="219.39999999999998" height="162.2" fill="none" stroke="#111" stroke-width="1.5" />
<line x1="321" y1="581.9" x2="321" y2="578.3" stroke="#111" stroke-width="1.2" />
<text x="321" y="594" font-size="11.5" fill="#111" text-anchor="middle" font-weight="normal" font-family="'Liberation Sans', sans-serif" stroke="#111" stroke-width="0.3">0</text>
<line x1="343" y1="581.9" x2="343" y2="578.3" stroke="#111" stroke-width="1.2" />
<text x="343" y="594" font-size="11.5" fill="#111" text-anchor="middle" font-weight="normal" font-family="'Liberation Sans', sans-serif" stroke="#111" stroke-width="0.3">1</text>
<line x1="365" y1="581.9" x2="365" y2="578.3" stroke="#111" stroke-width="1.2" />
<text x="365" y="594" font-size="11.5" fill="#111" text-anchor="middle" font-weight="normal" font-family="'Liberation Sans', sans-serif" stroke="#111" stroke-width="0.3">2</text>
<line x1="387" y1="581.9" x2="387" y2="578.3" stroke="#111" stroke-width="1.2" />
<text x="387" y="594" font-size="11.5" fill="#111" text-anchor="middle" font-weight="normal" font-family="'Liberation Sans', sans-serif" stroke="#111" stroke-width="0.3">3</text>
<line x1="409" y1="581.9" x2="409" y2="578.3" stroke="#111" stroke-width="1.2" />
<text x="409" y="594" font-size="11.5" fill="#111" text-anchor="middle" font-weight="normal" font-family="'Liberation Sans', sans-serif" stroke="#111" stroke-width="0.3">4</text>
<line x1="431" y1="581.9" x2="431" y2="578.3" stroke="#111" stroke-width="1.2" />
<text x="431" y="594" font-size="11.5" fill="#111" text-anchor="middle" font-weight="normal" font-family="'Liberation Sans', sans-serif" stroke="#111" stroke-width="0.3">5</text>
<line x1="453" y1="581.9" x2="453" y2="578.3" stroke="#111" stroke-width="1.2" />
<text x="453" y="594" font-size="11.5" fill="#111" text-anchor="middle" font-weight="normal" font-family="'Liberation Sans', sans-serif" stroke="#111" stroke-width="0.3">6</text>
<line x1="475" y1="581.9" x2="475" y2="578.3" stroke="#111" stroke-width="1.2" />
<text x="475" y="594" font-size="11.5" fill="#111" text-anchor="middle" font-weight="normal" font-family="'Liberation Sans', sans-serif" stroke="#111" stroke-width="0.3">7</text>
<line x1="497" y1="581.9" x2="497" y2="578.3" stroke="#111" stroke-width="1.2" />
<text x="497" y="594" font-size="11.5" fill="#111" text-anchor="middle" font-weight="normal" font-family="'Liberation Sans', sans-serif" stroke="#111" stroke-width="0.3">8</text>
<line x1="519" y1="581.9" x2="519" y2="578.3" stroke="#111" stroke-width="1.2" />
<text x="519" y="594" font-size="11.5" fill="#111" text-anchor="middle" font-weight="normal" font-family="'Liberation Sans', sans-serif" stroke="#111" stroke-width="0.3">9</text>
<line x1="320.5" y1="566.0" x2="324.1" y2="566.0" stroke="#111" stroke-width="1.2" />
<text x="315" y="570.0" font-size="11.5" fill="#111" text-anchor="end" font-weight="normal" font-family="'Liberation Sans', sans-serif" stroke="#111" stroke-width="0.3">1</text>
<line x1="320.5" y1="533.4" x2="324.1" y2="533.4" stroke="#111" stroke-width="1.2" />
<text x="315" y="537.4" font-size="11.5" fill="#111" text-anchor="end" font-weight="normal" font-family="'Liberation Sans', sans-serif" stroke="#111" stroke-width="0.3">2</text>
<line x1="320.5" y1="500.8" x2="324.1" y2="500.8" stroke="#111" stroke-width="1.2" />
<text x="315" y="504.8" font-size="11.5" fill="#111" text-anchor="end" font-weight="normal" font-family="'Liberation Sans', sans-serif" stroke="#111" stroke-width="0.3">3</text>
<line x1="320.5" y1="468.2" x2="324.1" y2="468.2" stroke="#111" stroke-width="1.2" />
<text x="315" y="472.2" font-size="11.5" fill="#111" text-anchor="end" font-weight="normal" font-family="'Liberation Sans', sans-serif" stroke="#111" stroke-width="0.3">4</text>
<line x1="320.5" y1="435.6" x2="324.1" y2="435.6" stroke="#111" stroke-width="1.2" />
<text x="315" y="439.6" font-size="11.5" fill="#111" text-anchor="end" font-weight="normal" font-family="'Liberation Sans', sans-serif" stroke="#111" stroke-width="0.3">5</text>
<line x1="320.5" y1="549.7" x2="322.1" y2="549.7" stroke="#111" stroke-width="0.8" />
<line x1="320.5" y1="517.1" x2="322.1" y2="517.1" stroke="#111" stroke-width="0.8" />
<line x1="320.5" y1="484.5" x2="322.1" y2="484.5" stroke="#111" stroke-width="0.8" />
<line x1="320.5" y1="451.9" x2="322.1" y2="451.9" stroke="#111" stroke-width="0.8" />
<text x="0" y="0" font-size="12.8" fill="#111" text-anchor="middle" font-weight="normal" font-family="'Liberation Sans', sans-serif" stroke="#111" stroke-width="0.25" transform="translate(300.3,501.3) rotate(-90)">PPF (%)</text>
<text x="430" y="607.5" font-size="12" fill="#111" text-anchor="middle" font-weight="normal" font-family="'Liberation Sans', sans-serif" stroke="#111" stroke-width="0.25">Interval time (s)</text>
<text x="284.1" y="428.6" font-size="14.6" fill="#222" text-anchor="start" font-weight="normal" font-family="'Liberation Serif', serif" letter-spacing="0.8">(g)</text>
<circle cx="420" cy="440.5" r="3.6" fill="url(#ball)"/>
<text x="437.5" y="444.2" font-size="9.9" fill="#111" text-anchor="start" font-weight="normal" font-family="'Liberation Sans', sans-serif" >Experimental data</text>
<line x1="411" y1="454.5" x2="432" y2="454.5" stroke="#10a080" stroke-width="1.3" stroke-dasharray="2.2,1.4"/>
<text x="437.5" y="458" font-size="9.9" fill="#111" text-anchor="start" font-weight="normal" font-family="'Liberation Sans', sans-serif" >Fitting curve</text>
<text x="414.8" y="485" font-size="10.2" fill="#111" text-anchor="start" font-weight="normal" font-family="'Liberation Sans', sans-serif" >PPF = C<tspan font-size="6.5" dy="2">1</tspan><tspan dy="-2">e</tspan><tspan font-size="5" dy="-4">t/τ1</tspan><tspan dy="4"> + C</tspan><tspan font-size="6.5" dy="2">2</tspan><tspan dy="-2">e</tspan><tspan font-size="5" dy="-4">t/τ2</tspan></text>
<text x="414.8" y="503.6" font-size="10.2" fill="#111" text-anchor="start" font-weight="normal" font-family="'Liberation Sans', sans-serif" >τ<tspan font-size="6.5" dy="2">1</tspan><tspan dy="-2">=170 ms,  τ</tspan><tspan font-size="6.5" dy="2">2</tspan><tspan dy="-2">=207 ms</tspan></text>
<path d="M69.5,764.2 L69.9,764.0 L70.4,764.0 L70.8,763.3 L71.3,764.6 L71.7,763.7 L72.2,763.9 L72.6,764.2 L73.1,764.1 L73.5,764.2 L74.0,764.0 L74.4,763.7 L74.9,764.5 L75.3,763.6 L75.8,764.1 L76.2,763.6 L76.7,763.9 L77.1,763.7 L77.5,763.9 L78.0,763.7 L78.4,764.0 L78.9,764.3 L79.3,763.8 L79.8,763.8 L80.2,763.4 L80.7,764.6 L81.1,764.1 L81.6,763.7 L82.0,764.4 L82.5,764.1 L82.9,763.4 L83.4,763.6 L83.8,764.3" fill="none" stroke="#777" stroke-width="1.3" stroke-linejoin="round" />
<path d="M83.8,763.8 L84.0,758.6 L84.3,754.4 L84.5,751.1 L84.8,748.4 L85.0,746.5 L85.3,744.6 L85.5,742.6 L85.7,741.7 L86.0,740.0 L86.2,740.1 L86.5,740.2 L86.7,738.9 L87.0,738.3 L87.2,737.9 L87.4,737.8 L87.7,737.9 L87.9,736.8 L88.2,737.5 L88.4,736.9 L88.6,737.1 L88.9,737.4 L89.1,736.4 L89.4,737.8 L89.6,737.1 L89.9,736.6 L90.1,736.9 L90.3,736.4 L90.6,736.7 L90.8,736.9 L91.1,735.9 L91.3,736.8 L91.6,736.7 L91.8,737.1 L92.0,736.9 L92.3,736.4 L92.5,736.4 L92.8,736.6 L93.0,736.9 L93.3,736.4 L93.5,737.3 L93.7,736.8 L94.0,736.7 L94.2,736.9 L94.5,736.6 L94.7,736.9 L94.9,736.9 L95.2,736.0 L95.4,736.4 L95.7,736.2 L95.9,736.6 L96.2,736.3 L96.4,736.3 L96.6,736.2 L96.9,735.7 L97.1,736.7 L97.4,736.5 L97.6,736.6 L97.9,737.9 L98.1,737.1" fill="none" stroke="#f020e0" stroke-width="1.8" stroke-linejoin="round" />
<path d="M98.1,737.1 L98.5,745.0 L99.0,750.2 L99.4,752.8 L99.9,754.9 L100.3,756.9 L100.8,757.5 L101.2,758.3 L101.7,759.5 L102.1,760.5 L102.6,760.3 L103.0,761.3 L103.5,761.7 L103.9,762.0 L104.4,762.5 L104.8,762.2 L105.2,762.6 L105.7,762.6 L106.1,763.0 L106.6,763.6 L107.0,763.5 L107.5,763.4 L107.9,763.8 L108.4,763.0 L108.8,764.0 L109.3,764.2 L109.7,763.7 L110.2,763.9 L110.6,764.2 L111.1,764.3 L111.5,764.1 L112.0,764.0 L112.4,764.1" fill="none" stroke="#777" stroke-width="1.3" stroke-linejoin="round" />
<path d="M112.4,764.2 L112.6,756.7 L112.9,750.7 L113.1,746.0 L113.4,743.6 L113.6,739.6 L113.9,737.1 L114.1,734.9 L114.3,733.1 L114.6,731.4 L114.8,730.5 L115.1,729.9 L115.3,729.1 L115.6,727.9 L115.8,728.3 L116.0,727.6 L116.3,726.9 L116.5,727.1 L116.8,727.8 L117.0,726.7 L117.2,726.9 L117.5,726.6 L117.7,726.1 L118.0,726.3 L118.2,726.5 L118.5,726.0 L118.7,726.2 L118.9,726.2 L119.2,726.2 L119.4,726.1 L119.7,726.4 L119.9,726.4 L120.2,726.2 L120.4,726.6 L120.6,726.7 L120.9,725.7 L121.1,726.3 L121.4,726.2 L121.6,726.2 L121.9,726.2 L122.1,726.2 L122.3,726.1 L122.6,726.5 L122.8,725.8 L123.1,726.4 L123.3,725.8 L123.5,726.9 L123.8,726.6 L124.0,725.8 L124.3,726.2 L124.5,726.4 L124.8,726.0 L125.0,726.6 L125.2,726.1 L125.5,727.0 L125.7,726.3 L126.0,726.4 L126.2,726.0 L126.5,725.8 L126.7,726.5" fill="none" stroke="#e8a020" stroke-width="1.8" stroke-linejoin="round" />
<path d="M126.7,726.0 L127.1,737.8 L127.6,745.0 L128.0,749.4 L128.5,751.2 L128.9,753.8 L129.4,755.5 L129.8,756.8 L130.3,758.0 L130.7,758.1 L131.2,759.3 L131.6,759.4 L132.1,760.6 L132.5,761.7 L133.0,761.2 L133.4,761.9 L133.8,762.2 L134.3,762.0 L134.7,762.8 L135.2,762.6 L135.6,763.1 L136.1,763.5 L136.5,763.3 L137.0,763.7 L137.4,763.3 L137.9,763.5 L138.3,763.8 L138.8,763.8 L139.2,763.8 L139.7,764.2 L140.1,763.9 L140.6,764.2 L141.0,764.0" fill="none" stroke="#777" stroke-width="1.3" stroke-linejoin="round" />
<path d="M141.0,764.4 L141.2,754.6 L141.5,746.8 L141.7,741.1 L142.0,736.0 L142.2,732.0 L142.5,728.3 L142.7,726.2 L142.9,723.6 L143.2,721.5 L143.4,720.5 L143.7,720.1 L143.9,718.5 L144.2,717.5 L144.4,717.4 L144.6,716.3 L144.9,716.1 L145.1,715.9 L145.4,715.9 L145.6,715.8 L145.8,715.5 L146.1,715.3 L146.3,715.0 L146.6,714.9 L146.8,715.1 L147.1,714.9 L147.3,714.8 L147.5,715.5 L147.8,715.1 L148.0,715.1 L148.3,714.9 L148.5,714.9 L148.8,714.9 L149.0,715.1 L149.2,714.5 L149.5,714.6 L149.7,715.3 L150.0,714.7 L150.2,715.1 L150.5,714.1 L150.7,714.9 L150.9,714.9 L151.2,714.7 L151.4,714.8 L151.7,714.7 L151.9,714.1 L152.1,714.6 L152.4,714.4 L152.6,714.3 L152.9,715.1 L153.1,714.1 L153.4,714.4 L153.6,714.3 L153.8,715.0 L154.1,714.4 L154.3,714.5 L154.6,714.9 L154.8,713.8 L155.1,714.5 L155.3,714.8" fill="none" stroke="#10a020" stroke-width="1.8" stroke-linejoin="round" />
<path d="M155.3,714.7 L155.7,729.1 L156.2,737.9 L156.6,743.7 L157.1,747.3 L157.5,750.0 L158.0,752.9 L158.4,754.3 L158.9,755.8 L159.3,756.7 L159.8,757.3 L160.2,758.3 L160.7,759.6 L161.1,760.0 L161.6,760.2 L162.0,761.1 L162.4,761.4 L162.9,761.7 L163.3,762.7 L163.8,762.2 L164.2,762.6 L164.7,762.7 L165.1,763.4 L165.6,763.5 L166.0,763.6 L166.5,763.5 L166.9,763.6 L167.4,763.7 L167.8,763.3 L168.3,763.5 L168.7,764.2 L169.2,764.3 L169.6,763.6" fill="none" stroke="#777" stroke-width="1.3" stroke-linejoin="round" />
<path d="M169.6,763.7 L169.8,751.7 L170.1,742.5 L170.3,735.9 L170.6,729.8 L170.8,724.8 L171.1,721.2 L171.3,718.1 L171.5,715.3 L171.8,712.7 L172.0,711.5 L172.3,710.1 L172.5,709.1 L172.8,708.5 L173.0,706.7 L173.2,707.6 L173.5,706.5 L173.7,705.7 L174.0,706.1 L174.2,705.1 L174.4,704.6 L174.7,705.3 L174.9,704.7 L175.2,705.1 L175.4,704.4 L175.7,704.5 L175.9,704.4 L176.1,703.9 L176.4,704.2 L176.6,703.9 L176.9,704.1 L177.1,704.8 L177.4,704.2 L177.6,704.1 L177.8,704.8 L178.1,703.8 L178.3,704.2 L178.6,704.1 L178.8,704.6 L179.1,704.2 L179.3,704.1 L179.5,704.4 L179.8,704.2 L180.0,705.0 L180.3,703.7 L180.5,704.7 L180.7,705.1 L181.0,704.6 L181.2,704.6 L181.5,704.0 L181.7,704.6 L182.0,704.1 L182.2,704.6 L182.4,703.4 L182.7,704.0 L182.9,703.5 L183.2,704.6 L183.4,704.0 L183.7,704.6 L183.9,704.0" fill="none" stroke="#f03060" stroke-width="1.8" stroke-linejoin="round" />
<path d="M183.9,703.8 L184.3,722.2 L184.8,732.9 L185.2,739.8 L185.7,744.5 L186.1,747.6 L186.6,750.2 L187.0,752.4 L187.5,753.6 L187.9,754.9 L188.4,756.6 L188.8,757.4 L189.3,758.1 L189.7,759.0 L190.2,759.8 L190.6,760.0 L191.0,760.5 L191.5,761.0 L191.9,761.7 L192.4,761.4 L192.8,761.7 L193.3,762.7 L193.7,762.8 L194.2,762.6 L194.6,763.4 L195.1,763.2 L195.5,763.5 L196.0,763.8 L196.4,763.8 L196.9,764.3 L197.3,764.1 L197.8,764.6 L198.2,763.4" fill="none" stroke="#777" stroke-width="1.3" stroke-linejoin="round" />
<path d="M198.2,762.8 L198.4,750.6 L198.7,740.9 L198.9,732.6 L199.2,726.0 L199.4,720.8 L199.7,716.5 L199.9,713.8 L200.1,710.5 L200.4,708.6 L200.6,707.0 L200.9,705.5 L201.1,703.7 L201.4,702.5 L201.6,702.6 L201.8,700.8 L202.1,700.4 L202.3,700.7 L202.6,700.4 L202.8,700.0 L203.0,699.3 L203.3,699.7 L203.5,699.8 L203.8,699.1 L204.0,699.9 L204.3,699.0 L204.5,698.6 L204.7,698.9 L205.0,698.7 L205.2,698.7 L205.5,698.6 L205.7,698.8 L206.0,699.2 L206.2,698.9 L206.4,698.8 L206.7,698.3 L206.9,698.2 L207.2,698.6 L207.4,699.1 L207.7,699.1 L207.9,698.9 L208.1,698.3 L208.4,698.7 L208.6,698.8 L208.9,699.1 L209.1,698.4 L209.3,698.7 L209.6,698.8 L209.8,698.7 L210.1,698.1 L210.3,698.8 L210.6,698.1 L210.8,698.3 L211.0,698.8 L211.3,698.4 L211.5,698.8 L211.8,699.1 L212.0,698.9 L212.3,699.1 L212.5,698.6" fill="none" stroke="#2040f0" stroke-width="1.8" stroke-linejoin="round" />
<path d="M212.5,698.6 L212.9,717.8 L213.4,729.4 L213.8,738.1 L214.3,742.1 L214.7,746.4 L215.2,748.6 L215.6,751.1 L216.1,752.6 L216.5,753.8 L217.0,756.0 L217.4,756.5 L217.9,757.6 L218.3,759.0 L218.8,759.0 L219.2,759.8 L219.6,760.6 L220.1,761.1 L220.5,760.4 L221.0,761.8 L221.4,762.6 L221.9,762.6 L222.3,762.7 L222.8,763.0 L223.2,763.1 L223.7,763.5 L224.1,763.2 L224.6,763.7 L225.0,764.1 L225.5,764.0 L225.9,764.0 L226.4,763.7 L226.8,763.9" fill="none" stroke="#777" stroke-width="1.3" stroke-linejoin="round" />
<path d="M226.8,764.0 L227.0,748.8 L227.3,736.6 L227.5,726.0 L227.8,719.1 L228.0,712.2 L228.3,706.9 L228.5,703.3 L228.7,699.5 L229.0,696.7 L229.2,694.7 L229.5,692.5 L229.7,690.9 L230.0,689.7 L230.2,689.2 L230.4,688.3 L230.7,686.9 L230.9,687.6 L231.2,686.7 L231.4,686.2 L231.6,686.2 L231.9,685.8 L232.1,685.8 L232.4,685.4 L232.6,685.1 L232.9,685.6 L233.1,685.3 L233.3,685.4 L233.6,685.4 L233.8,685.3 L234.1,685.6 L234.3,684.9 L234.6,684.5 L234.8,684.5 L235.0,684.7 L235.3,685.5 L235.5,684.5 L235.8,685.4 L236.0,685.1 L236.3,684.4 L236.5,685.5 L236.7,684.8 L237.0,685.0 L237.2,685.1 L237.5,685.4 L237.7,684.9 L237.9,685.3 L238.2,684.7 L238.4,684.6 L238.7,685.6 L238.9,685.3 L239.2,685.2 L239.4,685.5 L239.6,685.5 L239.9,685.0 L240.1,685.2 L240.4,685.7 L240.6,685.3 L240.9,684.9 L241.1,685.5" fill="none" stroke="#ff7010" stroke-width="1.8" stroke-linejoin="round" />
<path d="M241.1,685.8 L241.5,708.2 L242.0,722.4 L242.4,732.2 L242.9,738.2 L243.3,742.1 L243.8,745.9 L244.2,748.2 L244.7,750.4 L245.1,752.0 L245.6,754.4 L246.0,755.7 L246.5,756.6 L246.9,756.9 L247.4,758.2 L247.8,759.4 L248.2,759.4 L248.7,760.0 L249.1,760.8 L249.6,761.3 L250.0,761.5 L250.5,761.6 L250.9,762.2 L251.4,762.4 L251.8,762.8 L252.3,763.1 L252.7,763.4 L253.2,763.3 L253.6,763.6 L254.1,763.7 L254.5,763.4 L255.0,763.7 L255.4,763.6" fill="none" stroke="#777" stroke-width="1.3" stroke-linejoin="round" />
<path d="M255.4,764.2 L255.6,746.0 L255.9,732.3 L256.1,721.0 L256.4,711.8 L256.6,703.6 L256.9,697.7 L257.1,693.4 L257.3,689.6 L257.6,685.9 L257.8,683.5 L258.1,680.6 L258.3,680.1 L258.6,678.9 L258.8,677.2 L259.0,676.2 L259.3,675.4 L259.5,674.6 L259.8,673.6 L260.0,674.1 L260.2,673.9 L260.5,674.1 L260.7,673.2 L261.0,672.8 L261.2,673.0 L261.5,672.4 L261.7,672.7 L261.9,672.1 L262.2,672.5 L262.4,673.0 L262.7,672.8 L262.9,673.1 L263.2,673.1 L263.4,672.4 L263.6,672.1 L263.9,671.7 L264.1,672.4 L264.4,672.5 L264.6,672.8 L264.9,672.0 L265.1,672.3 L265.3,672.6 L265.6,672.1 L265.8,672.2 L266.1,673.1 L266.3,672.1 L266.5,672.3 L266.8,672.5 L267.0,672.5 L267.3,671.7 L267.5,671.8 L267.8,671.7 L268.0,672.8 L268.2,672.6 L268.5,672.0 L268.7,672.8 L269.0,672.6 L269.2,673.1 L269.5,671.7 L269.7,672.0" fill="none" stroke="#d020c8" stroke-width="1.8" stroke-linejoin="round" />
<path d="M269.7,671.8 L270.0,691.2 L270.3,705.2 L270.6,715.2 L270.9,722.4 L271.2,728.5 L271.5,732.4 L271.7,736.5 L272.0,739.6 L272.3,741.4 L272.6,744.0 L272.9,745.7 L273.2,747.6 L273.5,749.6 L273.8,750.1 L274.1,751.9 L274.4,752.2 L274.7,754.0 L275.0,755.0 L275.2,755.2 L275.5,755.9 L275.8,756.7 L276.1,757.7 L276.4,757.7 L276.7,758.9 L277.0,759.1 L277.3,759.7 L277.6,760.0 L277.9,760.0 L278.2,760.8 L278.5,760.7 L278.7,761.0 L279.0,762.0 L279.3,762.1 L279.6,762.1 L279.9,762.3 L280.2,762.2 L280.5,763.1 L280.8,762.5 L281.1,762.6 L281.4,763.0 L281.7,763.5 L282.0,763.2 L282.2,763.5 L282.5,763.2 L282.8,763.5 L283.1,763.4 L283.4,763.8 L283.7,763.3 L284.0,764.5" fill="none" stroke="#777" stroke-width="1.3" stroke-linejoin="round" />
<rect x="70.3" y="620" width="214.59999999999997" height="156.29999999999995" fill="none" stroke="#111" stroke-width="1.5" />
<line x1="69.5" y1="776.3" x2="69.5" y2="772.6999999999999" stroke="#111" stroke-width="1.2" />
<text x="69.5" y="790" font-size="11.5" fill="#111" text-anchor="middle" font-weight="normal" font-family="'Liberation Sans', sans-serif" stroke="#111" stroke-width="0.3">0</text>
<line x1="98.1" y1="776.3" x2="98.1" y2="772.6999999999999" stroke="#111" stroke-width="1.2" />
<text x="98.1" y="790" font-size="11.5" fill="#111" text-anchor="middle" font-weight="normal" font-family="'Liberation Sans', sans-serif" stroke="#111" stroke-width="0.3">100</text>
<line x1="126.69999999999999" y1="776.3" x2="126.69999999999999" y2="772.6999999999999" stroke="#111" stroke-width="1.2" />
<text x="126.69999999999999" y="790" font-size="11.5" fill="#111" text-anchor="middle" font-weight="normal" font-family="'Liberation Sans', sans-serif" stroke="#111" stroke-width="0.3">200</text>
<line x1="155.3" y1="776.3" x2="155.3" y2="772.6999999999999" stroke="#111" stroke-width="1.2" />
<text x="155.3" y="790" font-size="11.5" fill="#111" text-anchor="middle" font-weight="normal" font-family="'Liberation Sans', sans-serif" stroke="#111" stroke-width="0.3">300</text>
<line x1="183.89999999999998" y1="776.3" x2="183.89999999999998" y2="772.6999999999999" stroke="#111" stroke-width="1.2" />
<text x="183.89999999999998" y="790" font-size="11.5" fill="#111" text-anchor="middle" font-weight="normal" font-family="'Liberation Sans', sans-serif" stroke="#111" stroke-width="0.3">400</text>
<line x1="212.5" y1="776.3" x2="212.5" y2="772.6999999999999" stroke="#111" stroke-width="1.2" />
<text x="212.5" y="790" font-size="11.5" fill="#111" text-anchor="middle" font-weight="normal" font-family="'Liberation Sans', sans-serif" stroke="#111" stroke-width="0.3">500</text>
<line x1="241.1" y1="776.3" x2="241.1" y2="772.6999999999999" stroke="#111" stroke-width="1.2" />
<text x="241.1" y="790" font-size="11.5" fill="#111" text-anchor="middle" font-weight="normal" font-family="'Liberation Sans', sans-serif" stroke="#111" stroke-width="0.3">600</text>
<line x1="269.7" y1="776.3" x2="269.7" y2="772.6999999999999" stroke="#111" stroke-width="1.2" />
<text x="269.7" y="790" font-size="11.5" fill="#111" text-anchor="middle" font-weight="normal" font-family="'Liberation Sans', sans-serif" stroke="#111" stroke-width="0.3">700</text>
<line x1="83.8" y1="776.3" x2="83.8" y2="774.6999999999999" stroke="#111" stroke-width="0.8" />
<line x1="112.4" y1="776.3" x2="112.4" y2="774.6999999999999" stroke="#111" stroke-width="0.8" />
<line x1="141.0" y1="776.3" x2="141.0" y2="774.6999999999999" stroke="#111" stroke-width="0.8" />
<line x1="169.6" y1="776.3" x2="169.6" y2="774.6999999999999" stroke="#111" stroke-width="0.8" />
<line x1="198.2" y1="776.3" x2="198.2" y2="774.6999999999999" stroke="#111" stroke-width="0.8" />
<line x1="226.79999999999998" y1="776.3" x2="226.79999999999998" y2="774.6999999999999" stroke="#111" stroke-width="0.8" />
<line x1="255.39999999999998" y1="776.3" x2="255.39999999999998" y2="774.6999999999999" stroke="#111" stroke-width="0.8" />
<line x1="70.3" y1="766.5" x2="73.89999999999999" y2="766.5" stroke="#111" stroke-width="1.2" />
<text x="65.5" y="770.5" font-size="11.5" fill="#111" text-anchor="end" font-weight="normal" font-family="'Liberation Sans', sans-serif" stroke="#111" stroke-width="0.3">4</text>
<line x1="70.3" y1="741.6" x2="73.89999999999999" y2="741.6" stroke="#111" stroke-width="1.2" />
<text x="65.5" y="745.6" font-size="11.5" fill="#111" text-anchor="end" font-weight="normal" font-family="'Liberation Sans', sans-serif" stroke="#111" stroke-width="0.3">5</text>
<line x1="70.3" y1="716.7" x2="73.89999999999999" y2="716.7" stroke="#111" stroke-width="1.2" />
<text x="65.5" y="720.7" font-size="11.5" fill="#111" text-anchor="end" font-weight="normal" font-family="'Liberation Sans', sans-serif" stroke="#111" stroke-width="0.3">6</text>
<line x1="70.3" y1="691.8" x2="73.89999999999999" y2="691.8" stroke="#111" stroke-width="1.2" />
<text x="65.5" y="695.8" font-size="11.5" fill="#111" text-anchor="end" font-weight="normal" font-family="'Liberation Sans', sans-serif" stroke="#111" stroke-width="0.3">7</text>
<line x1="70.3" y1="666.9" x2="73.89999999999999" y2="666.9" stroke="#111" stroke-width="1.2" />
<text x="65.5" y="670.9" font-size="11.5" fill="#111" text-anchor="end" font-weight="normal" font-family="'Liberation Sans', sans-serif" stroke="#111" stroke-width="0.3">8</text>
<line x1="70.3" y1="642.0" x2="73.89999999999999" y2="642.0" stroke="#111" stroke-width="1.2" />
<text x="65.5" y="646.0" font-size="11.5" fill="#111" text-anchor="end" font-weight="normal" font-family="'Liberation Sans', sans-serif" stroke="#111" stroke-width="0.3">9</text>
<line x1="70.3" y1="754.05" x2="71.89999999999999" y2="754.05" stroke="#111" stroke-width="0.8" />
<line x1="70.3" y1="729.15" x2="71.89999999999999" y2="729.15" stroke="#111" stroke-width="0.8" />
<line x1="70.3" y1="704.25" x2="71.89999999999999" y2="704.25" stroke="#111" stroke-width="0.8" />
<line x1="70.3" y1="679.35" x2="71.89999999999999" y2="679.35" stroke="#111" stroke-width="0.8" />
<line x1="70.3" y1="654.45" x2="71.89999999999999" y2="654.45" stroke="#111" stroke-width="0.8" />
<line x1="70.3" y1="629.55" x2="71.89999999999999" y2="629.55" stroke="#111" stroke-width="0.8" />
<text x="0" y="0" font-size="12" fill="#111" text-anchor="middle" font-weight="normal" font-family="'Liberation Sans', sans-serif" stroke="#111" stroke-width="0.25" transform="translate(54.3,700.5) rotate(-90)">PSC (µA)</text>
<text x="177.5" y="801" font-size="12" fill="#111" text-anchor="middle" font-weight="normal" font-family="'Liberation Sans', sans-serif" stroke="#111" stroke-width="0.25">Time (s)</text>
<text x="32.6" y="629.3" font-size="14.6" fill="#222" text-anchor="start" font-weight="normal" font-family="'Liberation Serif', serif" letter-spacing="0.8">(h)</text>
<text x="91.5" y="753" font-size="10.8" fill="#f020e0" text-anchor="middle" font-weight="normal" font-family="'Liberation Sans', sans-serif" >7</text>
<text x="120" y="742.8" font-size="10.8" fill="#e8a020" text-anchor="middle" font-weight="normal" font-family="'Liberation Sans', sans-serif" >8</text>
<text x="149.5" y="731" font-size="10.8" fill="#10a020" text-anchor="middle" font-weight="normal" font-family="'Liberation Sans', sans-serif" >9</text>
<text x="178" y="721" font-size="10.8" fill="#f03060" text-anchor="middle" font-weight="normal" font-family="'Liberation Sans', sans-serif" >10</text>
<text x="205.5" y="715.4" font-size="10.8" fill="#2040f0" text-anchor="middle" font-weight="normal" font-family="'Liberation Sans', sans-serif" >11</text>
<text x="235.4" y="702.6" font-size="10.8" fill="#ff7010" text-anchor="middle" font-weight="normal" font-family="'Liberation Sans', sans-serif" >12</text>
<text x="264" y="689" font-size="10.8" fill="#d020c8" text-anchor="middle" font-weight="normal" font-family="'Liberation Sans', sans-serif" >13</text>
<text x="72.4" y="728.8" font-size="8" fill="#ff50b0" text-anchor="start" font-weight="normal" font-family="'Liberation Sans', sans-serif" >-Threshold-</text>
<text x="181" y="634" font-size="8.7" fill="#111" text-anchor="start" font-weight="normal" font-family="'Liberation Sans', sans-serif" >Light: 808 nm</text>
<text x="181" y="645" font-size="8.7" fill="#111" text-anchor="start" font-weight="normal" font-family="'Liberation Sans', sans-serif" >Width: 50 s</text>
<text x="181" y="656" font-size="8.7" fill="#111" text-anchor="start" font-weight="normal" font-family="'Liberation Sans', sans-serif" >Intensity: 7 ~ 13 mW/cm<tspan font-size="5.8" dy="-3.2">2</tspan></text>
<rect x="83.6" y="620" width="85.1" height="68" fill="#fff" stroke="#111" stroke-width="1.1" />
<line x1="93.2" y1="672.2080000000001" x2="162.62" y2="629.048" stroke="#666" stroke-width="0.9" />
<line x1="93.2" y1="671.2120000000001" x2="93.2" y2="688" stroke="#f020e0" stroke-width="0.7" opacity="0.6"/>
<circle cx="93.2" cy="671.2" r="2.1" fill="#f020e0"/>
<line x1="104.77000000000001" y1="664.572" x2="104.77000000000001" y2="688" stroke="#e8a020" stroke-width="0.7" opacity="0.6"/>
<circle cx="104.8" cy="664.6" r="2.1" fill="#e8a020"/>
<line x1="116.34" y1="656.272" x2="116.34" y2="688" stroke="#10a020" stroke-width="0.7" opacity="0.6"/>
<circle cx="116.3" cy="656.3" r="2.1" fill="#10a020"/>
<line x1="127.91" y1="650.13" x2="127.91" y2="688" stroke="#f03060" stroke-width="0.7" opacity="0.6"/>
<circle cx="127.9" cy="650.1" r="2.1" fill="#f03060"/>
<line x1="139.48000000000002" y1="645.648" x2="139.48000000000002" y2="688" stroke="#2040f0" stroke-width="0.7" opacity="0.6"/>
<circle cx="139.5" cy="645.6" r="2.1" fill="#2040f0"/>
<line x1="151.05" y1="636.0200000000001" x2="151.05" y2="688" stroke="#ff7010" stroke-width="0.7" opacity="0.6"/>
<circle cx="151.1" cy="636.0" r="2.1" fill="#ff7010"/>
<line x1="162.62" y1="628.5500000000001" x2="162.62" y2="688" stroke="#d020c8" stroke-width="0.7" opacity="0.6"/>
<circle cx="162.6" cy="628.6" r="2.1" fill="#d020c8"/>
<line x1="93.2" y1="688" x2="93.2" y2="686" stroke="#111" stroke-width="0.8" />
<text x="93.2" y="696.3" font-size="7.6" fill="#111" text-anchor="middle" font-weight="normal" font-family="'Liberation Sans', sans-serif" >7</text>
<line x1="104.77000000000001" y1="688" x2="104.77000000000001" y2="686" stroke="#111" stroke-width="0.8" />
<text x="104.77000000000001" y="696.3" font-size="7.6" fill="#111" text-anchor="middle" font-weight="normal" font-family="'Liberation Sans', sans-serif" >8</text>
<line x1="116.34" y1="688" x2="116.34" y2="686" stroke="#111" stroke-width="0.8" />
<text x="116.34" y="696.3" font-size="7.6" fill="#111" text-anchor="middle" font-weight="normal" font-family="'Liberation Sans', sans-serif" >9</text>
<line x1="127.91" y1="688" x2="127.91" y2="686" stroke="#111" stroke-width="0.8" />
<text x="127.91" y="696.3" font-size="7.6" fill="#111" text-anchor="middle" font-weight="normal" font-family="'Liberation Sans', sans-serif" >10</text>
<line x1="139.48000000000002" y1="688" x2="139.48000000000002" y2="686" stroke="#111" stroke-width="0.8" />
<text x="139.48000000000002" y="696.3" font-size="7.6" fill="#111" text-anchor="middle" font-weight="normal" font-family="'Liberation Sans', sans-serif" >11</text>
<line x1="151.05" y1="688" x2="151.05" y2="686" stroke="#111" stroke-width="0.8" />
<text x="151.05" y="696.3" font-size="7.6" fill="#111" text-anchor="middle" font-weight="normal" font-family="'Liberation Sans', sans-serif" >12</text>
<line x1="162.62" y1="688" x2="162.62" y2="686" stroke="#111" stroke-width="0.8" />
<text x="162.62" y="696.3" font-size="7.6" fill="#111" text-anchor="middle" font-weight="normal" font-family="'Liberation Sans', sans-serif" >13</text>
<line x1="83.6" y1="674.2" x2="85.6" y2="674.2" stroke="#111" stroke-width="0.8" />
<text x="81.5" y="676.9000000000001" font-size="7.6" fill="#111" text-anchor="end" font-weight="normal" font-family="'Liberation Sans', sans-serif" >5</text>
<line x1="83.6" y1="657.6" x2="85.6" y2="657.6" stroke="#111" stroke-width="0.8" />
<text x="81.5" y="660.3000000000001" font-size="7.6" fill="#111" text-anchor="end" font-weight="normal" font-family="'Liberation Sans', sans-serif" >6</text>
<line x1="83.6" y1="641.0" x2="85.6" y2="641.0" stroke="#111" stroke-width="0.8" />
<text x="81.5" y="643.7" font-size="7.6" fill="#111" text-anchor="end" font-weight="normal" font-family="'Liberation Sans', sans-serif" >7</text>
<line x1="83.6" y1="624.4000000000001" x2="85.6" y2="624.4000000000001" stroke="#111" stroke-width="0.8" />
<text x="81.5" y="627.1000000000001" font-size="7.6" fill="#111" text-anchor="end" font-weight="normal" font-family="'Liberation Sans', sans-serif" >8</text>
<text x="124.5" y="705.8" font-size="8.3" fill="#111" text-anchor="middle" font-weight="normal" font-family="'Liberation Sans', sans-serif" >Intensity (mW/cm<tspan font-size="5.5" dy="-2.8">2</tspan><tspan dy="2.8">)</tspan></text>
<text x="93.2" y="636.5" font-size="7.3" fill="#444" text-anchor="start" font-weight="normal" font-family="'Liberation Sans', sans-serif" >Slope ~ 0.42</text>
<text x="291.1" y="629" font-size="14.6" fill="#222" text-anchor="start" font-weight="normal" font-family="'Liberation Serif', serif" letter-spacing="0.8">(i)</text>
<text x="311.5" y="650" font-size="9.5" fill="#ff2020" text-anchor="middle" font-weight="bold" font-family="'Liberation Sans', sans-serif" >Light</text>
<polygon points="298.5,658.0 324.3,655.4 324.3,667.7 298.5,664.0" fill="url(#redbeam)" />
<text x="356.7" y="629.5" font-size="9" fill="#f07a20" text-anchor="middle" font-weight="bold" font-family="'Liberation Sans', sans-serif" >Eye</text>
<path d="M335,652 Q340,637 361,634 L360,638 Q346,642 341,654 Z" fill="#f8c848"/>
<path d="M337,650 Q345,639 360,636" fill="none" stroke="#f09020" stroke-width="1.5"/>
<path d="M335,672 Q340,686 361,688 L360,684 Q346,681 341,670 Z" fill="#f8c848"/>
<path d="M337,674 Q345,684 360,686" fill="none" stroke="#f09020" stroke-width="1.5"/>
<path d="M358,634 l5,-1.5 l-2,3.5 Z M358,688 l5,1.5 l-2,-3.5 Z" fill="#e83020"/>
<ellipse cx="358.5" cy="663" rx="17" ry="20" fill="#f09a58"/>
<ellipse cx="360" cy="663" rx="14" ry="17" fill="#e8783c"/>
<ellipse cx="361" cy="663" rx="12" ry="15" fill="#f8cfa0"/>
<path d="M355,652 q4,4 1,9 q-3,5 2,10 M362,650 q3,6 0,12 q-2,6 3,11 M367,655 q-2,5 1,9" fill="none" stroke="#e89070" stroke-width="0.7"/>
<ellipse cx="343" cy="661.5" rx="5" ry="10" fill="#cfe0f2"/>
<ellipse cx="342" cy="658" rx="2" ry="4" fill="#ffffff" opacity="0.8"/>
<path d="M374,664 L384,667" stroke="#f0d080" stroke-width="3.5" fill="none"/>
<path d="M384,667 Q389,667 394,664" stroke="#c04040" stroke-width="1" fill="none"/>
<g stroke="#4a78e8" stroke-width="1.1" fill="none" stroke-linecap="round">
<path d="M404,651 L392,644 L387,638 M392,644 L386,646 M404,651 L396,637 L394,632 M396,637 L399,633 M404,651 L412,641 L415,636 M412,641 L418,642 M404,651 L390,657 L385,658 M390,657 L389,662 M404,651 L398,664 L395,668 M398,664 L402,668 M404,651 L413,662 L416,667"/>
</g>
<circle cx="404" cy="651.4" r="4" fill="#2a5ae0"/><circle cx="404" cy="651.4" r="1.8" fill="#1030a0"/>
<line x1="407" y1="653" x2="442" y2="668" stroke="#5a80e0" stroke-width="1.6" />
<line x1="407" y1="653" x2="442" y2="668" stroke="#f0a0a0" stroke-width="1.6" stroke-dasharray="3,3"/>
<text x="0" y="0" font-size="9.2" fill="#3a5ad0" text-anchor="middle" font-weight="normal" font-family="'Liberation Sans', sans-serif" transform="translate(432,639.5) rotate(25)" font-style="italic">Neural network</text>
<g stroke="#f8dccc" stroke-width="1.4" stroke-linecap="round">
<path d="M453.5,670 L471.2,673.1"/>
<path d="M453.5,670 L466.0,682.9"/>
<path d="M453.5,670 L456.0,687.8"/>
<path d="M453.5,670 L445.0,685.9"/>
<path d="M453.5,670 L437.3,677.9"/>
<path d="M453.5,670 L435.8,666.9"/>
<path d="M453.5,670 L441.0,657.1"/>
<path d="M453.5,670 L451.0,652.2"/>
<path d="M453.5,670 L462.0,654.1"/>
<path d="M453.5,670 L469.7,662.1"/>
</g>
<circle cx="453.5" cy="670" r="10" fill="#fcd8c4"/>
<circle cx="455" cy="670.5" r="4" fill="#f08a48"/>
<circle cx="443.6" cy="673.2" r="3" fill="none" stroke="#f040a0" stroke-width="1"/><circle cx="443.6" cy="673.2" r="1" fill="#f040a0"/>
<text x="444.3" y="688" font-size="8.8" fill="#f040a0" text-anchor="middle" font-weight="normal" font-family="'Liberation Sans', sans-serif" >Synapse</text>
<path d="M518,628.8 Q532,629 538.4,637 Q541,646 539.8,651.4 Q538,660 536.2,666 Q533,672 534,677.5 Q534,684 535.5,690.6 L503.5,690.6 Q503,686 499,683.4 Q492,682 491.8,679 Q491,675 490.4,670.3 Q488,667 489,664.5 L486.7,661.5 Q490,656 491.8,652.8 Q492,647 494,644 Q496,636 499,634 Q507,628.5 518,628.8 Z" fill="url(#headg)"/>
<g stroke="#58c0f0" stroke-width="0.7" fill="none" opacity="0.85">
<path d="M503,640 Q512,633 526,637 Q534,642 533,652 M507,647 Q516,641 528,646 M512,654 Q521,650 530,657 M522,658 a6,5 0 1,0 12,0 a6,5 0 1,0 -12,0 M510,645 a7,6 0 1,0 13,0 a7,6 0 1,0 -13,0"/>
</g>
<ellipse cx="516.5" cy="644" rx="4.5" ry="3" fill="#f06a20"/>
<circle cx="495.5" cy="652.8" r="5.5" fill="#ff2050" opacity="0.45"/><circle cx="495.5" cy="652.8" r="3.6" fill="#ff2050"/><circle cx="495.5" cy="652.8" r="1.4" fill="#fff"/>
<text x="518.8" y="676.8" font-size="9.8" fill="#ffffff" text-anchor="middle" font-weight="bold" font-family="'Liberation Sans', sans-serif" >Brain</text>
<path d="M462,641 Q478,616 500,626 Q510,631 513,637" fill="none" stroke="#f0a838" stroke-width="2.6"/>
<path d="M509,634.5 L516.5,641.5 L506.5,640 Z" fill="#f0a838"/>
<path d="M506.5,719.5 L497,666 L492.5,667.5 L495.5,654.5 L504.5,664 L500.5,665 L511.5,718.5 Z" fill="#ffb0b0" stroke="#ff2828" stroke-width="1.3" stroke-linejoin="round"/>
<rect x="298.8" y="706" width="240.5" height="94.5" fill="none" stroke="#f04080" stroke-width="1.3" rx="7" stroke-dasharray="1.8,1.2"/>
<line x1="443.6" y1="673.2" x2="383.6" y2="706" stroke="#f04080" stroke-width="1.1" stroke-dasharray="1.8,1.2"/>
<text x="353.5" y="720.5" font-size="9.6" fill="#ff1010" text-anchor="middle" font-weight="bold" font-family="'Liberation Sans', sans-serif" >NIR stimuli</text>
<polygon points="351.3,725.0 354.0,725.0 356.5,752.0 349.8,752.0" fill="url(#spike)" />
<polygon points="307.0,775.0 369.0,781.0 396.0,756.0 396.0,759.0 369.0,784.0 307.0,778.0" fill="#5a68c4" />
<polygon points="307.0,771.0 369.0,776.5 396.0,753.0 396.0,756.0 369.0,781.0 307.0,775.0" fill="#7a88dc" />
<polygon points="308.0,768.0 369.0,772.5 394.0,750.0 394.0,753.0 369.0,777.0 308.0,771.5" fill="#92e47a" />
<polygon points="308.0,764.0 369.0,768.0 369.0,772.0 308.0,768.0" fill="#a8a236" />
<polygon points="369.0,768.0 390.0,748.0 390.0,752.0 369.0,772.0" fill="#989230" />
<polygon points="308.0,764.0 328.0,745.0 390.0,748.0 369.0,768.0" fill="#c4bc4c" />
<line x1="312.4" y1="765.0" x2="331.4" y2="746.0" stroke="#2a9cc0" stroke-width="3.0" />
<line x1="311.8" y1="764.2" x2="330.8" y2="745.2" stroke="#46cdf0" stroke-width="2.6" />
<line x1="320.0" y1="765.5" x2="339.0" y2="746.5" stroke="#2a9cc0" stroke-width="3.0" />
<line x1="319.4" y1="764.8" x2="338.4" y2="745.8" stroke="#46cdf0" stroke-width="2.6" />
<line x1="327.7" y1="766.0" x2="346.7" y2="747.0" stroke="#2a9cc0" stroke-width="3.0" />
<line x1="327.1" y1="765.2" x2="346.1" y2="746.2" stroke="#46cdf0" stroke-width="2.6" />
<line x1="335.3" y1="766.5" x2="354.3" y2="747.5" stroke="#2a9cc0" stroke-width="3.0" />
<line x1="334.7" y1="765.8" x2="353.7" y2="746.8" stroke="#46cdf0" stroke-width="2.6" />
<line x1="342.9" y1="767.0" x2="361.9" y2="748.0" stroke="#2a9cc0" stroke-width="3.0" />
<line x1="342.3" y1="766.2" x2="361.3" y2="747.2" stroke="#46cdf0" stroke-width="2.6" />
<line x1="350.5" y1="767.5" x2="369.5" y2="748.5" stroke="#2a9cc0" stroke-width="3.0" />
<line x1="349.9" y1="766.8" x2="368.9" y2="747.8" stroke="#46cdf0" stroke-width="2.6" />
<line x1="358.2" y1="768.0" x2="377.2" y2="749.0" stroke="#2a9cc0" stroke-width="3.0" />
<line x1="357.6" y1="767.2" x2="376.6" y2="748.2" stroke="#46cdf0" stroke-width="2.6" />
<line x1="365.8" y1="768.5" x2="384.8" y2="749.5" stroke="#2a9cc0" stroke-width="3.0" />
<line x1="365.2" y1="767.8" x2="384.2" y2="748.8" stroke="#46cdf0" stroke-width="2.6" />
<polygon points="352.0,725.0 354.5,725.0 357.5,752.0 349.0,752.0" fill="url(#spike)" />
<text x="352" y="795.5" font-size="9.2" fill="#8040d0" text-anchor="middle" font-weight="bold" font-family="'Liberation Sans', sans-serif" >Synaptic memristor</text>
<text x="412" y="736" font-size="9.8" fill="#f0307a" text-anchor="middle" font-weight="normal" font-family="'Liberation Sans', sans-serif" >PSC</text>
<path d="M396.5,747.5 q3,-6 6,0 t6,0 t6,0 t6,0 t6,0" fill="none" stroke="#f0307a" stroke-width="1.6"/>
<line x1="432.9" y1="786.5" x2="432.9" y2="716" stroke="#999" stroke-width="0.9" />
<path d="M430.9,718 L432.9,713.5 L434.9,718 Z" fill="#999"/>
<line x1="432.9" y1="786.5" x2="529" y2="786.5" stroke="#999" stroke-width="0.9" />
<path d="M527,784.5 L531.5,786.5 L527,788.5 Z" fill="#999"/>
<line x1="432.9" y1="759" x2="447" y2="759" stroke="#20a090" stroke-width="0.9" stroke-dasharray="3,1.5,1,1.5"/>
<line x1="432.9" y1="742.8" x2="478" y2="742.8" stroke="#ff9a60" stroke-width="0.9" stroke-dasharray="3,1.5,1,1.5"/>
<line x1="432.9" y1="726" x2="506.7" y2="726" stroke="#ff3030" stroke-width="0.9" stroke-dasharray="3,1.5,1,1.5"/>
<rect x="446.9" y="758.5" width="15.3" height="24.2" fill="url(#teal)" stroke="#30b090" stroke-width="0.8" />
<rect x="478.2" y="742.8" width="15.3" height="37.4" fill="url(#peach)" stroke="#ff9a60" stroke-width="0.8" />
<rect x="506.7" y="725.5" width="15.3" height="50.9" fill="url(#redbar)" stroke="#ff2020" stroke-width="0.9" />
<text x="455.2" y="756.5" font-size="9.4" fill="#20a090" text-anchor="middle" font-weight="normal" font-family="'Liberation Sans', sans-serif" >Innocuous</text>
<text x="483.5" y="740.5" font-size="9.4" fill="#ffa070" text-anchor="middle" font-weight="normal" font-family="'Liberation Sans', sans-serif" >Threshold</text>
<text x="510.2" y="722" font-size="9.3" fill="#ff2828" text-anchor="middle" font-weight="normal" font-family="'Liberation Sans', sans-serif" stroke="#ff2828" stroke-width="0.35">Nociceptive</text>
<text x="480.6" y="796.5" font-size="8.4" fill="#333" text-anchor="middle" font-weight="normal" font-family="'Liberation Sans', sans-serif" >Stimulus intensity</text>
<rect x="128.71" y="842" width="62.304" height="125.39999999999998" fill="#fde4fe" stroke="none" stroke-width="1" />
<rect x="191.014" y="845" width="35.82479999999998" height="122.39999999999998" fill="#b4faf8" stroke="none" stroke-width="1" />
<line x1="70" y1="841.4" x2="226.06" y2="841.4" stroke="#e0a040" stroke-width="1.0" stroke-dasharray="1.5,1.5"/>
<line x1="226.44940000000003" y1="841.4" x2="226.44940000000003" y2="967.6" stroke="#e0a040" stroke-width="1.0" stroke-dasharray="1.5,1.5"/>
<path d="M70.3,942.4 L71.0,941.1 L71.8,942.8 L72.5,940.9 L73.3,942.6 L74.0,941.5 L74.7,942.3 L75.5,941.9 L76.2,941.4 L77.0,941.6 L77.7,941.9 L78.4,939.7 L79.2,941.5 L79.9,942.4 L80.7,940.7 L81.4,940.8 L82.1,940.5 L82.9,940.0 L83.6,942.3 L84.3,940.6 L85.1,940.6 L85.8,941.5 L86.6,941.3 L87.3,944.1 L88.0,942.0 L88.8,940.0 L89.5,943.0 L90.3,942.0 L91.0,941.3 L91.7,941.0 L92.5,940.2 L93.2,943.0 L94.0,941.5 L94.7,940.8 L95.4,942.6 L96.2,941.6 L96.9,939.9 L97.7,940.4 L98.4,941.1 L99.1,943.7 L99.9,941.6 L100.6,941.2 L101.4,941.8 L102.1,941.6 L102.8,938.9 L103.6,941.7 L104.3,942.4 L105.1,941.3 L105.8,941.8 L106.5,941.8 L107.3,941.6 L108.0,940.9 L108.7,941.3 L109.5,942.6 L110.2,941.6 L111.0,941.1 L111.7,941.9 L112.4,940.6 L113.2,940.9 L113.9,942.4 L114.7,941.3 L115.4,939.9 L116.1,940.2 L116.9,941.6 L117.6,940.8 L118.4,942.1 L119.1,942.8 L119.8,941.1 L120.6,941.3 L121.3,941.1 L122.1,941.6 L122.8,941.3 L123.5,942.0 L124.3,941.1 L125.0,940.8 L125.8,941.6 L126.5,940.8 L127.2,943.0 L128.0,942.2 L128.7,940.3 L128.7,940.4 L129.2,914.4 L129.7,897.7 L130.2,887.6 L130.7,879.5 L131.2,874.5 L131.6,872.6 L132.1,868.8 L132.6,866.9 L133.1,865.3 L133.6,865.0 L134.1,862.7 L134.6,863.0 L135.1,860.1 L135.6,860.0 L136.0,860.0 L136.5,857.6 L137.0,856.9 L137.5,857.4 L138.0,854.9 L138.5,856.2 L139.0,854.8 L139.5,853.6 L140.0,855.3 L140.5,852.7 L140.9,852.8 L141.4,852.3 L141.9,852.5 L142.4,851.2 L142.9,851.7 L143.4,851.2 L143.9,850.5 L144.4,850.7 L144.9,848.5 L145.3,850.1 L145.8,849.4 L146.3,848.8 L146.8,848.3 L147.3,847.6 L147.8,847.3 L148.3,847.8 L148.8,847.6 L149.3,847.1 L149.7,846.4 L150.2,846.3 L150.7,846.9 L151.2,847.7 L151.7,844.9 L152.2,845.5 L152.7,845.7 L153.2,845.6 L153.7,846.0 L154.1,846.1 L154.6,845.6 L155.1,845.4 L155.6,845.5 L156.1,846.0 L156.6,845.1 L157.1,844.5 L157.6,845.1 L158.1,844.7 L158.6,845.9 L159.0,844.6 L159.5,844.5 L160.0,845.1 L160.5,845.4 L161.0,844.0 L161.5,844.7 L162.0,843.8 L162.5,844.3 L163.0,843.6 L163.4,844.2 L163.9,844.9 L164.4,843.9 L164.9,844.0 L165.4,843.4 L165.9,844.0 L166.4,843.9 L166.9,843.1 L167.4,842.9 L167.8,843.1 L168.3,842.9 L168.8,843.2 L169.3,843.0 L169.8,842.9 L170.3,843.2 L170.8,843.4 L171.3,843.3 L171.8,841.9 L172.2,843.4 L172.7,843.5 L173.2,843.6 L173.7,843.3 L174.2,843.1 L174.7,844.0 L175.2,844.5 L175.7,843.1 L176.2,844.3 L176.7,843.1 L177.1,843.1 L177.6,842.5 L178.1,842.1 L178.6,842.9 L179.1,843.5 L179.6,843.9 L180.1,843.7 L180.6,843.1 L181.1,844.4 L181.5,843.1 L182.0,843.1 L182.5,842.7 L183.0,843.3 L183.5,843.0 L184.0,843.6 L184.5,843.4 L185.0,844.2 L185.5,843.0 L185.9,842.1 L186.4,843.0 L186.9,842.8 L187.4,843.7 L187.9,842.1 L188.4,843.5 L188.9,842.5 L189.4,843.0 L189.9,843.6 L190.3,842.4 L190.8,843.0 L191.3,842.9 L191.8,842.7 L192.3,843.0 L192.8,843.3 L193.3,842.7 L193.8,843.3 L194.3,843.0 L194.8,843.4 L195.2,844.0 L195.7,843.4 L196.2,843.3 L196.7,843.0 L197.2,842.3 L197.7,844.1 L198.2,842.9 L198.7,844.4 L199.2,843.7 L199.6,843.3 L200.1,844.4 L200.6,844.2 L201.1,842.9 L201.6,842.9 L202.1,843.1 L202.6,843.5 L203.1,841.6 L203.6,843.1 L204.0,843.5 L204.5,841.9 L205.0,842.6 L205.5,843.2 L206.0,842.2 L206.5,842.9 L207.0,842.6 L207.5,842.8 L208.0,843.6 L208.4,842.4 L208.9,842.9 L209.4,843.6 L209.9,843.5 L210.4,842.4 L210.9,843.2 L211.4,843.0 L211.9,842.6 L212.4,842.9 L212.9,843.9 L213.3,842.6 L213.8,842.4 L214.3,842.4 L214.8,842.0 L215.3,842.7 L215.8,842.5 L216.3,842.0 L216.8,843.2 L217.3,841.9 L217.7,841.9 L218.2,842.5 L218.7,841.8 L219.2,842.4 L219.7,843.5 L220.2,842.3 L220.7,842.8 L221.2,842.7 L221.7,842.9 L222.1,842.1 L222.6,842.6 L223.1,843.4 L223.6,842.7 L224.1,842.5 L224.6,843.4 L225.1,843.3 L225.6,843.2 L226.1,843.4 L226.1,842.8 L226.6,854.7 L227.0,864.7 L227.5,873.9 L228.0,881.6 L228.5,888.0 L229.0,893.5 L229.5,899.3 L230.0,903.0 L230.5,906.9 L231.0,910.4 L231.5,913.4 L232.0,916.0 L232.4,918.2 L232.9,920.7 L233.4,921.6 L233.9,923.6 L234.4,925.0 L234.9,926.2 L235.4,927.3 L235.9,929.1 L236.4,929.8 L236.9,931.5 L237.3,932.7 L237.8,933.4 L238.3,932.3 L238.8,934.7 L239.3,934.2 L239.8,934.2 L240.3,935.7 L240.8,935.2 L241.3,935.5 L241.8,936.4 L242.3,936.1 L242.7,937.3 L243.2,938.3 L243.7,938.0 L244.2,938.8 L244.7,939.5 L245.2,939.7 L245.7,938.1 L246.2,939.8 L246.7,939.7 L247.2,940.2 L247.7,940.0 L248.1,940.4 L248.6,940.6 L249.1,941.1 L249.6,941.4 L250.1,941.1 L250.6,940.7 L251.1,939.9 L251.6,940.5 L252.1,940.2 L252.6,941.0 L253.1,941.4 L253.5,942.1 L254.0,941.5 L254.5,942.6 L255.0,941.7 L255.5,940.8 L256.0,941.5 L256.5,941.2 L257.0,942.0 L257.5,942.5 L258.0,942.1 L258.5,942.1 L258.9,941.3 L259.4,941.0 L259.9,942.4 L260.4,942.2 L260.9,942.1 L261.4,942.2 L261.9,942.7 L262.4,942.1 L262.9,941.9 L263.4,941.9 L263.9,942.8 L264.3,942.2 L264.8,943.1 L265.3,941.7 L265.8,942.7 L266.3,942.4 L266.8,942.5 L267.3,942.5 L267.8,942.8 L268.3,943.2 L268.8,941.4 L269.3,942.1 L269.7,942.1 L270.2,941.2 L270.7,942.3 L271.2,942.0 L271.7,942.3 L272.2,941.7 L272.7,942.1 L273.2,942.2 L273.7,942.4 L274.2,942.2 L274.7,941.7 L275.1,943.4 L275.6,942.4 L276.1,942.5 L276.6,942.5 L277.1,943.3 L277.6,942.0 L278.1,942.8 L278.6,942.5 L279.1,942.6 L279.6,943.2 L280.1,942.6 L280.5,943.3 L281.0,942.8 L281.5,942.5 L282.0,942.4 L282.5,942.3 L283.0,942.4 L283.5,941.3 L284.0,942.1 L284.5,943.0" fill="none" stroke="#d018c0" stroke-width="3.2" stroke-linejoin="round" />
<rect x="70.3" y="811.2" width="214.59999999999997" height="156.19999999999993" fill="none" stroke="#111" stroke-width="1.5" />
<line x1="70.3" y1="967.4" x2="70.3" y2="963.8" stroke="#111" stroke-width="1.2" />
<text x="70.3" y="980.6" font-size="11.5" fill="#111" text-anchor="middle" font-weight="normal" font-family="'Liberation Sans', sans-serif" stroke="#111" stroke-width="0.3">0</text>
<line x1="109.24" y1="967.4" x2="109.24" y2="963.8" stroke="#111" stroke-width="1.2" />
<text x="109.24" y="980.6" font-size="11.5" fill="#111" text-anchor="middle" font-weight="normal" font-family="'Liberation Sans', sans-serif" stroke="#111" stroke-width="0.3">20</text>
<line x1="148.18" y1="967.4" x2="148.18" y2="963.8" stroke="#111" stroke-width="1.2" />
<text x="148.18" y="980.6" font-size="11.5" fill="#111" text-anchor="middle" font-weight="normal" font-family="'Liberation Sans', sans-serif" stroke="#111" stroke-width="0.3">40</text>
<line x1="187.12" y1="967.4" x2="187.12" y2="963.8" stroke="#111" stroke-width="1.2" />
<text x="187.12" y="980.6" font-size="11.5" fill="#111" text-anchor="middle" font-weight="normal" font-family="'Liberation Sans', sans-serif" stroke="#111" stroke-width="0.3">60</text>
<line x1="226.06" y1="967.4" x2="226.06" y2="963.8" stroke="#111" stroke-width="1.2" />
<text x="226.06" y="980.6" font-size="11.5" fill="#111" text-anchor="middle" font-weight="normal" font-family="'Liberation Sans', sans-serif" stroke="#111" stroke-width="0.3">80</text>
<line x1="265.0" y1="967.4" x2="265.0" y2="963.8" stroke="#111" stroke-width="1.2" />
<text x="265.0" y="980.6" font-size="11.5" fill="#111" text-anchor="middle" font-weight="normal" font-family="'Liberation Sans', sans-serif" stroke="#111" stroke-width="0.3">100</text>
<line x1="89.77" y1="967.4" x2="89.77" y2="965.8" stroke="#111" stroke-width="0.8" />
<line x1="128.71" y1="967.4" x2="128.71" y2="965.8" stroke="#111" stroke-width="0.8" />
<line x1="167.65" y1="967.4" x2="167.65" y2="965.8" stroke="#111" stroke-width="0.8" />
<line x1="206.58999999999997" y1="967.4" x2="206.58999999999997" y2="965.8" stroke="#111" stroke-width="0.8" />
<line x1="245.53000000000003" y1="967.4" x2="245.53000000000003" y2="965.8" stroke="#111" stroke-width="0.8" />
<line x1="70.3" y1="959.3" x2="73.89999999999999" y2="959.3" stroke="#111" stroke-width="1.2" />
<text x="65.5" y="963.3" font-size="11.5" fill="#111" text-anchor="end" font-weight="normal" font-family="'Liberation Sans', sans-serif" stroke="#111" stroke-width="0.3">4</text>
<line x1="70.3" y1="917.0" x2="73.89999999999999" y2="917.0" stroke="#111" stroke-width="1.2" />
<text x="65.5" y="921.0" font-size="11.5" fill="#111" text-anchor="end" font-weight="normal" font-family="'Liberation Sans', sans-serif" stroke="#111" stroke-width="0.3">5</text>
<line x1="70.3" y1="874.6999999999999" x2="73.89999999999999" y2="874.6999999999999" stroke="#111" stroke-width="1.2" />
<text x="65.5" y="878.6999999999999" font-size="11.5" fill="#111" text-anchor="end" font-weight="normal" font-family="'Liberation Sans', sans-serif" stroke="#111" stroke-width="0.3">6</text>
<line x1="70.3" y1="832.4" x2="73.89999999999999" y2="832.4" stroke="#111" stroke-width="1.2" />
<text x="65.5" y="836.4" font-size="11.5" fill="#111" text-anchor="end" font-weight="normal" font-family="'Liberation Sans', sans-serif" stroke="#111" stroke-width="0.3">7</text>
<line x1="70.3" y1="938.15" x2="71.89999999999999" y2="938.15" stroke="#111" stroke-width="0.8" />
<line x1="70.3" y1="895.8499999999999" x2="71.89999999999999" y2="895.8499999999999" stroke="#111" stroke-width="0.8" />
<line x1="70.3" y1="853.55" x2="71.89999999999999" y2="853.55" stroke="#111" stroke-width="0.8" />
<text x="0" y="0" font-size="12" fill="#111" text-anchor="middle" font-weight="normal" font-family="'Liberation Sans', sans-serif" stroke="#111" stroke-width="0.25" transform="translate(53.3,895.8499999999999) rotate(-90)">PSC (µA)</text>
<text x="175.385" y="991.7" font-size="12" fill="#111" text-anchor="middle" font-weight="normal" font-family="'Liberation Sans', sans-serif" stroke="#111" stroke-width="0.25">Time (s)</text>
<text x="32.6" y="822.5" font-size="14.6" fill="#222" text-anchor="start" font-weight="normal" font-family="'Liberation Serif', serif" letter-spacing="0.8">(j)</text>
<text x="80" y="823.5" font-size="9.0" fill="#111" text-anchor="start" font-weight="normal" font-family="'Liberation Sans', sans-serif" >Light pulse: 808 nm, 10 mW/cm<tspan font-size="5.8" dy="-3.2">2</tspan></text>
<text x="80" y="835" font-size="9.0" fill="#111" text-anchor="start" font-weight="normal" font-family="'Liberation Sans', sans-serif" >Width: 50 s</text>
<text x="100.2" y="887.5" font-size="7.6" fill="#f560f0" text-anchor="middle" font-weight="bold" font-family="'Liberation Sans', sans-serif" >Rise constant</text>
<text x="99" y="901" font-size="8.6" fill="#f560f0" text-anchor="middle" font-weight="bold" font-family="'Liberation Sans', sans-serif" >τ<tspan font-size="5.5" dy="2">1</tspan><tspan dy="-2"> = 2.18 s</tspan></text>
<text x="99" y="958.5" font-size="8.8" fill="#111" text-anchor="middle" font-weight="normal" font-family="'Liberation Sans', sans-serif" stroke="#111" stroke-width="0.25">Light on</text>
<line x1="118" y1="955" x2="125.5" y2="950.5" stroke="#111" stroke-width="0.8" />
<path d="M123.5,950 L127,949.5 L125,952.5 Z" fill="#111"/>
<text x="240" y="847.5" font-size="8.6" fill="#111" text-anchor="start" font-weight="normal" font-family="'Liberation Sans', sans-serif" >Light off</text>
<line x1="229.0335" y1="844" x2="238" y2="844" stroke="#111" stroke-width="0.8" />
<path d="M229.0335,844 L233.0335,842.2 L233.0335,845.8 Z" fill="#111"/>
<text x="228.5" y="864.5" font-size="7.6" fill="#20b040" text-anchor="start" font-weight="bold" font-family="'Liberation Sans', sans-serif" >Decay constant</text>
<text x="238" y="876.5" font-size="8.6" fill="#20b040" text-anchor="start" font-weight="bold" font-family="'Liberation Sans', sans-serif" >τ<tspan font-size="5.5" dy="2">2</tspan><tspan dy="-2"> = 2.68s</tspan></text>
<text x="0" y="0" font-size="10" fill="#1a9aac" text-anchor="middle" font-weight="normal" font-family="'Liberation Sans', sans-serif" stroke="#1a9aac" stroke-width="0.3" transform="translate(212.03699999999998,890) rotate(-90)">No-adaptation</text>
<circle cx="226.8" cy="888.2" r="3.2" fill="none" stroke="#ff40a0" stroke-width="1.1"/>
<line x1="230" y1="888.2" x2="239" y2="888.2" stroke="#ff40a0" stroke-width="1.1" />
<path d="M237,886 L241.5,888.2 L237,890.4 Z" fill="#ff40a0"/>
<text x="243" y="892.5" font-size="11" fill="#ff40a0" text-anchor="start" font-weight="normal" font-family="'Liberation Sans', sans-serif" >I<tspan font-size="7" dy="2.5">d</tspan></text>
<line x1="227.0335" y1="943.5" x2="234" y2="943.5" stroke="#ff40a0" stroke-width="0.9" stroke-dasharray="2,1.5"/>
<line x1="246" y1="943.5" x2="253" y2="943.5" stroke="#ff40a0" stroke-width="0.9" stroke-dasharray="2,1.5"/>
<text x="234.5" y="947" font-size="10.5" fill="#ff40a0" text-anchor="start" font-weight="normal" font-family="'Liberation Sans', sans-serif" >T<tspan font-size="7" dy="2.5">d</tspan></text>
<rect x="398.4" y="831" width="32.10000000000002" height="136.29999999999995" fill="#c6f6f9" stroke="none" stroke-width="1" />
<path d="M326.6,957.1 L327.4,957.1 L328.1,957.0 L328.9,957.1 L329.6,957.2 L330.4,956.6 L331.1,957.0 L331.9,957.1 L332.7,957.1 L333.4,957.0 L334.2,956.7 L334.9,956.9 L335.7,956.7 L336.4,957.7 L337.2,956.9 L337.9,956.7 L338.7,956.5 L339.5,957.0 L340.2,957.4 L341.0,956.9 L341.7,957.1 L342.5,957.4 L343.2,957.1 L344.0,956.7 L344.8,956.7 L345.5,956.8 L346.3,957.2 L347.0,956.4 L347.8,957.3 L348.5,957.0 L349.3,957.3 L350.0,956.7 L350.8,956.9 L351.6,956.8 L352.3,957.0 L353.1,957.0 L353.8,956.9 L354.6,957.4 L355.3,956.8 L356.1,956.8 L356.1,957.0 L356.4,950.3 L356.7,945.9 L357.1,942.7 L357.4,941.2 L357.7,940.0 L358.0,939.3 L358.4,938.8 L358.7,938.0 L359.0,937.3 L359.3,937.0 L359.6,936.5 L360.0,936.0 L360.3,935.7 L360.6,935.5 L360.9,935.1 L361.3,934.9 L361.6,934.7 L361.9,934.3 L362.2,934.7 L362.5,933.6 L362.9,934.1 L363.2,933.3 L363.5,933.3 L363.8,932.8 L364.2,932.9 L364.5,933.0 L364.8,932.2 L365.1,932.3 L365.4,932.2 L365.8,932.0 L366.1,931.6 L366.4,931.5 L366.7,931.5 L367.1,931.9 L367.4,931.4 L367.7,931.1 L368.0,930.5 L368.3,930.8 L368.7,930.8 L369.0,930.3 L369.3,930.6 L369.6,930.5 L370.0,930.3 L370.3,930.7 L370.6,929.9 L370.9,929.9 L371.2,930.1 L371.6,930.2 L371.9,929.7 L372.2,929.3 L372.5,929.8 L372.9,929.9 L373.2,929.4 L373.5,929.9 L373.8,930.0 L374.1,929.4 L374.5,929.5 L374.8,929.3 L375.1,929.3 L375.4,929.0 L375.8,929.1 L376.1,929.1 L376.4,929.1 L376.7,928.7 L377.0,928.5 L377.4,928.5 L377.7,928.5 L378.0,929.7 L378.3,929.0 L378.7,928.7 L379.0,928.5 L379.3,929.0 L379.6,928.1 L379.9,928.4 L380.3,928.6 L380.6,928.4 L380.9,928.5 L381.2,928.6 L381.6,928.2 L381.9,928.4 L382.2,928.7 L382.5,928.4 L382.8,928.3 L383.2,928.5 L383.5,927.8 L383.8,928.5 L384.1,927.6 L384.5,927.9 L384.8,928.4 L385.1,928.0 L385.4,927.7 L385.7,928.1 L386.1,928.4 L386.4,928.0 L386.7,927.4 L387.0,928.4 L387.4,927.8 L387.7,928.0 L388.0,928.0 L388.3,928.0 L388.6,928.0 L389.0,927.6 L389.3,927.7 L389.6,928.2 L389.9,927.4 L390.3,928.2 L390.6,927.6 L390.9,927.8 L391.2,927.5 L391.5,927.7 L391.9,927.5 L392.2,927.8 L392.5,927.5 L392.8,927.7 L393.2,927.1 L393.5,928.0 L393.8,927.4 L394.1,927.6 L394.5,927.7" fill="none" stroke="#b040f0" stroke-width="2.4" stroke-linejoin="round" />
<path d="M398.7,926.2 L399.5,925.9 L400.3,926.5 L401.2,926.5 L402.0,925.9 L402.8,926.5 L403.6,925.6 L404.4,926.2 L405.3,926.0 L406.1,926.1 L406.9,926.0 L407.7,926.2 L408.5,926.2 L409.3,926.1 L410.2,925.8 L411.0,925.7 L411.8,925.7 L412.6,926.0 L413.4,926.1 L414.2,926.6 L415.1,925.9 L415.9,925.8 L416.7,926.2 L417.5,925.8 L418.3,925.7 L419.2,926.0 L420.0,925.8 L420.8,926.0 L421.6,926.6 L422.4,926.2 L423.2,926.2 L424.1,925.9 L424.9,926.3 L425.7,926.2 L426.5,926.4 L427.3,926.1 L428.1,926.1 L429.0,925.8 L429.8,925.8 L430.6,926.0 L430.6,926.1 L431.5,928.0 L432.4,929.8 L433.2,931.2 L434.1,933.3 L435.0,934.2 L435.9,935.4 L436.8,936.3 L437.6,937.7 L438.5,938.4 L439.4,939.1 L440.3,940.1 L441.2,941.0 L442.0,941.4 L442.9,942.1 L443.8,942.3 L444.7,943.1 L445.6,943.1 L446.5,943.8 L447.3,944.3 L448.2,944.6 L449.1,945.1 L450.0,945.2 L450.9,945.3 L451.7,945.8 L452.6,945.9 L453.5,946.4 L454.4,946.5 L455.3,946.4 L456.1,947.1 L457.0,946.9 L457.9,947.1 L458.8,947.8 L459.7,947.9 L460.5,948.0 L461.4,947.8 L462.3,948.2 L463.2,948.3 L464.1,948.3 L464.9,948.5 L465.8,948.6 L466.7,948.8 L467.6,948.7 L468.5,949.1 L469.3,948.8 L470.2,949.2 L471.1,949.4 L472.0,949.3 L472.9,949.4 L473.8,949.9 L474.6,949.6 L475.5,950.0 L476.4,950.0 L477.3,949.8 L478.2,950.1 L479.0,950.0 L479.9,950.2 L480.8,950.0 L481.7,950.3 L482.6,950.6 L483.4,950.6 L484.3,950.7 L485.2,950.6 L486.1,950.7 L487.0,950.6 L487.8,950.8 L488.7,950.8 L489.6,950.9 L490.5,951.0 L491.4,951.0 L492.2,951.0 L493.1,951.0 L494.0,951.3 L494.9,951.5 L495.8,951.4 L496.6,951.3 L497.5,951.8 L498.4,951.5 L499.3,951.4 L500.2,951.6 L501.0,951.8 L501.9,951.4 L502.8,951.5 L503.7,951.8 L504.6,951.6 L505.5,951.6 L506.3,952.0 L507.2,951.5 L508.1,952.1 L509.0,952.0 L509.9,952.2 L510.7,952.1 L511.6,952.3 L512.5,952.1 L513.4,952.0 L514.3,952.2 L515.1,952.3 L516.0,952.0 L516.9,952.4 L517.8,952.2 L518.7,952.4 L519.5,952.4 L520.4,952.4 L521.3,952.4 L522.2,952.5 L523.1,952.6 L523.9,952.6 L524.8,952.5 L525.7,952.6 L526.6,952.8 L527.5,952.8 L528.3,952.8 L529.2,952.7 L530.1,952.7 L531.0,952.7 L531.9,952.9 L532.7,952.8 L533.6,953.0 L534.5,953.3 L535.4,952.9" fill="none" stroke="#b040f0" stroke-width="2.3" stroke-linejoin="round" />
<path d="M326.6,958.3 L327.4,958.1 L328.1,958.2 L328.9,957.7 L329.6,958.2 L330.4,957.8 L331.1,958.0 L331.9,958.2 L332.7,958.3 L333.4,957.8 L334.2,957.8 L334.9,957.7 L335.7,957.5 L336.4,957.8 L337.2,957.8 L337.9,957.9 L338.7,957.9 L339.5,958.0 L340.2,958.1 L341.0,957.4 L341.7,958.3 L342.5,957.8 L343.2,957.8 L344.0,957.9 L344.8,958.1 L345.5,957.9 L346.3,958.0 L347.0,958.2 L347.8,957.9 L348.5,958.0 L349.3,958.0 L350.0,957.7 L350.8,958.2 L351.6,957.8 L352.3,958.0 L353.1,957.8 L353.8,957.9 L354.6,957.8 L355.3,958.1 L356.1,958.1 L356.1,957.9 L356.4,947.9 L356.7,941.3 L357.1,937.1 L357.4,934.7 L357.7,932.6 L358.0,931.7 L358.4,930.8 L358.7,929.6 L359.0,928.8 L359.3,928.4 L359.6,928.0 L360.0,926.7 L360.3,926.7 L360.6,926.5 L360.9,924.8 L361.3,925.1 L361.6,924.8 L361.9,924.1 L362.2,924.2 L362.5,923.1 L362.9,923.7 L363.2,923.3 L363.5,922.7 L363.8,922.6 L364.2,921.6 L364.5,922.2 L364.8,921.7 L365.1,921.1 L365.4,920.8 L365.8,920.4 L366.1,920.4 L366.4,919.6 L366.7,920.2 L367.1,919.8 L367.4,919.4 L367.7,919.5 L368.0,919.3 L368.3,919.2 L368.7,919.1 L369.0,919.0 L369.3,918.7 L369.6,918.8 L370.0,918.1 L370.3,918.6 L370.6,917.3 L370.9,917.3 L371.2,917.3 L371.6,917.6 L371.9,917.6 L372.2,916.9 L372.5,917.1 L372.9,916.9 L373.2,917.2 L373.5,916.6 L373.8,917.0 L374.1,916.6 L374.5,917.1 L374.8,916.7 L375.1,916.3 L375.4,916.5 L375.8,916.4 L376.1,915.9 L376.4,916.1 L376.7,915.7 L377.0,916.7 L377.4,915.7 L377.7,915.7 L378.0,916.2 L378.3,916.1 L378.7,915.4 L379.0,915.9 L379.3,915.7 L379.6,915.3 L379.9,915.5 L380.3,915.3 L380.6,915.6 L380.9,915.2 L381.2,914.9 L381.6,915.1 L381.9,915.8 L382.2,915.0 L382.5,915.1 L382.8,915.3 L383.2,914.6 L383.5,915.5 L383.8,914.4 L384.1,915.1 L384.5,914.4 L384.8,914.9 L385.1,915.3 L385.4,914.8 L385.7,914.7 L386.1,914.6 L386.4,914.4 L386.7,915.0 L387.0,914.6 L387.4,914.5 L387.7,914.8 L388.0,914.9 L388.3,914.9 L388.6,914.4 L389.0,914.4 L389.3,914.8 L389.6,915.0 L389.9,914.2 L390.3,915.0 L390.6,914.5 L390.9,914.7 L391.2,915.0 L391.5,914.4 L391.9,914.5 L392.2,914.0 L392.5,913.8 L392.8,914.5 L393.2,914.1 L393.5,914.1 L393.8,914.6 L394.1,914.6 L394.5,913.9" fill="none" stroke="#d4900a" stroke-width="2.4" stroke-linejoin="round" />
<path d="M398.7,912.7 L399.5,912.6 L400.3,912.7 L401.2,912.7 L402.0,912.8 L402.8,912.4 L403.6,912.2 L404.4,912.7 L405.3,913.0 L406.1,912.6 L406.9,913.1 L407.7,912.8 L408.5,912.2 L409.3,911.9 L410.2,912.5 L411.0,912.9 L411.8,912.4 L412.6,913.3 L413.4,912.8 L414.2,912.2 L415.1,912.4 L415.9,913.0 L416.7,913.1 L417.5,912.4 L418.3,912.6 L419.2,912.8 L420.0,912.5 L420.8,912.8 L421.6,913.2 L422.4,912.4 L423.2,912.8 L424.1,912.9 L424.9,913.0 L425.7,912.5 L426.5,912.9 L427.3,912.4 L428.1,912.7 L429.0,912.3 L429.8,912.7 L430.6,912.8 L430.6,912.9 L431.5,915.6 L432.4,918.0 L433.2,920.0 L434.1,922.8 L435.0,924.7 L435.9,926.2 L436.8,927.8 L437.6,929.4 L438.5,930.6 L439.4,932.1 L440.3,933.0 L441.2,933.8 L442.0,934.6 L442.9,935.8 L443.8,936.6 L444.7,937.2 L445.6,937.7 L446.5,938.5 L447.3,939.2 L448.2,939.6 L449.1,940.0 L450.0,940.7 L450.9,941.2 L451.7,941.3 L452.6,941.7 L453.5,942.0 L454.4,942.5 L455.3,942.9 L456.1,943.2 L457.0,943.5 L457.9,943.8 L458.8,944.0 L459.7,944.2 L460.5,944.2 L461.4,944.8 L462.3,944.8 L463.2,945.1 L464.1,945.0 L464.9,945.4 L465.8,945.6 L466.7,945.6 L467.6,945.9 L468.5,946.2 L469.3,946.0 L470.2,946.3 L471.1,946.3 L472.0,946.5 L472.9,946.7 L473.8,946.9 L474.6,947.3 L475.5,947.1 L476.4,947.3 L477.3,947.4 L478.2,947.6 L479.0,947.8 L479.9,948.0 L480.8,947.8 L481.7,947.9 L482.6,948.2 L483.4,948.2 L484.3,948.2 L485.2,948.6 L486.1,948.6 L487.0,948.8 L487.8,948.6 L488.7,948.8 L489.6,949.0 L490.5,949.3 L491.4,949.1 L492.2,949.0 L493.1,949.3 L494.0,949.4 L494.9,949.3 L495.8,949.7 L496.6,949.6 L497.5,949.6 L498.4,949.8 L499.3,949.9 L500.2,949.8 L501.0,949.9 L501.9,950.0 L502.8,950.0 L503.7,950.1 L504.6,950.3 L505.5,950.3 L506.3,950.2 L507.2,950.2 L508.1,950.2 L509.0,950.6 L509.9,950.4 L510.7,950.5 L511.6,950.7 L512.5,950.6 L513.4,950.6 L514.3,950.5 L515.1,951.0 L516.0,950.8 L516.9,951.0 L517.8,951.0 L518.7,950.9 L519.5,951.0 L520.4,951.3 L521.3,951.2 L522.2,951.2 L523.1,951.5 L523.9,951.2 L524.8,951.4 L525.7,951.4 L526.6,951.4 L527.5,951.2 L528.3,951.5 L529.2,951.6 L530.1,951.3 L531.0,951.7 L531.9,951.7 L532.7,951.9 L533.6,951.5 L534.5,951.7 L535.4,951.7" fill="none" stroke="#d4900a" stroke-width="2.3" stroke-linejoin="round" />
<path d="M326.6,957.6 L327.4,957.6 L328.1,957.8 L328.9,957.8 L329.6,957.5 L330.4,957.6 L331.1,957.2 L331.9,957.8 L332.7,957.7 L333.4,957.8 L334.2,957.3 L334.9,957.9 L335.7,957.4 L336.4,957.3 L337.2,957.6 L337.9,957.4 L338.7,958.1 L339.5,957.7 L340.2,958.0 L341.0,957.6 L341.7,957.6 L342.5,957.8 L343.2,957.4 L344.0,957.5 L344.8,957.7 L345.5,957.7 L346.3,958.0 L347.0,957.7 L347.8,957.1 L348.5,957.8 L349.3,957.5 L350.0,957.7 L350.8,957.4 L351.6,957.5 L352.3,957.7 L353.1,958.0 L353.8,957.7 L354.6,957.3 L355.3,957.7 L356.1,957.5 L356.1,957.6 L356.4,945.2 L356.7,936.2 L357.1,930.8 L357.4,927.4 L357.7,924.9 L358.0,922.8 L358.4,921.7 L358.7,920.3 L359.0,919.5 L359.3,919.4 L359.6,918.0 L360.0,917.4 L360.3,916.9 L360.6,915.9 L360.9,915.6 L361.3,914.8 L361.6,914.1 L361.9,913.9 L362.2,913.9 L362.5,913.2 L362.9,912.3 L363.2,912.2 L363.5,911.9 L363.8,911.3 L364.2,910.8 L364.5,910.5 L364.8,910.0 L365.1,910.1 L365.4,909.6 L365.8,909.3 L366.1,908.9 L366.4,909.2 L366.7,908.4 L367.1,908.4 L367.4,907.4 L367.7,907.1 L368.0,906.8 L368.3,906.8 L368.7,906.9 L369.0,906.3 L369.3,906.4 L369.6,906.0 L370.0,906.2 L370.3,905.9 L370.6,905.5 L370.9,904.9 L371.2,905.2 L371.6,904.4 L371.9,904.1 L372.2,905.1 L372.5,904.6 L372.9,904.7 L373.2,904.4 L373.5,904.4 L373.8,904.1 L374.1,903.7 L374.5,903.5 L374.8,903.6 L375.1,903.6 L375.4,903.5 L375.8,903.3 L376.1,903.1 L376.4,903.2 L376.7,902.9 L377.0,903.4 L377.4,902.7 L377.7,902.3 L378.0,902.7 L378.3,903.1 L378.7,902.2 L379.0,902.6 L379.3,903.4 L379.6,902.5 L379.9,902.2 L380.3,902.2 L380.6,901.8 L380.9,902.0 L381.2,902.1 L381.6,902.6 L381.9,902.3 L382.2,901.9 L382.5,901.7 L382.8,902.2 L383.2,902.0 L383.5,901.6 L383.8,902.3 L384.1,902.3 L384.5,901.7 L384.8,901.5 L385.1,901.7 L385.4,902.2 L385.7,901.5 L386.1,901.9 L386.4,901.2 L386.7,901.4 L387.0,901.3 L387.4,901.2 L387.7,901.5 L388.0,901.1 L388.3,900.9 L388.6,901.1 L389.0,900.8 L389.3,901.4 L389.6,900.9 L389.9,901.1 L390.3,901.4 L390.6,901.1 L390.9,901.3 L391.2,901.3 L391.5,901.0 L391.9,900.7 L392.2,901.1 L392.5,901.0 L392.8,901.4 L393.2,901.0 L393.5,900.6 L393.8,900.7 L394.1,900.8 L394.5,901.1" fill="none" stroke="#109a20" stroke-width="2.4" stroke-linejoin="round" />
<path d="M398.7,899.4 L399.5,899.1 L400.3,899.5 L401.2,899.5 L402.0,898.8 L402.8,899.4 L403.6,898.6 L404.4,899.5 L405.3,899.0 L406.1,899.5 L406.9,899.1 L407.7,899.4 L408.5,899.1 L409.3,899.1 L410.2,899.2 L411.0,899.0 L411.8,898.7 L412.6,899.3 L413.4,898.8 L414.2,899.1 L415.1,899.1 L415.9,898.5 L416.7,899.7 L417.5,899.3 L418.3,899.6 L419.2,899.2 L420.0,899.2 L420.8,898.0 L421.6,899.0 L422.4,898.6 L423.2,898.7 L424.1,899.2 L424.9,899.0 L425.7,898.6 L426.5,899.1 L427.3,899.0 L428.1,899.0 L429.0,899.6 L429.8,899.3 L430.6,899.0 L430.6,899.0 L431.5,903.0 L432.4,906.3 L433.2,909.4 L434.1,912.2 L435.0,914.6 L435.9,916.9 L436.8,919.0 L437.6,921.2 L438.5,922.9 L439.4,924.2 L440.3,926.0 L441.2,927.0 L442.0,928.4 L442.9,929.5 L443.8,930.3 L444.7,931.5 L445.6,932.4 L446.5,933.1 L447.3,933.8 L448.2,934.1 L449.1,935.4 L450.0,935.7 L450.9,936.3 L451.7,936.7 L452.6,937.4 L453.5,938.1 L454.4,938.0 L455.3,938.8 L456.1,939.0 L457.0,939.6 L457.9,939.9 L458.8,940.1 L459.7,940.3 L460.5,940.6 L461.4,941.1 L462.3,941.2 L463.2,941.6 L464.1,941.8 L464.9,942.0 L465.8,942.2 L466.7,942.6 L467.6,942.7 L468.5,942.9 L469.3,943.1 L470.2,943.4 L471.1,943.3 L472.0,943.8 L472.9,943.8 L473.8,944.0 L474.6,944.1 L475.5,944.7 L476.4,944.3 L477.3,944.8 L478.2,945.1 L479.0,945.0 L479.9,944.9 L480.8,945.3 L481.7,945.7 L482.6,945.7 L483.4,945.6 L484.3,946.1 L485.2,946.1 L486.1,946.2 L487.0,946.0 L487.8,946.4 L488.7,946.3 L489.6,946.7 L490.5,946.9 L491.4,946.7 L492.2,946.9 L493.1,947.3 L494.0,947.1 L494.9,947.2 L495.8,947.5 L496.6,947.5 L497.5,947.5 L498.4,947.7 L499.3,947.9 L500.2,948.0 L501.0,948.0 L501.9,948.2 L502.8,948.1 L503.7,948.4 L504.6,948.3 L505.5,948.4 L506.3,948.6 L507.2,948.4 L508.1,948.3 L509.0,948.5 L509.9,949.0 L510.7,948.6 L511.6,948.9 L512.5,949.0 L513.4,949.1 L514.3,949.1 L515.1,949.0 L516.0,949.1 L516.9,949.4 L517.8,949.5 L518.7,949.5 L519.5,949.4 L520.4,949.3 L521.3,949.7 L522.2,949.6 L523.1,949.8 L523.9,949.9 L524.8,949.7 L525.7,949.8 L526.6,950.1 L527.5,950.1 L528.3,949.8 L529.2,950.0 L530.1,950.0 L531.0,950.2 L531.9,950.2 L532.7,950.2 L533.6,950.4 L534.5,950.5 L535.4,950.4" fill="none" stroke="#109a20" stroke-width="2.3" stroke-linejoin="round" />
<path d="M326.6,956.8 L327.4,957.3 L328.1,956.8 L328.9,956.8 L329.6,957.2 L330.4,957.0 L331.1,957.0 L331.9,956.9 L332.7,956.8 L333.4,957.3 L334.2,957.3 L334.9,956.8 L335.7,957.0 L336.4,956.9 L337.2,956.9 L337.9,956.6 L338.7,957.3 L339.5,956.7 L340.2,957.2 L341.0,956.8 L341.7,956.7 L342.5,957.3 L343.2,956.9 L344.0,957.1 L344.8,957.1 L345.5,957.0 L346.3,957.3 L347.0,957.2 L347.8,956.9 L348.5,956.8 L349.3,957.1 L350.0,957.4 L350.8,956.5 L351.6,956.7 L352.3,956.9 L353.1,957.3 L353.8,957.1 L354.6,957.0 L355.3,957.2 L356.1,956.6 L356.1,957.0 L356.4,941.1 L356.7,931.4 L357.1,924.8 L357.4,920.4 L357.7,917.0 L358.0,914.9 L358.4,913.2 L358.7,911.7 L359.0,910.6 L359.3,909.2 L359.6,908.8 L360.0,908.3 L360.3,907.2 L360.6,906.1 L360.9,906.0 L361.3,905.1 L361.6,904.6 L361.9,903.8 L362.2,903.3 L362.5,903.0 L362.9,902.3 L363.2,901.4 L363.5,900.9 L363.8,900.5 L364.2,900.0 L364.5,899.9 L364.8,899.5 L365.1,898.7 L365.4,898.9 L365.8,898.2 L366.1,898.3 L366.4,897.5 L366.7,897.3 L367.1,897.1 L367.4,896.3 L367.7,896.3 L368.0,895.9 L368.3,895.6 L368.7,895.5 L369.0,894.6 L369.3,894.9 L369.6,894.4 L370.0,894.6 L370.3,894.1 L370.6,893.9 L370.9,893.6 L371.2,893.5 L371.6,893.1 L371.9,892.5 L372.2,892.8 L372.5,892.6 L372.9,892.5 L373.2,891.5 L373.5,891.6 L373.8,891.8 L374.1,891.6 L374.5,891.8 L374.8,891.5 L375.1,891.3 L375.4,891.2 L375.8,891.3 L376.1,891.2 L376.4,890.7 L376.7,890.7 L377.0,891.3 L377.4,890.5 L377.7,890.1 L378.0,890.5 L378.3,890.2 L378.7,890.6 L379.0,889.8 L379.3,890.3 L379.6,890.3 L379.9,889.9 L380.3,889.0 L380.6,889.8 L380.9,890.0 L381.2,889.4 L381.6,889.4 L381.9,888.9 L382.2,889.7 L382.5,889.8 L382.8,889.3 L383.2,889.1 L383.5,889.0 L383.8,888.8 L384.1,889.5 L384.5,889.2 L384.8,889.0 L385.1,888.6 L385.4,888.7 L385.7,888.9 L386.1,889.1 L386.4,888.5 L386.7,888.4 L387.0,887.9 L387.4,888.7 L387.7,888.1 L388.0,888.9 L388.3,888.7 L388.6,888.7 L389.0,888.6 L389.3,888.7 L389.6,888.6 L389.9,888.4 L390.3,888.5 L390.6,888.1 L390.9,888.3 L391.2,888.3 L391.5,887.8 L391.9,888.2 L392.2,888.2 L392.5,888.2 L392.8,888.2 L393.2,888.0 L393.5,888.4 L393.8,887.8 L394.1,887.7 L394.5,887.8" fill="none" stroke="#f0305a" stroke-width="2.4" stroke-linejoin="round" />
<path d="M398.7,886.4 L399.5,886.7 L400.3,886.3 L401.2,886.2 L402.0,886.0 L402.8,886.3 L403.6,886.3 L404.4,885.8 L405.3,886.4 L406.1,885.9 L406.9,885.9 L407.7,886.6 L408.5,886.1 L409.3,886.4 L410.2,886.5 L411.0,886.8 L411.8,886.7 L412.6,886.1 L413.4,886.3 L414.2,886.1 L415.1,886.5 L415.9,886.3 L416.7,886.3 L417.5,886.7 L418.3,886.7 L419.2,886.1 L420.0,886.2 L420.8,886.5 L421.6,886.2 L422.4,886.0 L423.2,885.7 L424.1,886.5 L424.9,886.0 L425.7,885.6 L426.5,886.2 L427.3,885.8 L428.1,887.0 L429.0,885.8 L429.8,886.2 L430.6,886.8 L430.6,886.1 L431.5,890.7 L432.4,894.8 L433.2,898.6 L434.1,902.2 L435.0,905.5 L435.9,908.2 L436.8,910.8 L437.6,913.0 L438.5,915.3 L439.4,917.2 L440.3,918.8 L441.2,920.5 L442.0,921.7 L442.9,923.1 L443.8,924.9 L444.7,926.0 L445.6,927.1 L446.5,928.1 L447.3,928.8 L448.2,929.9 L449.1,930.7 L450.0,931.3 L450.9,931.8 L451.7,932.6 L452.6,933.3 L453.5,933.6 L454.4,934.2 L455.3,934.8 L456.1,935.2 L457.0,935.9 L457.9,936.2 L458.8,936.7 L459.7,936.8 L460.5,937.2 L461.4,937.9 L462.3,937.9 L463.2,938.6 L464.1,938.5 L464.9,939.0 L465.8,939.4 L466.7,939.7 L467.6,939.9 L468.5,940.1 L469.3,940.5 L470.2,940.5 L471.1,941.1 L472.0,941.1 L472.9,941.3 L473.8,941.8 L474.6,941.7 L475.5,942.1 L476.4,942.5 L477.3,942.4 L478.2,942.6 L479.0,942.6 L479.9,943.0 L480.8,942.9 L481.7,943.1 L482.6,943.3 L483.4,943.4 L484.3,943.7 L485.2,944.0 L486.1,944.0 L487.0,944.1 L487.8,944.4 L488.7,944.6 L489.6,944.9 L490.5,944.7 L491.4,944.9 L492.2,945.3 L493.1,945.2 L494.0,945.2 L494.9,945.5 L495.8,945.5 L496.6,945.6 L497.5,946.1 L498.4,946.0 L499.3,946.0 L500.2,946.1 L501.0,946.1 L501.9,946.7 L502.8,946.5 L503.7,946.5 L504.6,946.5 L505.5,946.6 L506.3,947.1 L507.2,947.1 L508.1,947.3 L509.0,947.1 L509.9,947.5 L510.7,947.2 L511.6,947.3 L512.5,947.5 L513.4,948.0 L514.3,947.8 L515.1,947.7 L516.0,948.1 L516.9,948.0 L517.8,948.0 L518.7,948.0 L519.5,948.1 L520.4,948.2 L521.3,948.4 L522.2,948.4 L523.1,948.5 L523.9,948.4 L524.8,948.6 L525.7,948.5 L526.6,949.0 L527.5,948.6 L528.3,948.9 L529.2,948.7 L530.1,948.9 L531.0,948.9 L531.9,948.8 L532.7,949.2 L533.6,949.2 L534.5,949.2 L535.4,949.2" fill="none" stroke="#f0305a" stroke-width="2.3" stroke-linejoin="round" />
<path d="M326.6,956.8 L327.4,956.4 L328.1,956.5 L328.9,956.6 L329.6,956.5 L330.4,956.8 L331.1,956.1 L331.9,956.3 L332.7,956.0 L333.4,956.6 L334.2,956.7 L334.9,956.3 L335.7,956.8 L336.4,956.4 L337.2,956.6 L337.9,956.5 L338.7,956.3 L339.5,956.4 L340.2,956.0 L341.0,956.3 L341.7,956.7 L342.5,956.2 L343.2,956.7 L344.0,956.4 L344.8,956.7 L345.5,956.6 L346.3,956.1 L347.0,956.5 L347.8,956.6 L348.5,956.5 L349.3,956.5 L350.0,956.1 L350.8,956.7 L351.6,956.7 L352.3,956.3 L353.1,956.8 L353.8,956.5 L354.6,956.1 L355.3,956.4 L356.1,956.5 L356.1,956.4 L356.4,937.7 L356.7,925.5 L357.1,917.3 L357.4,911.7 L357.7,908.1 L358.0,905.8 L358.4,903.8 L358.7,901.8 L359.0,901.2 L359.3,899.6 L359.6,898.5 L360.0,897.7 L360.3,896.8 L360.6,895.5 L360.9,895.3 L361.3,894.3 L361.6,893.4 L361.9,892.5 L362.2,892.2 L362.5,890.8 L362.9,890.6 L363.2,889.9 L363.5,889.4 L363.8,888.9 L364.2,888.4 L364.5,887.2 L364.8,887.0 L365.1,886.6 L365.4,885.8 L365.8,885.8 L366.1,885.0 L366.4,884.7 L366.7,884.6 L367.1,883.7 L367.4,884.0 L367.7,882.9 L368.0,883.0 L368.3,882.3 L368.7,881.7 L369.0,881.6 L369.3,881.6 L369.6,881.2 L370.0,881.0 L370.3,880.9 L370.6,880.6 L370.9,880.0 L371.2,879.6 L371.6,880.1 L371.9,879.3 L372.2,878.9 L372.5,878.9 L372.9,879.0 L373.2,878.2 L373.5,878.6 L373.8,877.9 L374.1,877.4 L374.5,878.3 L374.8,877.5 L375.1,877.3 L375.4,877.2 L375.8,877.3 L376.1,877.0 L376.4,877.2 L376.7,876.6 L377.0,876.4 L377.4,876.6 L377.7,876.6 L378.0,876.3 L378.3,876.1 L378.7,875.9 L379.0,875.9 L379.3,875.7 L379.6,876.0 L379.9,876.4 L380.3,875.3 L380.6,875.0 L380.9,875.7 L381.2,875.4 L381.6,875.1 L381.9,874.8 L382.2,874.8 L382.5,874.5 L382.8,874.9 L383.2,874.7 L383.5,874.6 L383.8,874.8 L384.1,874.3 L384.5,874.4 L384.8,874.2 L385.1,874.6 L385.4,874.1 L385.7,874.7 L386.1,874.2 L386.4,875.0 L386.7,874.5 L387.0,874.0 L387.4,874.3 L387.7,874.0 L388.0,874.5 L388.3,873.6 L388.6,873.8 L389.0,874.0 L389.3,873.8 L389.6,873.8 L389.9,873.4 L390.3,873.8 L390.6,874.2 L390.9,873.8 L391.2,873.4 L391.5,873.5 L391.9,873.8 L392.2,873.5 L392.5,873.6 L392.8,873.4 L393.2,874.1 L393.5,873.8 L393.8,873.4 L394.1,873.6 L394.5,873.4" fill="none" stroke="#1040f0" stroke-width="2.4" stroke-linejoin="round" />
<path d="M398.7,871.0 L399.5,871.6 L400.3,871.5 L401.2,871.7 L402.0,871.7 L402.8,871.6 L403.6,872.0 L404.4,872.1 L405.3,871.1 L406.1,871.6 L406.9,871.2 L407.7,871.5 L408.5,871.5 L409.3,871.3 L410.2,871.3 L411.0,871.9 L411.8,871.2 L412.6,871.8 L413.4,871.5 L414.2,870.8 L415.1,871.5 L415.9,871.0 L416.7,871.6 L417.5,871.3 L418.3,871.5 L419.2,871.4 L420.0,871.8 L420.8,871.8 L421.6,871.4 L422.4,872.0 L423.2,871.8 L424.1,871.3 L424.9,871.7 L425.7,871.8 L426.5,871.9 L427.3,871.5 L428.1,871.6 L429.0,871.5 L429.8,871.6 L430.6,871.0 L430.6,871.6 L431.5,877.4 L432.4,882.2 L433.2,886.8 L434.1,890.9 L435.0,894.9 L435.9,897.9 L436.8,901.2 L437.6,904.1 L438.5,906.9 L439.4,908.9 L440.3,911.2 L441.2,912.9 L442.0,915.0 L442.9,916.8 L443.8,918.1 L444.7,919.7 L445.6,920.8 L446.5,922.2 L447.3,923.2 L448.2,924.2 L449.1,925.1 L450.0,926.1 L450.9,927.0 L451.7,927.7 L452.6,928.5 L453.5,929.1 L454.4,929.8 L455.3,930.7 L456.1,930.9 L457.0,931.3 L457.9,931.9 L458.8,932.4 L459.7,932.9 L460.5,933.5 L461.4,934.0 L462.3,934.1 L463.2,934.5 L464.1,935.0 L464.9,935.3 L465.8,935.7 L466.7,936.1 L467.6,936.4 L468.5,936.7 L469.3,937.0 L470.2,937.5 L471.1,937.7 L472.0,937.8 L472.9,938.3 L473.8,938.8 L474.6,938.7 L475.5,939.3 L476.4,938.9 L477.3,939.4 L478.2,939.6 L479.0,940.0 L479.9,940.3 L480.8,940.4 L481.7,940.6 L482.6,940.9 L483.4,941.0 L484.3,941.1 L485.2,941.3 L486.1,941.7 L487.0,942.1 L487.8,941.9 L488.7,942.2 L489.6,942.2 L490.5,942.2 L491.4,942.4 L492.2,942.7 L493.1,942.8 L494.0,942.9 L494.9,943.2 L495.8,943.4 L496.6,943.4 L497.5,943.7 L498.4,943.9 L499.3,944.1 L500.2,944.1 L501.0,944.3 L501.9,944.2 L502.8,944.5 L503.7,944.4 L504.6,944.6 L505.5,945.0 L506.3,944.8 L507.2,945.1 L508.1,945.0 L509.0,945.2 L509.9,945.4 L510.7,945.4 L511.6,945.7 L512.5,945.7 L513.4,945.8 L514.3,946.0 L515.1,946.0 L516.0,946.3 L516.9,946.1 L517.8,946.5 L518.7,946.3 L519.5,946.4 L520.4,946.5 L521.3,946.7 L522.2,946.3 L523.1,946.9 L523.9,946.9 L524.8,947.1 L525.7,946.9 L526.6,947.2 L527.5,947.1 L528.3,947.4 L529.2,947.3 L530.1,947.5 L531.0,947.4 L531.9,947.6 L532.7,947.8 L533.6,947.6 L534.5,947.9 L535.4,948.0" fill="none" stroke="#1040f0" stroke-width="2.3" stroke-linejoin="round" />
<path d="M326.6,956.8 L327.4,957.4 L328.1,956.8 L328.9,957.1 L329.6,957.2 L330.4,957.0 L331.1,956.9 L331.9,957.1 L332.7,957.1 L333.4,956.8 L334.2,956.8 L334.9,957.0 L335.7,957.2 L336.4,957.2 L337.2,957.1 L337.9,956.9 L338.7,956.9 L339.5,956.9 L340.2,956.7 L341.0,957.1 L341.7,957.1 L342.5,957.1 L343.2,956.6 L344.0,957.5 L344.8,956.9 L345.5,956.9 L346.3,957.0 L347.0,956.5 L347.8,956.7 L348.5,956.8 L349.3,957.2 L350.0,956.9 L350.8,957.1 L351.6,957.0 L352.3,957.0 L353.1,957.1 L353.8,956.9 L354.6,956.6 L355.3,956.8 L356.1,957.0 L356.1,957.0 L356.4,932.3 L356.7,916.7 L357.1,906.9 L357.4,900.2 L357.7,895.1 L358.0,892.1 L358.4,889.0 L358.7,887.4 L359.0,885.6 L359.3,883.8 L359.6,882.9 L360.0,881.2 L360.3,879.9 L360.6,879.3 L360.9,877.6 L361.3,877.0 L361.6,875.7 L361.9,874.9 L362.2,874.2 L362.5,873.3 L362.9,872.8 L363.2,871.7 L363.5,871.0 L363.8,869.6 L364.2,869.0 L364.5,869.0 L364.8,867.7 L365.1,867.2 L365.4,866.8 L365.8,865.9 L366.1,865.3 L366.4,865.1 L366.7,864.5 L367.1,863.8 L367.4,863.7 L367.7,862.8 L368.0,862.5 L368.3,862.2 L368.7,861.8 L369.0,861.0 L369.3,860.5 L369.6,860.3 L370.0,860.2 L370.3,859.4 L370.6,859.2 L370.9,858.8 L371.2,858.3 L371.6,858.5 L371.9,858.0 L372.2,857.9 L372.5,857.7 L372.9,856.6 L373.2,856.6 L373.5,857.1 L373.8,856.3 L374.1,856.3 L374.5,855.6 L374.8,855.7 L375.1,855.6 L375.4,855.3 L375.8,855.0 L376.1,854.9 L376.4,854.8 L376.7,854.6 L377.0,854.3 L377.4,854.6 L377.7,854.1 L378.0,854.0 L378.3,853.9 L378.7,853.5 L379.0,853.9 L379.3,853.5 L379.6,853.5 L379.9,853.0 L380.3,853.2 L380.6,852.9 L380.9,852.7 L381.2,853.2 L381.6,852.5 L381.9,852.7 L382.2,852.5 L382.5,852.4 L382.8,852.0 L383.2,852.0 L383.5,851.6 L383.8,852.0 L384.1,852.1 L384.5,852.0 L384.8,851.6 L385.1,851.3 L385.4,851.6 L385.7,851.8 L386.1,851.5 L386.4,851.4 L386.7,851.4 L387.0,851.6 L387.4,852.0 L387.7,851.4 L388.0,850.9 L388.3,851.1 L388.6,851.7 L389.0,851.1 L389.3,851.6 L389.6,850.4 L389.9,850.9 L390.3,851.3 L390.6,850.7 L390.9,851.1 L391.2,850.7 L391.5,850.8 L391.9,851.1 L392.2,850.5 L392.5,851.1 L392.8,850.3 L393.2,850.6 L393.5,850.9 L393.8,851.1 L394.1,850.1 L394.5,850.1" fill="none" stroke="#ff7010" stroke-width="2.4" stroke-linejoin="round" />
<path d="M398.7,848.8 L399.5,847.9 L400.3,848.4 L401.2,848.5 L402.0,848.4 L402.8,848.5 L403.6,848.0 L404.4,848.4 L405.3,848.9 L406.1,847.8 L406.9,848.2 L407.7,848.7 L408.5,848.5 L409.3,848.7 L410.2,848.4 L411.0,848.3 L411.8,848.3 L412.6,848.6 L413.4,848.6 L414.2,848.2 L415.1,848.4 L415.9,847.8 L416.7,848.6 L417.5,848.2 L418.3,848.4 L419.2,848.6 L420.0,848.0 L420.8,848.4 L421.6,848.7 L422.4,848.5 L423.2,848.1 L424.1,848.7 L424.9,848.0 L425.7,848.2 L426.5,848.5 L427.3,848.0 L428.1,847.9 L429.0,848.2 L429.8,848.4 L430.6,847.9 L430.6,848.2 L431.5,855.7 L432.4,862.1 L433.2,867.9 L434.1,873.3 L435.0,878.3 L435.9,882.3 L436.8,886.4 L437.6,890.0 L438.5,893.1 L439.4,896.4 L440.3,899.1 L441.2,901.6 L442.0,904.0 L442.9,906.1 L443.8,907.9 L444.7,909.8 L445.6,911.3 L446.5,913.1 L447.3,914.4 L448.2,916.0 L449.1,917.0 L450.0,918.2 L450.9,919.0 L451.7,920.1 L452.6,921.1 L453.5,921.8 L454.4,922.7 L455.3,923.6 L456.1,924.5 L457.0,925.3 L457.9,925.8 L458.8,926.5 L459.7,927.1 L460.5,927.6 L461.4,928.4 L462.3,928.5 L463.2,929.3 L464.1,929.8 L464.9,930.1 L465.8,930.8 L466.7,930.9 L467.6,931.3 L468.5,931.9 L469.3,932.4 L470.2,932.7 L471.1,933.3 L472.0,933.2 L472.9,933.7 L473.8,934.2 L474.6,934.5 L475.5,934.6 L476.4,934.8 L477.3,935.5 L478.2,935.7 L479.0,936.2 L479.9,936.1 L480.8,936.4 L481.7,936.4 L482.6,937.0 L483.4,937.3 L484.3,937.6 L485.2,937.6 L486.1,938.2 L487.0,938.1 L487.8,938.4 L488.7,938.8 L489.6,939.0 L490.5,939.0 L491.4,939.1 L492.2,939.6 L493.1,939.7 L494.0,939.7 L494.9,940.2 L495.8,940.4 L496.6,940.7 L497.5,940.7 L498.4,940.9 L499.3,941.1 L500.2,941.4 L501.0,941.6 L501.9,941.8 L502.8,941.9 L503.7,941.8 L504.6,942.1 L505.5,942.3 L506.3,942.3 L507.2,942.4 L508.1,942.8 L509.0,942.9 L509.9,942.9 L510.7,943.0 L511.6,943.3 L512.5,943.3 L513.4,943.5 L514.3,943.5 L515.1,943.9 L516.0,943.7 L516.9,943.9 L517.8,944.2 L518.7,944.1 L519.5,944.2 L520.4,944.6 L521.3,944.3 L522.2,944.8 L523.1,944.9 L523.9,944.9 L524.8,944.8 L525.7,945.0 L526.6,945.2 L527.5,945.1 L528.3,945.3 L529.2,945.2 L530.1,945.1 L531.0,945.6 L531.9,946.1 L532.7,945.8 L533.6,946.0 L534.5,945.9 L535.4,946.0" fill="none" stroke="#ff7010" stroke-width="2.3" stroke-linejoin="round" />
<path d="M326.6,955.8 L327.4,955.8 L328.1,955.6 L328.9,955.5 L329.6,956.1 L330.4,955.3 L331.1,955.5 L331.9,955.5 L332.7,955.4 L333.4,955.7 L334.2,955.5 L334.9,955.3 L335.7,955.3 L336.4,955.4 L337.2,955.6 L337.9,955.7 L338.7,955.2 L339.5,955.4 L340.2,955.6 L341.0,956.0 L341.7,955.7 L342.5,955.9 L343.2,955.2 L344.0,955.5 L344.8,955.7 L345.5,955.6 L346.3,954.9 L347.0,955.2 L347.8,955.8 L348.5,955.5 L349.3,955.8 L350.0,955.9 L350.8,955.5 L351.6,954.9 L352.3,955.1 L353.1,955.5 L353.8,955.6 L354.6,955.5 L355.3,955.3 L356.1,955.8 L356.1,955.5 L356.4,927.3 L356.7,910.1 L357.1,898.1 L357.4,890.8 L357.7,885.0 L358.0,881.8 L358.4,878.5 L358.7,875.8 L359.0,873.9 L359.3,872.6 L359.6,870.7 L360.0,869.7 L360.3,868.6 L360.6,866.8 L360.9,865.3 L361.3,864.3 L361.6,863.8 L361.9,862.1 L362.2,861.2 L362.5,860.5 L362.9,860.2 L363.2,858.2 L363.5,857.4 L363.8,856.7 L364.2,856.5 L364.5,855.7 L364.8,854.2 L365.1,853.5 L365.4,852.9 L365.8,852.4 L366.1,851.6 L366.4,851.2 L366.7,850.5 L367.1,850.1 L367.4,849.2 L367.7,848.9 L368.0,847.9 L368.3,847.5 L368.7,847.5 L369.0,846.2 L369.3,846.6 L369.6,845.7 L370.0,845.1 L370.3,844.6 L370.6,845.3 L370.9,843.9 L371.2,843.5 L371.6,843.1 L371.9,843.8 L372.2,843.1 L372.5,842.6 L372.9,842.4 L373.2,841.5 L373.5,841.9 L373.8,841.0 L374.1,840.9 L374.5,841.3 L374.8,840.9 L375.1,840.5 L375.4,840.1 L375.8,839.6 L376.1,839.8 L376.4,839.2 L376.7,839.8 L377.0,840.0 L377.4,839.0 L377.7,838.6 L378.0,838.7 L378.3,838.7 L378.7,838.1 L379.0,837.5 L379.3,838.0 L379.6,838.0 L379.9,837.9 L380.3,837.0 L380.6,837.4 L380.9,837.1 L381.2,836.8 L381.6,836.8 L381.9,837.2 L382.2,836.6 L382.5,836.5 L382.8,836.5 L383.2,836.3 L383.5,836.6 L383.8,836.4 L384.1,836.5 L384.5,836.0 L384.8,836.3 L385.1,835.9 L385.4,836.3 L385.7,836.0 L386.1,836.0 L386.4,835.8 L386.7,835.7 L387.0,835.7 L387.4,835.7 L387.7,836.2 L388.0,835.2 L388.3,835.6 L388.6,835.5 L389.0,835.6 L389.3,835.0 L389.6,835.5 L389.9,835.0 L390.3,834.8 L390.6,834.6 L390.9,834.7 L391.2,834.8 L391.5,835.4 L391.9,834.6 L392.2,834.6 L392.5,834.6 L392.8,834.6 L393.2,834.8 L393.5,835.0 L393.8,834.4 L394.1,834.4 L394.5,835.0" fill="none" stroke="#a050d0" stroke-width="2.4" stroke-linejoin="round" />
<path d="M398.7,832.2 L399.5,832.4 L400.3,832.2 L401.2,832.4 L402.0,832.2 L402.8,832.2 L403.6,832.2 L404.4,832.9 L405.3,832.3 L406.1,832.5 L406.9,832.8 L407.7,832.3 L408.5,832.9 L409.3,832.2 L410.2,832.0 L411.0,832.6 L411.8,832.2 L412.6,832.4 L413.4,832.3 L414.2,832.9 L415.1,832.3 L415.9,832.5 L416.7,832.3 L417.5,832.5 L418.3,832.2 L419.2,832.4 L420.0,832.3 L420.8,832.1 L421.6,832.4 L422.4,832.2 L423.2,832.4 L424.1,832.3 L424.9,832.6 L425.7,832.3 L426.5,832.1 L427.3,832.5 L428.1,832.3 L429.0,832.4 L429.8,832.8 L430.6,832.4 L430.6,832.3 L431.5,840.8 L432.4,848.4 L433.2,854.9 L434.1,861.1 L435.0,866.3 L435.9,871.6 L436.8,876.2 L437.6,880.5 L438.5,884.1 L439.4,887.7 L440.3,891.0 L441.2,893.7 L442.0,896.5 L442.9,898.6 L443.8,901.3 L444.7,903.2 L445.6,905.2 L446.5,907.0 L447.3,908.2 L448.2,910.3 L449.1,911.2 L450.0,912.9 L450.9,913.9 L451.7,914.8 L452.6,916.5 L453.5,917.4 L454.4,918.0 L455.3,919.0 L456.1,920.0 L457.0,920.7 L457.9,921.6 L458.8,922.2 L459.7,922.7 L460.5,923.7 L461.4,924.2 L462.3,924.7 L463.2,925.1 L464.1,926.1 L464.9,926.5 L465.8,927.1 L466.7,927.6 L467.6,928.1 L468.5,928.6 L469.3,929.2 L470.2,929.7 L471.1,929.9 L472.0,930.2 L472.9,930.5 L473.8,931.1 L474.6,931.4 L475.5,931.7 L476.4,932.0 L477.3,932.5 L478.2,932.8 L479.0,932.9 L479.9,933.5 L480.8,933.9 L481.7,934.4 L482.6,934.4 L483.4,934.8 L484.3,934.7 L485.2,935.3 L486.1,935.5 L487.0,935.7 L487.8,935.9 L488.7,936.6 L489.6,936.4 L490.5,936.9 L491.4,937.1 L492.2,937.4 L493.1,937.7 L494.0,937.9 L494.9,938.4 L495.8,938.2 L496.6,938.5 L497.5,938.8 L498.4,938.9 L499.3,938.8 L500.2,939.3 L501.0,939.6 L501.9,939.5 L502.8,940.0 L503.7,940.1 L504.6,940.3 L505.5,940.5 L506.3,940.5 L507.2,940.7 L508.1,941.1 L509.0,941.1 L509.9,941.3 L510.7,941.5 L511.6,941.6 L512.5,941.8 L513.4,942.0 L514.3,942.0 L515.1,942.3 L516.0,942.3 L516.9,942.5 L517.8,942.7 L518.7,942.8 L519.5,942.9 L520.4,943.0 L521.3,943.1 L522.2,943.3 L523.1,943.5 L523.9,943.3 L524.8,943.4 L525.7,943.7 L526.6,943.7 L527.5,943.9 L528.3,944.1 L529.2,944.1 L530.1,943.8 L531.0,944.2 L531.9,944.3 L532.7,944.6 L533.6,944.5 L534.5,944.4 L535.4,944.7" fill="none" stroke="#a050d0" stroke-width="2.3" stroke-linejoin="round" />
<rect x="326.5" y="810.9" width="210.0" height="156.39999999999998" fill="none" stroke="#111" stroke-width="1.5" />
<rect x="390.7" y="808.4" width="4.5" height="5" fill="#fff" stroke="none" stroke-width="1" />
<line x1="388.2" y1="815.4" x2="393.7" y2="806.4" stroke="#111" stroke-width="1.4" />
<line x1="392.2" y1="815.4" x2="397.7" y2="806.4" stroke="#111" stroke-width="1.4" />
<rect x="394.0" y="964.8" width="4.5" height="5" fill="#fff" stroke="none" stroke-width="1" />
<line x1="391.5" y1="973.3" x2="397.0" y2="961.3" stroke="#111" stroke-width="1.4" />
<line x1="395.5" y1="973.3" x2="401.0" y2="961.3" stroke="#111" stroke-width="1.4" />
<line x1="326.6" y1="967.6" x2="326.6" y2="964.6" stroke="#111" stroke-width="1" />
<text x="326.6" y="980.6" font-size="11.5" fill="#111" text-anchor="middle" font-weight="normal" font-family="'Liberation Sans', sans-serif" stroke="#111" stroke-width="0.3">0</text>
<line x1="356.1" y1="967.6" x2="356.1" y2="964.6" stroke="#111" stroke-width="1" />
<text x="356.1" y="980.6" font-size="11.5" fill="#111" text-anchor="middle" font-weight="normal" font-family="'Liberation Sans', sans-serif" stroke="#111" stroke-width="0.3">20</text>
<line x1="385.6" y1="967.6" x2="385.6" y2="964.6" stroke="#111" stroke-width="1" />
<text x="385.6" y="980.6" font-size="11.5" fill="#111" text-anchor="middle" font-weight="normal" font-family="'Liberation Sans', sans-serif" stroke="#111" stroke-width="0.3">40</text>
<line x1="341.35" y1="967.6" x2="341.35" y2="966" stroke="#111" stroke-width="0.8" />
<line x1="370.85" y1="967.6" x2="370.85" y2="966" stroke="#111" stroke-width="0.8" />
<line x1="410.1" y1="967.6" x2="410.1" y2="964.6" stroke="#111" stroke-width="1" />
<text x="410.1" y="980.6" font-size="11.5" fill="#111" text-anchor="middle" font-weight="normal" font-family="'Liberation Sans', sans-serif" stroke="#111" stroke-width="0.3">68</text>
<line x1="432.88" y1="967.6" x2="432.88" y2="964.6" stroke="#111" stroke-width="1" />
<text x="432.88" y="980.6" font-size="11.5" fill="#111" text-anchor="middle" font-weight="normal" font-family="'Liberation Sans', sans-serif" stroke="#111" stroke-width="0.3">70</text>
<line x1="455.66" y1="967.6" x2="455.66" y2="964.6" stroke="#111" stroke-width="1" />
<text x="455.66" y="980.6" font-size="11.5" fill="#111" text-anchor="middle" font-weight="normal" font-family="'Liberation Sans', sans-serif" stroke="#111" stroke-width="0.3">72</text>
<line x1="478.44000000000005" y1="967.6" x2="478.44000000000005" y2="964.6" stroke="#111" stroke-width="1" />
<text x="478.44000000000005" y="980.6" font-size="11.5" fill="#111" text-anchor="middle" font-weight="normal" font-family="'Liberation Sans', sans-serif" stroke="#111" stroke-width="0.3">74</text>
<line x1="501.22" y1="967.6" x2="501.22" y2="964.6" stroke="#111" stroke-width="1" />
<text x="501.22" y="980.6" font-size="11.5" fill="#111" text-anchor="middle" font-weight="normal" font-family="'Liberation Sans', sans-serif" stroke="#111" stroke-width="0.3">76</text>
<line x1="524.0" y1="967.6" x2="524.0" y2="964.6" stroke="#111" stroke-width="1" />
<text x="524.0" y="980.6" font-size="11.5" fill="#111" text-anchor="middle" font-weight="normal" font-family="'Liberation Sans', sans-serif" stroke="#111" stroke-width="0.3">78</text>
<line x1="421.49" y1="967.6" x2="421.49" y2="966" stroke="#111" stroke-width="0.8" />
<line x1="444.27000000000004" y1="967.6" x2="444.27000000000004" y2="966" stroke="#111" stroke-width="0.8" />
<line x1="467.05" y1="967.6" x2="467.05" y2="966" stroke="#111" stroke-width="0.8" />
<line x1="489.83000000000004" y1="967.6" x2="489.83000000000004" y2="966" stroke="#111" stroke-width="0.8" />
<line x1="512.61" y1="967.6" x2="512.61" y2="966" stroke="#111" stroke-width="0.8" />
<line x1="326.5" y1="960" x2="330.1" y2="960" stroke="#111" stroke-width="1.2" />
<text x="321.5" y="964" font-size="11.5" fill="#111" text-anchor="end" font-weight="normal" font-family="'Liberation Sans', sans-serif" stroke="#111" stroke-width="0.3">4</text>
<line x1="326.5" y1="930" x2="330.1" y2="930" stroke="#111" stroke-width="1.2" />
<text x="321.5" y="934" font-size="11.5" fill="#111" text-anchor="end" font-weight="normal" font-family="'Liberation Sans', sans-serif" stroke="#111" stroke-width="0.3">5</text>
<line x1="326.5" y1="900" x2="330.1" y2="900" stroke="#111" stroke-width="1.2" />
<text x="321.5" y="904" font-size="11.5" fill="#111" text-anchor="end" font-weight="normal" font-family="'Liberation Sans', sans-serif" stroke="#111" stroke-width="0.3">6</text>
<line x1="326.5" y1="870" x2="330.1" y2="870" stroke="#111" stroke-width="1.2" />
<text x="321.5" y="874" font-size="11.5" fill="#111" text-anchor="end" font-weight="normal" font-family="'Liberation Sans', sans-serif" stroke="#111" stroke-width="0.3">7</text>
<line x1="326.5" y1="840" x2="330.1" y2="840" stroke="#111" stroke-width="1.2" />
<text x="321.5" y="844" font-size="11.5" fill="#111" text-anchor="end" font-weight="normal" font-family="'Liberation Sans', sans-serif" stroke="#111" stroke-width="0.3">8</text>
<line x1="326.5" y1="945.0" x2="328.1" y2="945.0" stroke="#111" stroke-width="0.8" />
<line x1="326.5" y1="915.0" x2="328.1" y2="915.0" stroke="#111" stroke-width="0.8" />
<line x1="326.5" y1="885.0" x2="328.1" y2="885.0" stroke="#111" stroke-width="0.8" />
<line x1="326.5" y1="855.0" x2="328.1" y2="855.0" stroke="#111" stroke-width="0.8" />
<text x="0" y="0" font-size="12" fill="#111" text-anchor="middle" font-weight="normal" font-family="'Liberation Sans', sans-serif" stroke="#111" stroke-width="0.25" transform="translate(309,892.7) rotate(-90)">PSC (µA)</text>
<text x="422" y="991.7" font-size="12" fill="#111" text-anchor="middle" font-weight="normal" font-family="'Liberation Sans', sans-serif" stroke="#111" stroke-width="0.25">Time (s)</text>
<text x="290.9" y="821.9" font-size="14.6" fill="#222" text-anchor="start" font-weight="normal" font-family="'Liberation Serif', serif" letter-spacing="0.8">(k)</text>
<text x="331.7" y="826" font-size="9.9" fill="#111" text-anchor="start" font-weight="normal" font-family="'Liberation Sans', sans-serif" >Light pulse: 808 nm</text>
<text x="446" y="825.5" font-size="9.5" fill="#111" text-anchor="start" font-weight="normal" font-family="'Liberation Sans', sans-serif" >Intensity (mW/cm<tspan font-size="6" dy="-3.3">2</tspan><tspan dy="3.3">) :</tspan></text>
<line x1="495.4" y1="835.9" x2="511.8" y2="835.9" stroke="#b040f0" stroke-width="2.0" />
<text x="515.5" y="839.5" font-size="10" fill="#111" text-anchor="start" font-weight="normal" font-family="'Liberation Sans', sans-serif" >7</text>
<line x1="495.4" y1="847.6" x2="511.8" y2="847.6" stroke="#d4900a" stroke-width="2.0" />
<text x="515.5" y="851.2" font-size="10" fill="#111" text-anchor="start" font-weight="normal" font-family="'Liberation Sans', sans-serif" >8</text>
<line x1="495.4" y1="859.9" x2="511.8" y2="859.9" stroke="#109a20" stroke-width="2.0" />
<text x="515.5" y="863.5" font-size="10" fill="#111" text-anchor="start" font-weight="normal" font-family="'Liberation Sans', sans-serif" >9</text>
<line x1="495.4" y1="871.4" x2="511.8" y2="871.4" stroke="#f0305a" stroke-width="2.0" />
<text x="515.5" y="875.0" font-size="10" fill="#111" text-anchor="start" font-weight="normal" font-family="'Liberation Sans', sans-serif" >10</text>
<line x1="495.4" y1="883.1" x2="511.8" y2="883.1" stroke="#1040f0" stroke-width="2.0" />
<text x="515.5" y="886.7" font-size="10" fill="#111" text-anchor="start" font-weight="normal" font-family="'Liberation Sans', sans-serif" >11</text>
<line x1="495.4" y1="894.5" x2="511.8" y2="894.5" stroke="#ff7010" stroke-width="2.0" />
<text x="515.5" y="898.1" font-size="10" fill="#111" text-anchor="start" font-weight="normal" font-family="'Liberation Sans', sans-serif" >12</text>
<line x1="495.4" y1="906.3" x2="511.8" y2="906.3" stroke="#a050d0" stroke-width="2.0" />
<text x="515.5" y="909.9" font-size="10" fill="#111" text-anchor="start" font-weight="normal" font-family="'Liberation Sans', sans-serif" >13</text>
<text x="0" y="0" font-size="7.1" fill="#20a040" text-anchor="middle" font-weight="bold" font-family="'Liberation Sans', sans-serif" transform="translate(454.3,866.8) rotate(-90)">Decay constant</text>
<text x="0" y="0" font-size="7.1" fill="#20a040" text-anchor="middle" font-weight="bold" font-family="'Liberation Sans', sans-serif" transform="translate(466,866) rotate(-90)">(7 ~ 13 mW/cm<tspan font-size="5" dy="-2.5">2</tspan><tspan dy="2.5">):</tspan></text>
<text x="0" y="0" font-size="7.1" fill="#20a040" text-anchor="middle" font-weight="bold" font-family="'Liberation Sans', sans-serif" transform="translate(479,867.5) rotate(-90)">2.60 s ~ 3.22 s</text>
<line x1="443.6" y1="947.7" x2="471.5" y2="917.5" stroke="#f01890" stroke-width="1.3" />
<path d="M467.5,918.5 L474,914.5 L471,921.5 Z" fill="#f01890"/>
<text x="476.5" y="919" font-size="12" fill="#f01890" text-anchor="start" font-weight="normal" font-family="'Liberation Sans', sans-serif" >I<tspan font-size="7.5" dy="2.5">d</tspan></text>
</svg></body></html>
